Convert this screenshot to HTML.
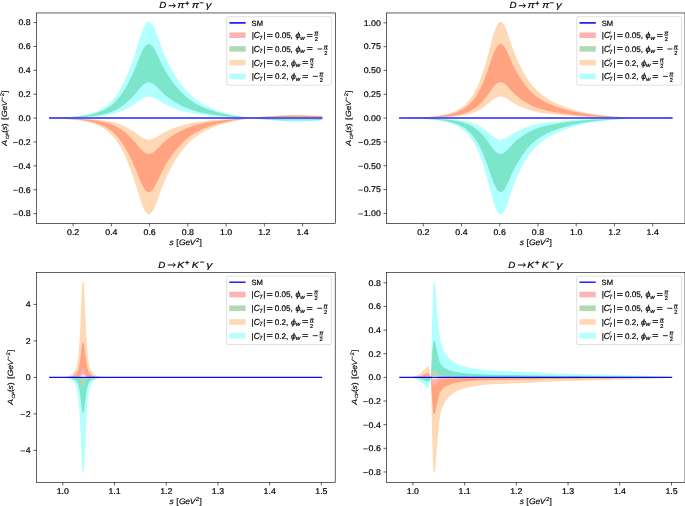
<!DOCTYPE html>
<html><head><meta charset="utf-8"><title>plot</title>
<style>html,body{margin:0;padding:0;background:#fff;} svg text{text-rendering:geometricPrecision} body{width:685px;height:506px;overflow:hidden;font-family:"Liberation Sans",sans-serif;} svg{display:block}</style>
</head><body>
<div style="will-change:transform;width:685px;height:506px">
<svg width="685" height="506" viewBox="0 0 685 506" font-family="Liberation Sans, sans-serif">
<clipPath id="c0"><rect x="36.5" y="12.97" width="298.8" height="210.38"/></clipPath><g clip-path="url(#c0)">
<path d="M49.8,118.1 L51.0,118.1 L52.1,118.1 L53.2,118.2 L54.4,118.2 L55.5,118.2 L56.6,118.2 L57.8,118.3 L58.9,118.3 L60.1,118.3 L61.2,118.4 L62.3,118.4 L63.5,118.4 L64.6,118.5 L65.7,118.5 L66.9,118.5 L68.0,118.6 L69.2,118.6 L70.3,118.6 L71.4,118.7 L72.6,118.7 L73.7,118.7 L74.8,118.8 L76.0,118.8 L77.1,118.9 L78.3,118.9 L79.4,119.0 L80.5,119.0 L81.7,119.1 L82.8,119.2 L83.9,119.3 L85.1,119.3 L86.2,119.4 L87.4,119.5 L88.5,119.6 L89.6,119.7 L90.8,119.9 L91.9,120.0 L93.0,120.1 L94.2,120.3 L95.3,120.4 L96.5,120.6 L97.6,120.8 L98.7,121.0 L99.9,121.2 L101.0,121.4 L102.1,121.6 L103.3,121.9 L104.4,122.2 L105.6,122.5 L106.7,122.8 L107.8,123.1 L109.0,123.5 L110.1,123.8 L111.2,124.3 L112.4,124.7 L113.5,125.2 L114.7,125.7 L115.8,126.3 L116.9,126.9 L118.1,127.5 L119.2,128.2 L120.3,128.9 L121.5,129.7 L122.6,130.5 L123.8,131.3 L124.9,132.2 L126.0,133.2 L127.2,134.2 L128.3,135.2 L129.4,136.3 L130.6,137.4 L131.7,138.5 L132.9,139.7 L134.0,141.0 L135.1,142.3 L136.3,143.6 L137.4,145.0 L138.5,146.4 L139.7,147.7 L140.8,149.0 L142.0,150.3 L143.1,151.3 L144.2,152.3 L145.4,153.0 L146.5,153.5 L147.6,153.8 L148.8,153.9 L149.9,153.8 L151.1,153.5 L152.2,153.0 L153.3,152.3 L154.5,151.5 L155.6,150.5 L156.7,149.4 L157.9,148.2 L159.0,147.0 L160.2,145.9 L161.3,144.7 L162.4,143.6 L163.6,142.5 L164.7,141.5 L165.8,140.5 L167.0,139.6 L168.1,138.7 L169.3,137.9 L170.4,137.1 L171.5,136.3 L172.7,135.6 L173.8,134.8 L174.9,134.1 L176.1,133.4 L177.2,132.8 L178.4,132.2 L179.5,131.5 L180.6,131.0 L181.8,130.4 L182.9,129.9 L184.1,129.3 L185.2,128.9 L186.3,128.4 L187.5,127.9 L188.6,127.5 L189.7,127.1 L190.9,126.7 L192.0,126.3 L193.2,125.9 L194.3,125.6 L195.4,125.2 L196.6,124.9 L197.7,124.6 L198.8,124.3 L200.0,124.0 L201.1,123.8 L202.3,123.5 L203.4,123.3 L204.5,123.1 L205.7,122.8 L206.8,122.6 L207.9,122.4 L209.1,122.2 L210.2,122.0 L211.4,121.8 L212.5,121.7 L213.6,121.5 L214.8,121.3 L215.9,121.2 L217.0,121.0 L218.2,120.9 L219.3,120.7 L220.5,120.6 L221.6,120.4 L222.7,120.3 L223.9,120.2 L225.0,120.1 L226.1,119.9 L227.3,119.8 L228.4,119.7 L229.6,119.6 L230.7,119.5 L231.8,119.4 L233.0,119.3 L234.1,119.2 L235.2,119.2 L236.4,119.1 L237.5,119.0 L238.7,118.9 L239.8,118.8 L240.9,118.8 L242.1,118.7 L243.2,118.6 L244.3,118.5 L245.5,118.5 L246.6,118.4 L247.8,118.3 L248.9,118.2 L250.0,118.2 L251.2,118.1 L252.3,118.0 L253.4,118.0 L254.6,117.9 L255.7,117.8 L256.9,117.8 L258.0,117.7 L259.1,117.7 L260.3,117.6 L261.4,117.6 L262.5,117.5 L263.7,117.5 L264.8,117.5 L266.0,117.4 L267.1,117.4 L268.2,117.4 L269.4,117.3 L270.5,117.3 L271.6,117.3 L272.8,117.2 L273.9,117.2 L275.1,117.2 L276.2,117.2 L277.3,117.1 L278.5,117.1 L279.6,117.1 L280.7,117.1 L281.9,117.0 L283.0,117.0 L284.2,117.0 L285.3,117.0 L286.4,117.0 L287.6,116.9 L288.7,116.9 L289.8,116.9 L291.0,116.9 L292.1,116.9 L293.3,116.9 L294.4,116.9 L295.5,116.9 L296.7,116.9 L297.8,116.9 L298.9,116.9 L300.1,116.9 L301.2,116.9 L302.4,116.9 L303.5,116.9 L304.6,117.0 L305.8,117.0 L306.9,117.0 L308.0,117.0 L309.2,117.0 L310.3,117.0 L311.5,117.0 L312.6,117.0 L313.7,117.1 L314.9,117.1 L316.0,117.1 L317.1,117.1 L318.3,117.1 L319.4,117.1 L320.6,117.2 L321.7,117.2 L321.7,116.2 L320.6,116.1 L319.4,116.1 L318.3,116.1 L317.1,116.0 L316.0,116.0 L314.9,116.0 L313.7,116.0 L312.6,115.9 L311.5,115.9 L310.3,115.9 L309.2,115.8 L308.0,115.8 L306.9,115.8 L305.8,115.8 L304.6,115.7 L303.5,115.7 L302.4,115.7 L301.2,115.7 L300.1,115.7 L298.9,115.6 L297.8,115.6 L296.7,115.6 L295.5,115.6 L294.4,115.6 L293.3,115.6 L292.1,115.6 L291.0,115.7 L289.8,115.7 L288.7,115.7 L287.6,115.7 L286.4,115.7 L285.3,115.8 L284.2,115.8 L283.0,115.8 L281.9,115.9 L280.7,115.9 L279.6,116.0 L278.5,116.0 L277.3,116.1 L276.2,116.1 L275.1,116.2 L273.9,116.3 L272.8,116.3 L271.6,116.4 L270.5,116.4 L269.4,116.5 L268.2,116.6 L267.1,116.6 L266.0,116.7 L264.8,116.8 L263.7,116.9 L262.5,116.9 L261.4,117.0 L260.3,117.1 L259.1,117.2 L258.0,117.3 L256.9,117.4 L255.7,117.6 L254.6,117.7 L253.4,117.8 L252.3,117.9 L251.2,118.1 L250.0,118.2 L248.9,118.4 L247.8,118.5 L246.6,118.7 L245.5,118.8 L244.3,119.0 L243.2,119.2 L242.1,119.3 L240.9,119.5 L239.8,119.6 L238.7,119.8 L237.5,119.9 L236.4,120.1 L235.2,120.3 L234.1,120.4 L233.0,120.6 L231.8,120.8 L230.7,121.0 L229.6,121.2 L228.4,121.4 L227.3,121.7 L226.1,121.9 L225.0,122.2 L223.9,122.4 L222.7,122.7 L221.6,122.9 L220.5,123.2 L219.3,123.5 L218.2,123.8 L217.0,124.1 L215.9,124.5 L214.8,124.8 L213.6,125.1 L212.5,125.5 L211.4,125.8 L210.2,126.2 L209.1,126.6 L207.9,127.0 L206.8,127.4 L205.7,127.9 L204.5,128.3 L203.4,128.8 L202.3,129.3 L201.1,129.8 L200.0,130.4 L198.8,130.9 L197.7,131.5 L196.6,132.2 L195.4,132.8 L194.3,133.5 L193.2,134.2 L192.0,135.0 L190.9,135.8 L189.7,136.6 L188.6,137.5 L187.5,138.4 L186.3,139.3 L185.2,140.3 L184.1,141.3 L182.9,142.4 L181.8,143.5 L180.6,144.7 L179.5,145.9 L178.4,147.2 L177.2,148.5 L176.1,149.8 L174.9,151.2 L173.8,152.7 L172.7,154.2 L171.5,155.7 L170.4,157.4 L169.3,159.0 L168.1,160.8 L167.0,162.6 L165.8,164.5 L164.7,166.4 L163.6,168.5 L162.4,170.7 L161.3,173.0 L160.2,175.5 L159.0,177.9 L157.9,180.4 L156.7,182.8 L155.6,185.1 L154.5,187.1 L153.3,188.9 L152.2,190.3 L151.1,191.3 L149.9,191.9 L148.8,192.1 L147.6,191.9 L146.5,191.3 L145.4,190.2 L144.2,188.7 L143.1,186.8 L142.0,184.6 L140.8,182.0 L139.7,179.3 L138.5,176.5 L137.4,173.7 L136.3,170.8 L135.1,168.1 L134.0,165.4 L132.9,162.8 L131.7,160.3 L130.6,157.9 L129.4,155.6 L128.3,153.4 L127.2,151.3 L126.0,149.3 L124.9,147.3 L123.8,145.4 L122.6,143.7 L121.5,142.0 L120.3,140.4 L119.2,138.9 L118.1,137.5 L116.9,136.2 L115.8,135.0 L114.7,133.8 L113.5,132.8 L112.4,131.8 L111.2,130.8 L110.1,130.0 L109.0,129.2 L107.8,128.4 L106.7,127.7 L105.6,127.1 L104.4,126.5 L103.3,125.9 L102.1,125.4 L101.0,124.9 L99.9,124.5 L98.7,124.1 L97.6,123.7 L96.5,123.3 L95.3,122.9 L94.2,122.6 L93.0,122.3 L91.9,122.0 L90.8,121.7 L89.6,121.5 L88.5,121.3 L87.4,121.0 L86.2,120.8 L85.1,120.7 L83.9,120.5 L82.8,120.3 L81.7,120.2 L80.5,120.0 L79.4,119.9 L78.3,119.8 L77.1,119.7 L76.0,119.6 L74.8,119.5 L73.7,119.4 L72.6,119.3 L71.4,119.3 L70.3,119.2 L69.2,119.1 L68.0,119.0 L66.9,119.0 L65.7,118.9 L64.6,118.8 L63.5,118.8 L62.3,118.7 L61.2,118.6 L60.1,118.6 L58.9,118.5 L57.8,118.5 L56.6,118.4 L55.5,118.4 L54.4,118.3 L53.2,118.2 L52.1,118.2 L51.0,118.1 L49.8,118.1 Z" fill="#ff0000" fill-opacity="0.3" stroke="none"/>
<path d="M49.8,118.1 L51.0,118.1 L52.1,118.0 L53.2,118.0 L54.4,117.9 L55.5,117.8 L56.6,117.8 L57.8,117.7 L58.9,117.7 L60.1,117.6 L61.2,117.6 L62.3,117.5 L63.5,117.4 L64.6,117.4 L65.7,117.3 L66.9,117.2 L68.0,117.2 L69.2,117.1 L70.3,117.0 L71.4,116.9 L72.6,116.9 L73.7,116.8 L74.8,116.7 L76.0,116.6 L77.1,116.5 L78.3,116.4 L79.4,116.3 L80.5,116.2 L81.7,116.0 L82.8,115.9 L83.9,115.7 L85.1,115.5 L86.2,115.4 L87.4,115.2 L88.5,114.9 L89.6,114.7 L90.8,114.5 L91.9,114.2 L93.0,113.9 L94.2,113.6 L95.3,113.3 L96.5,112.9 L97.6,112.5 L98.7,112.1 L99.9,111.7 L101.0,111.3 L102.1,110.8 L103.3,110.3 L104.4,109.7 L105.6,109.1 L106.7,108.5 L107.8,107.8 L109.0,107.0 L110.1,106.2 L111.2,105.4 L112.4,104.4 L113.5,103.4 L114.7,102.4 L115.8,101.2 L116.9,100.0 L118.1,98.7 L119.2,97.3 L120.3,95.8 L121.5,94.2 L122.6,92.5 L123.8,90.8 L124.9,88.9 L126.0,86.9 L127.2,84.9 L128.3,82.8 L129.4,80.6 L130.6,78.3 L131.7,75.9 L132.9,73.4 L134.0,70.8 L135.1,68.1 L136.3,65.4 L137.4,62.5 L138.5,59.7 L139.7,56.9 L140.8,54.2 L142.0,51.6 L143.1,49.4 L144.2,47.5 L145.4,46.0 L146.5,44.9 L147.6,44.3 L148.8,44.1 L149.9,44.3 L151.1,44.9 L152.2,45.9 L153.3,47.3 L154.5,49.1 L155.6,51.1 L156.7,53.4 L157.9,55.8 L159.0,58.3 L160.2,60.7 L161.3,63.2 L162.4,65.5 L163.6,67.7 L164.7,69.8 L165.8,71.7 L167.0,73.6 L168.1,75.4 L169.3,77.2 L170.4,78.8 L171.5,80.5 L172.7,82.0 L173.8,83.5 L174.9,85.0 L176.1,86.4 L177.2,87.7 L178.4,89.0 L179.5,90.3 L180.6,91.5 L181.8,92.7 L182.9,93.8 L184.1,94.9 L185.2,95.9 L186.3,96.9 L187.5,97.8 L188.6,98.7 L189.7,99.6 L190.9,100.4 L192.0,101.2 L193.2,102.0 L194.3,102.7 L195.4,103.4 L196.6,104.0 L197.7,104.7 L198.8,105.3 L200.0,105.8 L201.1,106.4 L202.3,106.9 L203.4,107.4 L204.5,107.9 L205.7,108.3 L206.8,108.8 L207.9,109.2 L209.1,109.6 L210.2,110.0 L211.4,110.4 L212.5,110.7 L213.6,111.1 L214.8,111.4 L215.9,111.7 L217.0,112.1 L218.2,112.4 L219.3,112.7 L220.5,113.0 L221.6,113.3 L222.7,113.5 L223.9,113.8 L225.0,114.0 L226.1,114.3 L227.3,114.5 L228.4,114.8 L229.6,115.0 L230.7,115.2 L231.8,115.4 L233.0,115.6 L234.1,115.8 L235.2,115.9 L236.4,116.1 L237.5,116.3 L238.7,116.4 L239.8,116.6 L240.9,116.7 L242.1,116.9 L243.2,117.0 L244.3,117.2 L245.5,117.4 L246.6,117.5 L247.8,117.7 L248.9,117.8 L250.0,118.0 L251.2,118.1 L252.3,118.3 L253.4,118.4 L254.6,118.5 L255.7,118.6 L256.9,118.8 L258.0,118.9 L259.1,119.0 L260.3,119.1 L261.4,119.2 L262.5,119.3 L263.7,119.3 L264.8,119.4 L266.0,119.5 L267.1,119.6 L268.2,119.6 L269.4,119.7 L270.5,119.8 L271.6,119.8 L272.8,119.9 L273.9,119.9 L275.1,120.0 L276.2,120.1 L277.3,120.1 L278.5,120.2 L279.6,120.2 L280.7,120.3 L281.9,120.3 L283.0,120.4 L284.2,120.4 L285.3,120.4 L286.4,120.5 L287.6,120.5 L288.7,120.5 L289.8,120.5 L291.0,120.5 L292.1,120.6 L293.3,120.6 L294.4,120.6 L295.5,120.6 L296.7,120.6 L297.8,120.6 L298.9,120.6 L300.1,120.5 L301.2,120.5 L302.4,120.5 L303.5,120.5 L304.6,120.5 L305.8,120.4 L306.9,120.4 L308.0,120.4 L309.2,120.4 L310.3,120.3 L311.5,120.3 L312.6,120.3 L313.7,120.2 L314.9,120.2 L316.0,120.2 L317.1,120.2 L318.3,120.1 L319.4,120.1 L320.6,120.1 L321.7,120.0 L321.7,119.0 L320.6,119.0 L319.4,119.1 L318.3,119.1 L317.1,119.1 L316.0,119.1 L314.9,119.1 L313.7,119.1 L312.6,119.2 L311.5,119.2 L310.3,119.2 L309.2,119.2 L308.0,119.2 L306.9,119.2 L305.8,119.2 L304.6,119.2 L303.5,119.3 L302.4,119.3 L301.2,119.3 L300.1,119.3 L298.9,119.3 L297.8,119.3 L296.7,119.3 L295.5,119.3 L294.4,119.3 L293.3,119.3 L292.1,119.3 L291.0,119.3 L289.8,119.3 L288.7,119.3 L287.6,119.3 L286.4,119.2 L285.3,119.2 L284.2,119.2 L283.0,119.2 L281.9,119.2 L280.7,119.1 L279.6,119.1 L278.5,119.1 L277.3,119.1 L276.2,119.0 L275.1,119.0 L273.9,119.0 L272.8,119.0 L271.6,118.9 L270.5,118.9 L269.4,118.9 L268.2,118.8 L267.1,118.8 L266.0,118.8 L264.8,118.7 L263.7,118.7 L262.5,118.7 L261.4,118.6 L260.3,118.6 L259.1,118.5 L258.0,118.5 L256.9,118.4 L255.7,118.4 L254.6,118.3 L253.4,118.2 L252.3,118.2 L251.2,118.1 L250.0,118.0 L248.9,118.0 L247.8,117.9 L246.6,117.8 L245.5,117.7 L244.3,117.7 L243.2,117.6 L242.1,117.5 L240.9,117.4 L239.8,117.4 L238.7,117.3 L237.5,117.2 L236.4,117.1 L235.2,117.0 L234.1,117.0 L233.0,116.9 L231.8,116.8 L230.7,116.7 L229.6,116.6 L228.4,116.5 L227.3,116.4 L226.1,116.3 L225.0,116.1 L223.9,116.0 L222.7,115.9 L221.6,115.8 L220.5,115.6 L219.3,115.5 L218.2,115.3 L217.0,115.2 L215.9,115.0 L214.8,114.9 L213.6,114.7 L212.5,114.5 L211.4,114.4 L210.2,114.2 L209.1,114.0 L207.9,113.8 L206.8,113.6 L205.7,113.4 L204.5,113.1 L203.4,112.9 L202.3,112.7 L201.1,112.4 L200.0,112.2 L198.8,111.9 L197.7,111.6 L196.6,111.3 L195.4,111.0 L194.3,110.6 L193.2,110.3 L192.0,109.9 L190.9,109.5 L189.7,109.1 L188.6,108.7 L187.5,108.3 L186.3,107.8 L185.2,107.3 L184.1,106.9 L182.9,106.3 L181.8,105.8 L180.6,105.2 L179.5,104.7 L178.4,104.0 L177.2,103.4 L176.1,102.8 L174.9,102.1 L173.8,101.4 L172.7,100.6 L171.5,99.9 L170.4,99.1 L169.3,98.3 L168.1,97.5 L167.0,96.6 L165.8,95.7 L164.7,94.7 L163.6,93.7 L162.4,92.6 L161.3,91.5 L160.2,90.3 L159.0,89.2 L157.9,88.0 L156.7,86.8 L155.6,85.7 L154.5,84.7 L153.3,83.9 L152.2,83.2 L151.1,82.7 L149.9,82.4 L148.8,82.3 L147.6,82.4 L146.5,82.7 L145.4,83.2 L144.2,83.9 L143.1,84.9 L142.0,85.9 L140.8,87.2 L139.7,88.5 L138.5,89.8 L137.4,91.2 L136.3,92.6 L135.1,93.9 L134.0,95.2 L132.9,96.5 L131.7,97.7 L130.6,98.8 L129.4,99.9 L128.3,101.0 L127.2,102.0 L126.0,103.0 L124.9,104.0 L123.8,104.9 L122.6,105.7 L121.5,106.5 L120.3,107.3 L119.2,108.0 L118.1,108.7 L116.9,109.3 L115.8,109.9 L114.7,110.5 L113.5,111.0 L112.4,111.5 L111.2,111.9 L110.1,112.4 L109.0,112.7 L107.8,113.1 L106.7,113.4 L105.6,113.7 L104.4,114.0 L103.3,114.3 L102.1,114.6 L101.0,114.8 L99.9,115.0 L98.7,115.2 L97.6,115.4 L96.5,115.6 L95.3,115.8 L94.2,115.9 L93.0,116.1 L91.9,116.2 L90.8,116.3 L89.6,116.5 L88.5,116.6 L87.4,116.7 L86.2,116.8 L85.1,116.9 L83.9,116.9 L82.8,117.0 L81.7,117.1 L80.5,117.2 L79.4,117.2 L78.3,117.3 L77.1,117.3 L76.0,117.4 L74.8,117.4 L73.7,117.5 L72.6,117.5 L71.4,117.5 L70.3,117.6 L69.2,117.6 L68.0,117.6 L66.9,117.7 L65.7,117.7 L64.6,117.7 L63.5,117.8 L62.3,117.8 L61.2,117.8 L60.1,117.9 L58.9,117.9 L57.8,117.9 L56.6,118.0 L55.5,118.0 L54.4,118.0 L53.2,118.0 L52.1,118.1 L51.0,118.1 L49.8,118.1 Z" fill="#008000" fill-opacity="0.3" stroke="none"/>
<path d="M49.8,118.1 L51.0,118.1 L52.1,118.1 L53.2,118.1 L54.4,118.2 L55.5,118.2 L56.6,118.2 L57.8,118.2 L58.9,118.2 L60.1,118.2 L61.2,118.3 L62.3,118.3 L63.5,118.3 L64.6,118.3 L65.7,118.3 L66.9,118.4 L68.0,118.4 L69.2,118.4 L70.3,118.4 L71.4,118.4 L72.6,118.5 L73.7,118.5 L74.8,118.5 L76.0,118.5 L77.1,118.6 L78.3,118.6 L79.4,118.6 L80.5,118.7 L81.7,118.7 L82.8,118.7 L83.9,118.8 L85.1,118.8 L86.2,118.9 L87.4,119.0 L88.5,119.0 L89.6,119.1 L90.8,119.2 L91.9,119.2 L93.0,119.3 L94.2,119.4 L95.3,119.5 L96.5,119.6 L97.6,119.7 L98.7,119.8 L99.9,120.0 L101.0,120.1 L102.1,120.2 L103.3,120.4 L104.4,120.5 L105.6,120.7 L106.7,120.9 L107.8,121.1 L109.0,121.3 L110.1,121.5 L111.2,121.8 L112.4,122.1 L113.5,122.4 L114.7,122.7 L115.8,123.0 L116.9,123.4 L118.1,123.7 L119.2,124.1 L120.3,124.6 L121.5,125.0 L122.6,125.5 L123.8,126.0 L124.9,126.6 L126.0,127.1 L127.2,127.7 L128.3,128.4 L129.4,129.0 L130.6,129.7 L131.7,130.4 L132.9,131.1 L134.0,131.8 L135.1,132.6 L136.3,133.4 L137.4,134.2 L138.5,135.1 L139.7,135.9 L140.8,136.7 L142.0,137.4 L143.1,138.0 L144.2,138.6 L145.4,139.0 L146.5,139.3 L147.6,139.5 L148.8,139.6 L149.9,139.5 L151.1,139.3 L152.2,139.0 L153.3,138.6 L154.5,138.1 L155.6,137.5 L156.7,136.9 L157.9,136.2 L159.0,135.5 L160.2,134.8 L161.3,134.1 L162.4,133.4 L163.6,132.7 L164.7,132.1 L165.8,131.6 L167.0,131.0 L168.1,130.5 L169.3,130.0 L170.4,129.5 L171.5,129.0 L172.7,128.6 L173.8,128.1 L174.9,127.7 L176.1,127.3 L177.2,126.9 L178.4,126.5 L179.5,126.2 L180.6,125.8 L181.8,125.5 L182.9,125.2 L184.1,124.8 L185.2,124.6 L186.3,124.3 L187.5,124.0 L188.6,123.7 L189.7,123.5 L190.9,123.2 L192.0,123.0 L193.2,122.8 L194.3,122.6 L195.4,122.4 L196.6,122.2 L197.7,122.0 L198.8,121.8 L200.0,121.7 L201.1,121.5 L202.3,121.4 L203.4,121.2 L204.5,121.1 L205.7,120.9 L206.8,120.8 L207.9,120.7 L209.1,120.6 L210.2,120.5 L211.4,120.3 L212.5,120.2 L213.6,120.1 L214.8,120.0 L215.9,119.9 L217.0,119.9 L218.2,119.8 L219.3,119.7 L220.5,119.6 L221.6,119.5 L222.7,119.4 L223.9,119.3 L225.0,119.3 L226.1,119.2 L227.3,119.1 L228.4,119.1 L229.6,119.0 L230.7,118.9 L231.8,118.9 L233.0,118.8 L234.1,118.8 L235.2,118.7 L236.4,118.7 L237.5,118.6 L238.7,118.6 L239.8,118.5 L240.9,118.5 L242.1,118.5 L243.2,118.4 L244.3,118.4 L245.5,118.3 L246.6,118.3 L247.8,118.2 L248.9,118.2 L250.0,118.1 L251.2,118.1 L252.3,118.1 L253.4,118.0 L254.6,118.0 L255.7,117.9 L256.9,117.9 L258.0,117.9 L259.1,117.8 L260.3,117.8 L261.4,117.8 L262.5,117.8 L263.7,117.7 L264.8,117.7 L266.0,117.7 L267.1,117.7 L268.2,117.7 L269.4,117.6 L270.5,117.6 L271.6,117.6 L272.8,117.6 L273.9,117.6 L275.1,117.5 L276.2,117.5 L277.3,117.5 L278.5,117.5 L279.6,117.5 L280.7,117.5 L281.9,117.5 L283.0,117.4 L284.2,117.4 L285.3,117.4 L286.4,117.4 L287.6,117.4 L288.7,117.4 L289.8,117.4 L291.0,117.4 L292.1,117.4 L293.3,117.4 L294.4,117.4 L295.5,117.4 L296.7,117.4 L297.8,117.4 L298.9,117.4 L300.1,117.4 L301.2,117.4 L302.4,117.4 L303.5,117.4 L304.6,117.4 L305.8,117.4 L306.9,117.4 L308.0,117.4 L309.2,117.4 L310.3,117.5 L311.5,117.5 L312.6,117.5 L313.7,117.5 L314.9,117.5 L316.0,117.5 L317.1,117.5 L318.3,117.5 L319.4,117.5 L320.6,117.5 L321.7,117.5 L321.7,115.6 L320.6,115.6 L319.4,115.5 L318.3,115.5 L317.1,115.4 L316.0,115.4 L314.9,115.4 L313.7,115.3 L312.6,115.3 L311.5,115.2 L310.3,115.2 L309.2,115.2 L308.0,115.1 L306.9,115.1 L305.8,115.1 L304.6,115.0 L303.5,115.0 L302.4,115.0 L301.2,115.0 L300.1,114.9 L298.9,114.9 L297.8,114.9 L296.7,114.9 L295.5,114.9 L294.4,114.9 L293.3,114.9 L292.1,114.9 L291.0,114.9 L289.8,114.9 L288.7,115.0 L287.6,115.0 L286.4,115.0 L285.3,115.1 L284.2,115.1 L283.0,115.2 L281.9,115.2 L280.7,115.3 L279.6,115.3 L278.5,115.4 L277.3,115.5 L276.2,115.6 L275.1,115.6 L273.9,115.7 L272.8,115.8 L271.6,115.9 L270.5,115.9 L269.4,116.0 L268.2,116.1 L267.1,116.2 L266.0,116.3 L264.8,116.4 L263.7,116.5 L262.5,116.6 L261.4,116.7 L260.3,116.8 L259.1,117.0 L258.0,117.1 L256.9,117.2 L255.7,117.4 L254.6,117.6 L253.4,117.7 L252.3,117.9 L251.2,118.1 L250.0,118.3 L248.9,118.5 L247.8,118.7 L246.6,118.9 L245.5,119.1 L244.3,119.3 L243.2,119.5 L242.1,119.7 L240.9,119.9 L239.8,120.1 L238.7,120.3 L237.5,120.5 L236.4,120.7 L235.2,120.9 L234.1,121.1 L233.0,121.4 L231.8,121.6 L230.7,121.9 L229.6,122.2 L228.4,122.4 L227.3,122.7 L226.1,123.0 L225.0,123.4 L223.9,123.7 L222.7,124.0 L221.6,124.4 L220.5,124.7 L219.3,125.1 L218.2,125.5 L217.0,125.9 L215.9,126.3 L214.8,126.8 L213.6,127.2 L212.5,127.7 L211.4,128.2 L210.2,128.6 L209.1,129.2 L207.9,129.7 L206.8,130.2 L205.7,130.8 L204.5,131.4 L203.4,132.0 L202.3,132.6 L201.1,133.3 L200.0,134.0 L198.8,134.8 L197.7,135.5 L196.6,136.4 L195.4,137.2 L194.3,138.1 L193.2,139.1 L192.0,140.1 L190.9,141.1 L189.7,142.2 L188.6,143.3 L187.5,144.5 L186.3,145.7 L185.2,147.0 L184.1,148.3 L182.9,149.7 L181.8,151.1 L180.6,152.6 L179.5,154.2 L178.4,155.8 L177.2,157.5 L176.1,159.3 L174.9,161.1 L173.8,163.0 L172.7,164.9 L171.5,167.0 L170.4,169.1 L169.3,171.2 L168.1,173.5 L167.0,175.8 L165.8,178.3 L164.7,180.9 L163.6,183.6 L162.4,186.4 L161.3,189.4 L160.2,192.6 L159.0,195.8 L157.9,199.0 L156.7,202.1 L155.6,205.0 L154.5,207.7 L153.3,210.0 L152.2,211.8 L151.1,213.1 L149.9,213.9 L148.8,214.2 L147.6,213.9 L146.5,213.1 L145.4,211.7 L144.2,209.7 L143.1,207.3 L142.0,204.4 L140.8,201.1 L139.7,197.6 L138.5,194.0 L137.4,190.3 L136.3,186.6 L135.1,183.0 L134.0,179.5 L132.9,176.1 L131.7,172.9 L130.6,169.8 L129.4,166.8 L128.3,164.0 L127.2,161.2 L126.0,158.6 L124.9,156.0 L123.8,153.6 L122.6,151.3 L121.5,149.1 L120.3,147.1 L119.2,145.1 L118.1,143.3 L116.9,141.6 L115.8,140.0 L114.7,138.5 L113.5,137.1 L112.4,135.8 L111.2,134.6 L110.1,133.5 L109.0,132.5 L107.8,131.5 L106.7,130.6 L105.6,129.8 L104.4,129.0 L103.3,128.3 L102.1,127.6 L101.0,127.0 L99.9,126.4 L98.7,125.8 L97.6,125.3 L96.5,124.8 L95.3,124.4 L94.2,124.0 L93.0,123.6 L91.9,123.2 L90.8,122.8 L89.6,122.5 L88.5,122.2 L87.4,121.9 L86.2,121.7 L85.1,121.4 L83.9,121.2 L82.8,121.0 L81.7,120.8 L80.5,120.6 L79.4,120.5 L78.3,120.3 L77.1,120.2 L76.0,120.0 L74.8,119.9 L73.7,119.8 L72.6,119.7 L71.4,119.6 L70.3,119.5 L69.2,119.4 L68.0,119.3 L66.9,119.2 L65.7,119.1 L64.6,119.1 L63.5,119.0 L62.3,118.9 L61.2,118.8 L60.1,118.7 L58.9,118.6 L57.8,118.6 L56.6,118.5 L55.5,118.4 L54.4,118.4 L53.2,118.3 L52.1,118.2 L51.0,118.2 L49.8,118.1 Z" fill="#ff7f0e" fill-opacity="0.3" stroke="none"/>
<path d="M49.8,118.1 L51.0,118.0 L52.1,118.0 L53.2,117.9 L54.4,117.8 L55.5,117.8 L56.6,117.7 L57.8,117.6 L58.9,117.6 L60.1,117.5 L61.2,117.4 L62.3,117.3 L63.5,117.2 L64.6,117.1 L65.7,117.1 L66.9,117.0 L68.0,116.9 L69.2,116.8 L70.3,116.7 L71.4,116.6 L72.6,116.5 L73.7,116.4 L74.8,116.3 L76.0,116.2 L77.1,116.0 L78.3,115.9 L79.4,115.7 L80.5,115.6 L81.7,115.4 L82.8,115.2 L83.9,115.0 L85.1,114.8 L86.2,114.5 L87.4,114.3 L88.5,114.0 L89.6,113.7 L90.8,113.4 L91.9,113.0 L93.0,112.6 L94.2,112.2 L95.3,111.8 L96.5,111.4 L97.6,110.9 L98.7,110.4 L99.9,109.8 L101.0,109.2 L102.1,108.6 L103.3,107.9 L104.4,107.2 L105.6,106.4 L106.7,105.6 L107.8,104.7 L109.0,103.7 L110.1,102.7 L111.2,101.6 L112.4,100.4 L113.5,99.1 L114.7,97.7 L115.8,96.2 L116.9,94.6 L118.1,92.9 L119.2,91.1 L120.3,89.1 L121.5,87.1 L122.6,84.9 L123.8,82.6 L124.9,80.2 L126.0,77.6 L127.2,75.0 L128.3,72.2 L129.4,69.4 L130.6,66.4 L131.7,63.3 L132.9,60.1 L134.0,56.7 L135.1,53.2 L136.3,49.6 L137.4,45.9 L138.5,42.2 L139.7,38.6 L140.8,35.1 L142.0,31.8 L143.1,28.9 L144.2,26.5 L145.4,24.5 L146.5,23.1 L147.6,22.3 L148.8,22.0 L149.9,22.3 L151.1,23.1 L152.2,24.4 L153.3,26.2 L154.5,28.5 L155.6,31.2 L156.7,34.1 L157.9,37.2 L159.0,40.4 L160.2,43.6 L161.3,46.8 L162.4,49.8 L163.6,52.6 L164.7,55.3 L165.8,57.9 L167.0,60.4 L168.1,62.7 L169.3,65.0 L170.4,67.1 L171.5,69.2 L172.7,71.3 L173.8,73.2 L174.9,75.1 L176.1,76.9 L177.2,78.7 L178.4,80.4 L179.5,82.0 L180.6,83.6 L181.8,85.1 L182.9,86.5 L184.1,87.9 L185.2,89.2 L186.3,90.5 L187.5,91.7 L188.6,92.9 L189.7,94.0 L190.9,95.1 L192.0,96.1 L193.2,97.1 L194.3,98.1 L195.4,99.0 L196.6,99.8 L197.7,100.7 L198.8,101.4 L200.0,102.2 L201.1,102.9 L202.3,103.6 L203.4,104.2 L204.5,104.8 L205.7,105.4 L206.8,106.0 L207.9,106.5 L209.1,107.0 L210.2,107.6 L211.4,108.0 L212.5,108.5 L213.6,109.0 L214.8,109.4 L215.9,109.9 L217.0,110.3 L218.2,110.7 L219.3,111.1 L220.5,111.5 L221.6,111.8 L222.7,112.2 L223.9,112.5 L225.0,112.8 L226.1,113.2 L227.3,113.5 L228.4,113.8 L229.6,114.0 L230.7,114.3 L231.8,114.6 L233.0,114.8 L234.1,115.1 L235.2,115.3 L236.4,115.5 L237.5,115.7 L238.7,115.9 L239.8,116.1 L240.9,116.3 L242.1,116.5 L243.2,116.7 L244.3,116.9 L245.5,117.1 L246.6,117.3 L247.8,117.5 L248.9,117.7 L250.0,117.9 L251.2,118.1 L252.3,118.3 L253.4,118.5 L254.6,118.6 L255.7,118.8 L256.9,119.0 L258.0,119.1 L259.1,119.2 L260.3,119.4 L261.4,119.5 L262.5,119.6 L263.7,119.7 L264.8,119.8 L266.0,119.9 L267.1,120.0 L268.2,120.1 L269.4,120.2 L270.5,120.3 L271.6,120.3 L272.8,120.4 L273.9,120.5 L275.1,120.6 L276.2,120.6 L277.3,120.7 L278.5,120.8 L279.6,120.9 L280.7,120.9 L281.9,121.0 L283.0,121.0 L284.2,121.1 L285.3,121.1 L286.4,121.2 L287.6,121.2 L288.7,121.2 L289.8,121.3 L291.0,121.3 L292.1,121.3 L293.3,121.3 L294.4,121.3 L295.5,121.3 L296.7,121.3 L297.8,121.3 L298.9,121.3 L300.1,121.3 L301.2,121.2 L302.4,121.2 L303.5,121.2 L304.6,121.2 L305.8,121.1 L306.9,121.1 L308.0,121.1 L309.2,121.0 L310.3,121.0 L311.5,121.0 L312.6,120.9 L313.7,120.9 L314.9,120.8 L316.0,120.8 L317.1,120.8 L318.3,120.7 L319.4,120.7 L320.6,120.6 L321.7,120.6 L321.7,118.7 L320.6,118.7 L319.4,118.7 L318.3,118.7 L317.1,118.7 L316.0,118.7 L314.9,118.7 L313.7,118.7 L312.6,118.7 L311.5,118.7 L310.3,118.7 L309.2,118.8 L308.0,118.8 L306.9,118.8 L305.8,118.8 L304.6,118.8 L303.5,118.8 L302.4,118.8 L301.2,118.8 L300.1,118.8 L298.9,118.8 L297.8,118.8 L296.7,118.8 L295.5,118.8 L294.4,118.8 L293.3,118.8 L292.1,118.8 L291.0,118.8 L289.8,118.8 L288.7,118.8 L287.6,118.8 L286.4,118.8 L285.3,118.8 L284.2,118.8 L283.0,118.8 L281.9,118.7 L280.7,118.7 L279.6,118.7 L278.5,118.7 L277.3,118.7 L276.2,118.7 L275.1,118.7 L273.9,118.6 L272.8,118.6 L271.6,118.6 L270.5,118.6 L269.4,118.6 L268.2,118.5 L267.1,118.5 L266.0,118.5 L264.8,118.5 L263.7,118.5 L262.5,118.4 L261.4,118.4 L260.3,118.4 L259.1,118.4 L258.0,118.3 L256.9,118.3 L255.7,118.3 L254.6,118.2 L253.4,118.2 L252.3,118.1 L251.2,118.1 L250.0,118.1 L248.9,118.0 L247.8,118.0 L246.6,117.9 L245.5,117.9 L244.3,117.8 L243.2,117.8 L242.1,117.7 L240.9,117.7 L239.8,117.7 L238.7,117.6 L237.5,117.6 L236.4,117.5 L235.2,117.5 L234.1,117.4 L233.0,117.4 L231.8,117.3 L230.7,117.3 L229.6,117.2 L228.4,117.1 L227.3,117.1 L226.1,117.0 L225.0,116.9 L223.9,116.9 L222.7,116.8 L221.6,116.7 L220.5,116.6 L219.3,116.5 L218.2,116.4 L217.0,116.3 L215.9,116.3 L214.8,116.2 L213.6,116.1 L212.5,116.0 L211.4,115.9 L210.2,115.7 L209.1,115.6 L207.9,115.5 L206.8,115.4 L205.7,115.3 L204.5,115.1 L203.4,115.0 L202.3,114.8 L201.1,114.7 L200.0,114.5 L198.8,114.4 L197.7,114.2 L196.6,114.0 L195.4,113.8 L194.3,113.6 L193.2,113.4 L192.0,113.2 L190.9,113.0 L189.7,112.7 L188.6,112.5 L187.5,112.2 L186.3,111.9 L185.2,111.6 L184.1,111.4 L182.9,111.0 L181.8,110.7 L180.6,110.4 L179.5,110.0 L178.4,109.7 L177.2,109.3 L176.1,108.9 L174.9,108.5 L173.8,108.1 L172.7,107.6 L171.5,107.2 L170.4,106.7 L169.3,106.2 L168.1,105.7 L167.0,105.2 L165.8,104.6 L164.7,104.1 L163.6,103.5 L162.4,102.8 L161.3,102.1 L160.2,101.4 L159.0,100.7 L157.9,100.0 L156.7,99.3 L155.6,98.7 L154.5,98.1 L153.3,97.6 L152.2,97.2 L151.1,96.9 L149.9,96.7 L148.8,96.6 L147.6,96.7 L146.5,96.9 L145.4,97.2 L144.2,97.6 L143.1,98.2 L142.0,98.8 L140.8,99.5 L139.7,100.3 L138.5,101.1 L137.4,102.0 L136.3,102.8 L135.1,103.6 L134.0,104.4 L132.9,105.1 L131.7,105.8 L130.6,106.5 L129.4,107.2 L128.3,107.8 L127.2,108.5 L126.0,109.1 L124.9,109.6 L123.8,110.2 L122.6,110.7 L121.5,111.2 L120.3,111.6 L119.2,112.1 L118.1,112.5 L116.9,112.8 L115.8,113.2 L114.7,113.5 L113.5,113.8 L112.4,114.1 L111.2,114.4 L110.1,114.7 L109.0,114.9 L107.8,115.1 L106.7,115.3 L105.6,115.5 L104.4,115.7 L103.3,115.8 L102.1,116.0 L101.0,116.1 L99.9,116.2 L98.7,116.4 L97.6,116.5 L96.5,116.6 L95.3,116.7 L94.2,116.8 L93.0,116.9 L91.9,117.0 L90.8,117.0 L89.6,117.1 L88.5,117.2 L87.4,117.2 L86.2,117.3 L85.1,117.4 L83.9,117.4 L82.8,117.5 L81.7,117.5 L80.5,117.5 L79.4,117.6 L78.3,117.6 L77.1,117.6 L76.0,117.7 L74.8,117.7 L73.7,117.7 L72.6,117.7 L71.4,117.8 L70.3,117.8 L69.2,117.8 L68.0,117.8 L66.9,117.8 L65.7,117.9 L64.6,117.9 L63.5,117.9 L62.3,117.9 L61.2,117.9 L60.1,118.0 L58.9,118.0 L57.8,118.0 L56.6,118.0 L55.5,118.0 L54.4,118.0 L53.2,118.1 L52.1,118.1 L51.0,118.1 L49.8,118.1 Z" fill="#00ffff" fill-opacity="0.3" stroke="none"/>
<line x1="49.81" y1="118.00" x2="321.70" y2="118.00" stroke="#2424f4" stroke-width="1.7" stroke-linecap="square"/>
</g>
<rect x="36.50" y="12.97" width="298.80" height="210.38" fill="none" stroke="#000" stroke-width="0.62"/>
<line x1="73.14" y1="223.35" x2="73.14" y2="226.45" stroke="#000" stroke-width="0.62"/>
<line x1="111.38" y1="223.35" x2="111.38" y2="226.45" stroke="#000" stroke-width="0.62"/>
<line x1="149.62" y1="223.35" x2="149.62" y2="226.45" stroke="#000" stroke-width="0.62"/>
<line x1="187.86" y1="223.35" x2="187.86" y2="226.45" stroke="#000" stroke-width="0.62"/>
<line x1="226.10" y1="223.35" x2="226.10" y2="226.45" stroke="#000" stroke-width="0.62"/>
<line x1="264.34" y1="223.35" x2="264.34" y2="226.45" stroke="#000" stroke-width="0.62"/>
<line x1="302.58" y1="223.35" x2="302.58" y2="226.45" stroke="#000" stroke-width="0.62"/>
<line x1="36.50" y1="213.62" x2="33.40" y2="213.62" stroke="#000" stroke-width="0.62"/>
<line x1="36.50" y1="189.74" x2="33.40" y2="189.74" stroke="#000" stroke-width="0.62"/>
<line x1="36.50" y1="165.86" x2="33.40" y2="165.86" stroke="#000" stroke-width="0.62"/>
<line x1="36.50" y1="141.98" x2="33.40" y2="141.98" stroke="#000" stroke-width="0.62"/>
<line x1="36.50" y1="118.10" x2="33.40" y2="118.10" stroke="#000" stroke-width="0.62"/>
<line x1="36.50" y1="94.22" x2="33.40" y2="94.22" stroke="#000" stroke-width="0.62"/>
<line x1="36.50" y1="70.34" x2="33.40" y2="70.34" stroke="#000" stroke-width="0.62"/>
<line x1="36.50" y1="46.46" x2="33.40" y2="46.46" stroke="#000" stroke-width="0.62"/>
<line x1="36.50" y1="22.58" x2="33.40" y2="22.58" stroke="#000" stroke-width="0.62"/>
<rect x="226.70" y="16.67" width="104.80" height="68.50" rx="1.4" fill="#fff" fill-opacity="0.8" stroke="#ccc" stroke-width="0.62"/>
<line x1="229.40" y1="22.87" x2="245.70" y2="22.87" stroke="#2222ff" stroke-width="1.8"/>
<rect x="229.40" y="32.42" width="16.30" height="5.6" fill="#ff0000" fill-opacity="0.3"/>
<rect x="229.40" y="46.12" width="16.30" height="5.6" fill="#008000" fill-opacity="0.3"/>
<rect x="229.40" y="59.82" width="16.30" height="5.6" fill="#ff7f0e" fill-opacity="0.3"/>
<rect x="229.40" y="73.52" width="16.30" height="5.6" fill="#00ffff" fill-opacity="0.3"/>
<clipPath id="c1"><rect x="386.6" y="12.97" width="298.80000000000007" height="210.38"/></clipPath><g clip-path="url(#c1)">
<path d="M399.9,118.1 L401.1,118.1 L402.2,118.0 L403.3,118.0 L404.5,118.0 L405.6,118.0 L406.7,117.9 L407.9,117.9 L409.0,117.9 L410.2,117.8 L411.3,117.8 L412.4,117.8 L413.6,117.7 L414.7,117.7 L415.8,117.7 L417.0,117.6 L418.1,117.6 L419.3,117.5 L420.4,117.5 L421.5,117.4 L422.7,117.4 L423.8,117.3 L424.9,117.3 L426.1,117.2 L427.2,117.2 L428.4,117.1 L429.5,117.0 L430.6,117.0 L431.8,116.9 L432.9,116.8 L434.0,116.7 L435.2,116.6 L436.3,116.5 L437.5,116.3 L438.6,116.2 L439.7,116.1 L440.9,115.9 L442.0,115.8 L443.1,115.6 L444.3,115.4 L445.4,115.2 L446.6,115.0 L447.7,114.7 L448.8,114.5 L450.0,114.2 L451.1,113.9 L452.2,113.6 L453.4,113.2 L454.5,112.9 L455.7,112.5 L456.8,112.0 L457.9,111.6 L459.1,111.1 L460.2,110.5 L461.3,110.0 L462.5,109.3 L463.6,108.7 L464.8,107.9 L465.9,107.1 L467.0,106.2 L468.2,105.3 L469.3,104.2 L470.4,103.1 L471.6,101.9 L472.7,100.5 L473.9,99.1 L475.0,97.6 L476.1,95.9 L477.3,94.1 L478.4,92.1 L479.5,90.0 L480.7,87.7 L481.8,85.3 L483.0,82.7 L484.1,79.9 L485.2,76.9 L486.4,73.9 L487.5,70.7 L488.6,67.5 L489.8,64.1 L490.9,60.8 L492.1,57.6 L493.2,54.5 L494.3,51.6 L495.5,49.2 L496.6,47.2 L497.7,45.7 L498.9,44.6 L500.0,44.1 L501.2,44.1 L502.3,44.6 L503.4,45.6 L504.6,47.0 L505.7,48.8 L506.8,51.0 L508.0,53.5 L509.1,56.1 L510.3,58.8 L511.4,61.4 L512.5,63.9 L513.7,66.3 L514.8,68.6 L515.9,70.7 L517.1,72.7 L518.2,74.6 L519.4,76.5 L520.5,78.3 L521.6,80.0 L522.8,81.7 L523.9,83.3 L525.0,84.8 L526.2,86.3 L527.3,87.7 L528.5,89.0 L529.6,90.2 L530.7,91.4 L531.9,92.5 L533.0,93.6 L534.2,94.5 L535.3,95.5 L536.4,96.4 L537.6,97.2 L538.7,98.0 L539.8,98.8 L541.0,99.5 L542.1,100.2 L543.3,100.8 L544.4,101.5 L545.5,102.0 L546.7,102.6 L547.8,103.2 L548.9,103.7 L550.1,104.2 L551.2,104.6 L552.4,105.1 L553.5,105.6 L554.6,106.0 L555.8,106.4 L556.9,106.8 L558.0,107.2 L559.2,107.6 L560.3,107.9 L561.5,108.3 L562.6,108.6 L563.7,109.0 L564.9,109.3 L566.0,109.6 L567.1,109.9 L568.3,110.2 L569.4,110.5 L570.6,110.8 L571.7,111.1 L572.8,111.4 L574.0,111.6 L575.1,111.9 L576.2,112.1 L577.4,112.3 L578.5,112.6 L579.7,112.8 L580.8,113.0 L581.9,113.2 L583.1,113.4 L584.2,113.6 L585.3,113.8 L586.5,113.9 L587.6,114.1 L588.8,114.3 L589.9,114.4 L591.0,114.6 L592.2,114.7 L593.3,114.8 L594.4,115.0 L595.6,115.1 L596.7,115.2 L597.9,115.4 L599.0,115.5 L600.1,115.6 L601.3,115.7 L602.4,115.8 L603.5,115.9 L604.7,116.0 L605.8,116.1 L607.0,116.2 L608.1,116.3 L609.2,116.4 L610.4,116.4 L611.5,116.5 L612.6,116.6 L613.8,116.7 L614.9,116.8 L616.1,116.8 L617.2,116.9 L618.3,117.0 L619.5,117.1 L620.6,117.2 L621.7,117.3 L622.9,117.3 L624.0,117.4 L625.2,117.5 L626.3,117.6 L627.4,117.7 L628.6,117.8 L629.7,117.8 L630.8,117.9 L632.0,118.0 L633.1,118.0 L634.3,118.1 L635.4,118.1 L636.5,118.2 L637.7,118.2 L638.8,118.2 L639.9,118.3 L641.1,118.3 L642.2,118.3 L643.4,118.3 L644.5,118.3 L645.6,118.3 L646.8,118.3 L647.9,118.3 L649.0,118.3 L650.2,118.3 L651.3,118.3 L652.5,118.3 L653.6,118.3 L654.7,118.3 L655.9,118.3 L657.0,118.3 L658.1,118.3 L659.3,118.3 L660.4,118.3 L661.6,118.4 L662.7,118.4 L663.8,118.4 L665.0,118.4 L666.1,118.4 L667.2,118.4 L668.4,118.4 L669.5,118.4 L670.7,118.4 L671.8,118.4 L671.8,118.2 L670.7,118.2 L669.5,118.2 L668.4,118.2 L667.2,118.2 L666.1,118.2 L665.0,118.2 L663.8,118.2 L662.7,118.2 L661.6,118.2 L660.4,118.2 L659.3,118.2 L658.1,118.2 L657.0,118.2 L655.9,118.2 L654.7,118.2 L653.6,118.2 L652.5,118.2 L651.3,118.2 L650.2,118.2 L649.0,118.2 L647.9,118.2 L646.8,118.2 L645.6,118.2 L644.5,118.2 L643.4,118.2 L642.2,118.2 L641.1,118.2 L639.9,118.2 L638.8,118.2 L637.7,118.2 L636.5,118.1 L635.4,118.1 L634.3,118.1 L633.1,118.1 L632.0,118.0 L630.8,118.0 L629.7,118.0 L628.6,117.9 L627.4,117.9 L626.3,117.9 L625.2,117.8 L624.0,117.8 L622.9,117.7 L621.7,117.7 L620.6,117.7 L619.5,117.6 L618.3,117.6 L617.2,117.5 L616.1,117.5 L614.9,117.5 L613.8,117.4 L612.6,117.4 L611.5,117.3 L610.4,117.3 L609.2,117.3 L608.1,117.2 L607.0,117.2 L605.8,117.1 L604.7,117.1 L603.5,117.0 L602.4,117.0 L601.3,116.9 L600.1,116.9 L599.0,116.8 L597.9,116.8 L596.7,116.7 L595.6,116.7 L594.4,116.6 L593.3,116.5 L592.2,116.5 L591.0,116.4 L589.9,116.3 L588.8,116.2 L587.6,116.2 L586.5,116.1 L585.3,116.0 L584.2,115.9 L583.1,115.8 L581.9,115.7 L580.8,115.6 L579.7,115.5 L578.5,115.4 L577.4,115.3 L576.2,115.2 L575.1,115.1 L574.0,115.0 L572.8,114.8 L571.7,114.7 L570.6,114.6 L569.4,114.4 L568.3,114.3 L567.1,114.2 L566.0,114.0 L564.9,113.8 L563.7,113.7 L562.6,113.5 L561.5,113.4 L560.3,113.2 L559.2,113.0 L558.0,112.8 L556.9,112.6 L555.8,112.4 L554.6,112.2 L553.5,112.0 L552.4,111.8 L551.2,111.6 L550.1,111.4 L548.9,111.1 L547.8,110.9 L546.7,110.6 L545.5,110.3 L544.4,110.0 L543.3,109.7 L542.1,109.4 L541.0,109.1 L539.8,108.8 L538.7,108.4 L537.6,108.0 L536.4,107.6 L535.3,107.2 L534.2,106.7 L533.0,106.2 L531.9,105.7 L530.7,105.2 L529.6,104.6 L528.5,104.0 L527.3,103.4 L526.2,102.7 L525.0,102.0 L523.9,101.3 L522.8,100.5 L521.6,99.7 L520.5,98.8 L519.4,98.0 L518.2,97.1 L517.1,96.1 L515.9,95.2 L514.8,94.1 L513.7,93.0 L512.5,91.9 L511.4,90.7 L510.3,89.4 L509.1,88.1 L508.0,86.8 L506.8,85.6 L505.7,84.6 L504.6,83.7 L503.4,83.0 L502.3,82.5 L501.2,82.3 L500.0,82.3 L498.9,82.6 L497.7,83.0 L496.6,83.8 L495.5,84.7 L494.3,85.9 L493.2,87.3 L492.1,88.8 L490.9,90.4 L489.8,92.0 L488.6,93.6 L487.5,95.2 L486.4,96.7 L485.2,98.2 L484.1,99.6 L483.0,100.9 L481.8,102.2 L480.7,103.4 L479.5,104.5 L478.4,105.5 L477.3,106.5 L476.1,107.3 L475.0,108.2 L473.9,108.9 L472.7,109.6 L471.6,110.2 L470.4,110.8 L469.3,111.4 L468.2,111.9 L467.0,112.4 L465.9,112.8 L464.8,113.2 L463.6,113.5 L462.5,113.9 L461.3,114.2 L460.2,114.4 L459.1,114.7 L457.9,114.9 L456.8,115.2 L455.7,115.4 L454.5,115.6 L453.4,115.7 L452.2,115.9 L451.1,116.1 L450.0,116.2 L448.8,116.3 L447.7,116.5 L446.6,116.6 L445.4,116.7 L444.3,116.8 L443.1,116.9 L442.0,117.0 L440.9,117.0 L439.7,117.1 L438.6,117.2 L437.5,117.2 L436.3,117.3 L435.2,117.4 L434.0,117.4 L432.9,117.5 L431.8,117.5 L430.6,117.5 L429.5,117.6 L428.4,117.6 L427.2,117.7 L426.1,117.7 L424.9,117.7 L423.8,117.7 L422.7,117.8 L421.5,117.8 L420.4,117.8 L419.3,117.8 L418.1,117.8 L417.0,117.9 L415.8,117.9 L414.7,117.9 L413.6,117.9 L412.4,117.9 L411.3,118.0 L410.2,118.0 L409.0,118.0 L407.9,118.0 L406.7,118.0 L405.6,118.0 L404.5,118.0 L403.3,118.1 L402.2,118.1 L401.1,118.1 L399.9,118.1 Z" fill="#ff0000" fill-opacity="0.3" stroke="none"/>
<path d="M399.9,118.1 L401.1,118.1 L402.2,118.1 L403.3,118.1 L404.5,118.2 L405.6,118.2 L406.7,118.2 L407.9,118.2 L409.0,118.2 L410.2,118.2 L411.3,118.2 L412.4,118.3 L413.6,118.3 L414.7,118.3 L415.8,118.3 L417.0,118.3 L418.1,118.4 L419.3,118.4 L420.4,118.4 L421.5,118.4 L422.7,118.4 L423.8,118.5 L424.9,118.5 L426.1,118.5 L427.2,118.5 L428.4,118.6 L429.5,118.6 L430.6,118.7 L431.8,118.7 L432.9,118.7 L434.0,118.8 L435.2,118.8 L436.3,118.9 L437.5,119.0 L438.6,119.0 L439.7,119.1 L440.9,119.2 L442.0,119.2 L443.1,119.3 L444.3,119.4 L445.4,119.5 L446.6,119.6 L447.7,119.7 L448.8,119.9 L450.0,120.0 L451.1,120.1 L452.2,120.3 L453.4,120.5 L454.5,120.6 L455.7,120.8 L456.8,121.0 L457.9,121.3 L459.1,121.5 L460.2,121.8 L461.3,122.0 L462.5,122.3 L463.6,122.7 L464.8,123.0 L465.9,123.4 L467.0,123.8 L468.2,124.3 L469.3,124.8 L470.4,125.4 L471.6,126.0 L472.7,126.6 L473.9,127.3 L475.0,128.0 L476.1,128.9 L477.3,129.7 L478.4,130.7 L479.5,131.7 L480.7,132.8 L481.8,134.0 L483.0,135.3 L484.1,136.6 L485.2,138.0 L486.4,139.5 L487.5,141.0 L488.6,142.6 L489.8,144.2 L490.9,145.8 L492.1,147.4 L493.2,148.9 L494.3,150.3 L495.5,151.5 L496.6,152.4 L497.7,153.2 L498.9,153.6 L500.0,153.9 L501.2,153.9 L502.3,153.7 L503.4,153.2 L504.6,152.5 L505.7,151.6 L506.8,150.6 L508.0,149.4 L509.1,148.1 L510.3,146.8 L511.4,145.5 L512.5,144.3 L513.7,143.2 L514.8,142.1 L515.9,141.0 L517.1,140.1 L518.2,139.1 L519.4,138.2 L520.5,137.4 L521.6,136.5 L522.8,135.7 L523.9,134.9 L525.0,134.2 L526.2,133.5 L527.3,132.8 L528.5,132.2 L529.6,131.6 L530.7,131.0 L531.9,130.5 L533.0,130.0 L534.2,129.5 L535.3,129.0 L536.4,128.6 L537.6,128.2 L538.7,127.8 L539.8,127.4 L541.0,127.1 L542.1,126.8 L543.3,126.5 L544.4,126.2 L545.5,125.9 L546.7,125.6 L547.8,125.3 L548.9,125.1 L550.1,124.8 L551.2,124.6 L552.4,124.4 L553.5,124.2 L554.6,124.0 L555.8,123.8 L556.9,123.6 L558.0,123.4 L559.2,123.2 L560.3,123.0 L561.5,122.8 L562.6,122.7 L563.7,122.5 L564.9,122.4 L566.0,122.2 L567.1,122.0 L568.3,121.9 L569.4,121.8 L570.6,121.6 L571.7,121.5 L572.8,121.4 L574.0,121.2 L575.1,121.1 L576.2,121.0 L577.4,120.9 L578.5,120.8 L579.7,120.7 L580.8,120.6 L581.9,120.5 L583.1,120.4 L584.2,120.3 L585.3,120.2 L586.5,120.1 L587.6,120.0 L588.8,120.0 L589.9,119.9 L591.0,119.8 L592.2,119.7 L593.3,119.7 L594.4,119.6 L595.6,119.5 L596.7,119.5 L597.9,119.4 L599.0,119.4 L600.1,119.3 L601.3,119.3 L602.4,119.2 L603.5,119.2 L604.7,119.1 L605.8,119.1 L607.0,119.0 L608.1,119.0 L609.2,118.9 L610.4,118.9 L611.5,118.9 L612.6,118.8 L613.8,118.8 L614.9,118.7 L616.1,118.7 L617.2,118.7 L618.3,118.6 L619.5,118.6 L620.6,118.5 L621.7,118.5 L622.9,118.5 L624.0,118.4 L625.2,118.4 L626.3,118.3 L627.4,118.3 L628.6,118.3 L629.7,118.2 L630.8,118.2 L632.0,118.2 L633.1,118.1 L634.3,118.1 L635.4,118.1 L636.5,118.1 L637.7,118.0 L638.8,118.0 L639.9,118.0 L641.1,118.0 L642.2,118.0 L643.4,118.0 L644.5,118.0 L645.6,118.0 L646.8,118.0 L647.9,118.0 L649.0,118.0 L650.2,118.0 L651.3,118.0 L652.5,118.0 L653.6,118.0 L654.7,118.0 L655.9,118.0 L657.0,118.0 L658.1,118.0 L659.3,118.0 L660.4,118.0 L661.6,118.0 L662.7,118.0 L663.8,118.0 L665.0,118.0 L666.1,118.0 L667.2,118.0 L668.4,118.0 L669.5,118.0 L670.7,118.0 L671.8,118.0 L671.8,117.8 L670.7,117.8 L669.5,117.8 L668.4,117.8 L667.2,117.8 L666.1,117.8 L665.0,117.8 L663.8,117.8 L662.7,117.8 L661.6,117.8 L660.4,117.9 L659.3,117.9 L658.1,117.9 L657.0,117.9 L655.9,117.9 L654.7,117.9 L653.6,117.9 L652.5,117.9 L651.3,117.9 L650.2,117.9 L649.0,117.9 L647.9,117.9 L646.8,117.9 L645.6,117.9 L644.5,117.9 L643.4,117.9 L642.2,117.9 L641.1,117.9 L639.9,117.9 L638.8,118.0 L637.7,118.0 L636.5,118.0 L635.4,118.1 L634.3,118.1 L633.1,118.2 L632.0,118.2 L630.8,118.3 L629.7,118.4 L628.6,118.4 L627.4,118.5 L626.3,118.6 L625.2,118.7 L624.0,118.8 L622.9,118.9 L621.7,118.9 L620.6,119.0 L619.5,119.1 L618.3,119.2 L617.2,119.3 L616.1,119.4 L614.9,119.4 L613.8,119.5 L612.6,119.6 L611.5,119.7 L610.4,119.8 L609.2,119.8 L608.1,119.9 L607.0,120.0 L605.8,120.1 L604.7,120.2 L603.5,120.3 L602.4,120.4 L601.3,120.5 L600.1,120.6 L599.0,120.7 L597.9,120.8 L596.7,121.0 L595.6,121.1 L594.4,121.2 L593.3,121.4 L592.2,121.5 L591.0,121.6 L589.9,121.8 L588.8,121.9 L587.6,122.1 L586.5,122.3 L585.3,122.4 L584.2,122.6 L583.1,122.8 L581.9,123.0 L580.8,123.2 L579.7,123.4 L578.5,123.6 L577.4,123.9 L576.2,124.1 L575.1,124.3 L574.0,124.6 L572.8,124.8 L571.7,125.1 L570.6,125.4 L569.4,125.7 L568.3,126.0 L567.1,126.3 L566.0,126.6 L564.9,126.9 L563.7,127.2 L562.6,127.6 L561.5,127.9 L560.3,128.3 L559.2,128.6 L558.0,129.0 L556.9,129.4 L555.8,129.8 L554.6,130.2 L553.5,130.6 L552.4,131.1 L551.2,131.6 L550.1,132.0 L548.9,132.5 L547.8,133.0 L546.7,133.6 L545.5,134.2 L544.4,134.7 L543.3,135.4 L542.1,136.0 L541.0,136.7 L539.8,137.4 L538.7,138.2 L537.6,139.0 L536.4,139.8 L535.3,140.7 L534.2,141.7 L533.0,142.6 L531.9,143.7 L530.7,144.8 L529.6,146.0 L528.5,147.2 L527.3,148.5 L526.2,149.9 L525.0,151.4 L523.9,152.9 L522.8,154.5 L521.6,156.2 L520.5,157.9 L519.4,159.7 L518.2,161.6 L517.1,163.5 L515.9,165.5 L514.8,167.6 L513.7,169.9 L512.5,172.3 L511.4,174.8 L510.3,177.4 L509.1,180.1 L508.0,182.7 L506.8,185.2 L505.7,187.4 L504.6,189.2 L503.4,190.6 L502.3,191.6 L501.2,192.1 L500.0,192.1 L498.9,191.6 L497.7,190.5 L496.6,189.0 L495.5,187.0 L494.3,184.6 L493.2,181.7 L492.1,178.6 L490.9,175.4 L489.8,172.1 L488.6,168.7 L487.5,165.5 L486.4,162.3 L485.2,159.3 L484.1,156.3 L483.0,153.5 L481.8,150.9 L480.7,148.5 L479.5,146.2 L478.4,144.1 L477.3,142.1 L476.1,140.3 L475.0,138.6 L473.9,137.1 L472.7,135.7 L471.6,134.3 L470.4,133.1 L469.3,132.0 L468.2,130.9 L467.0,130.0 L465.9,129.1 L464.8,128.3 L463.6,127.5 L462.5,126.9 L461.3,126.2 L460.2,125.7 L459.1,125.1 L457.9,124.6 L456.8,124.2 L455.7,123.7 L454.5,123.3 L453.4,123.0 L452.2,122.6 L451.1,122.3 L450.0,122.0 L448.8,121.7 L447.7,121.5 L446.6,121.2 L445.4,121.0 L444.3,120.8 L443.1,120.6 L442.0,120.4 L440.9,120.3 L439.7,120.1 L438.6,120.0 L437.5,119.9 L436.3,119.7 L435.2,119.6 L434.0,119.5 L432.9,119.4 L431.8,119.3 L430.6,119.2 L429.5,119.2 L428.4,119.1 L427.2,119.0 L426.1,119.0 L424.9,118.9 L423.8,118.9 L422.7,118.8 L421.5,118.8 L420.4,118.7 L419.3,118.7 L418.1,118.6 L417.0,118.6 L415.8,118.5 L414.7,118.5 L413.6,118.5 L412.4,118.4 L411.3,118.4 L410.2,118.4 L409.0,118.3 L407.9,118.3 L406.7,118.3 L405.6,118.2 L404.5,118.2 L403.3,118.2 L402.2,118.2 L401.1,118.1 L399.9,118.1 Z" fill="#008000" fill-opacity="0.3" stroke="none"/>
<path d="M399.9,118.1 L401.1,118.1 L402.2,118.0 L403.3,118.0 L404.5,118.0 L405.6,117.9 L406.7,117.9 L407.9,117.8 L409.0,117.8 L410.2,117.8 L411.3,117.7 L412.4,117.7 L413.6,117.6 L414.7,117.6 L415.8,117.5 L417.0,117.5 L418.1,117.4 L419.3,117.4 L420.4,117.3 L421.5,117.2 L422.7,117.2 L423.8,117.1 L424.9,117.1 L426.1,117.0 L427.2,116.9 L428.4,116.8 L429.5,116.7 L430.6,116.6 L431.8,116.5 L432.9,116.4 L434.0,116.3 L435.2,116.1 L436.3,116.0 L437.5,115.8 L438.6,115.7 L439.7,115.5 L440.9,115.3 L442.0,115.1 L443.1,114.8 L444.3,114.6 L445.4,114.3 L446.6,114.0 L447.7,113.7 L448.8,113.4 L450.0,113.0 L451.1,112.6 L452.2,112.2 L453.4,111.8 L454.5,111.3 L455.7,110.8 L456.8,110.2 L457.9,109.6 L459.1,109.0 L460.2,108.3 L461.3,107.5 L462.5,106.7 L463.6,105.8 L464.8,104.9 L465.9,103.8 L467.0,102.7 L468.2,101.5 L469.3,100.1 L470.4,98.6 L471.6,97.0 L472.7,95.3 L473.9,93.4 L475.0,91.4 L476.1,89.3 L477.3,86.9 L478.4,84.4 L479.5,81.6 L480.7,78.7 L481.8,75.5 L483.0,72.1 L484.1,68.5 L485.2,64.7 L486.4,60.7 L487.5,56.6 L488.6,52.4 L489.8,48.0 L490.9,43.7 L492.1,39.5 L493.2,35.5 L494.3,31.8 L495.5,28.6 L496.6,26.0 L497.7,24.1 L498.9,22.7 L500.0,22.1 L501.2,22.0 L502.3,22.7 L503.4,24.0 L504.6,25.8 L505.7,28.2 L506.8,31.0 L508.0,34.2 L509.1,37.6 L510.3,41.1 L511.4,44.5 L512.5,47.7 L513.7,50.9 L514.8,53.8 L515.9,56.6 L517.1,59.2 L518.2,61.7 L519.4,64.1 L520.5,66.4 L521.6,68.7 L522.8,70.8 L523.9,72.9 L525.0,74.9 L526.2,76.8 L527.3,78.6 L528.5,80.3 L529.6,81.9 L530.7,83.4 L531.9,84.9 L533.0,86.2 L534.2,87.5 L535.3,88.7 L536.4,89.9 L537.6,91.0 L538.7,92.0 L539.8,93.0 L541.0,94.0 L542.1,94.8 L543.3,95.7 L544.4,96.5 L545.5,97.3 L546.7,98.0 L547.8,98.7 L548.9,99.4 L550.1,100.0 L551.2,100.6 L552.4,101.2 L553.5,101.8 L554.6,102.4 L555.8,102.9 L556.9,103.4 L558.0,103.9 L559.2,104.4 L560.3,104.9 L561.5,105.4 L562.6,105.8 L563.7,106.3 L564.9,106.7 L566.0,107.1 L567.1,107.5 L568.3,107.9 L569.4,108.3 L570.6,108.7 L571.7,109.0 L572.8,109.4 L574.0,109.7 L575.1,110.0 L576.2,110.3 L577.4,110.6 L578.5,110.9 L579.7,111.2 L580.8,111.5 L581.9,111.7 L583.1,112.0 L584.2,112.2 L585.3,112.5 L586.5,112.7 L587.6,112.9 L588.8,113.1 L589.9,113.3 L591.0,113.5 L592.2,113.7 L593.3,113.9 L594.4,114.1 L595.6,114.2 L596.7,114.4 L597.9,114.5 L599.0,114.7 L600.1,114.8 L601.3,115.0 L602.4,115.1 L603.5,115.2 L604.7,115.4 L605.8,115.5 L607.0,115.6 L608.1,115.7 L609.2,115.8 L610.4,115.9 L611.5,116.0 L612.6,116.2 L613.8,116.3 L614.9,116.4 L616.1,116.5 L617.2,116.6 L618.3,116.7 L619.5,116.8 L620.6,116.9 L621.7,117.0 L622.9,117.1 L624.0,117.2 L625.2,117.3 L626.3,117.4 L627.4,117.6 L628.6,117.7 L629.7,117.8 L630.8,117.9 L632.0,117.9 L633.1,118.0 L634.3,118.1 L635.4,118.2 L636.5,118.2 L637.7,118.2 L638.8,118.3 L639.9,118.3 L641.1,118.3 L642.2,118.4 L643.4,118.4 L644.5,118.4 L645.6,118.4 L646.8,118.4 L647.9,118.4 L649.0,118.4 L650.2,118.4 L651.3,118.4 L652.5,118.4 L653.6,118.4 L654.7,118.4 L655.9,118.4 L657.0,118.4 L658.1,118.4 L659.3,118.4 L660.4,118.4 L661.6,118.4 L662.7,118.4 L663.8,118.4 L665.0,118.4 L666.1,118.5 L667.2,118.5 L668.4,118.5 L669.5,118.5 L670.7,118.5 L671.8,118.5 L671.8,118.2 L670.7,118.2 L669.5,118.2 L668.4,118.2 L667.2,118.2 L666.1,118.2 L665.0,118.2 L663.8,118.2 L662.7,118.2 L661.6,118.2 L660.4,118.2 L659.3,118.2 L658.1,118.2 L657.0,118.2 L655.9,118.2 L654.7,118.2 L653.6,118.2 L652.5,118.2 L651.3,118.2 L650.2,118.2 L649.0,118.2 L647.9,118.2 L646.8,118.2 L645.6,118.2 L644.5,118.2 L643.4,118.2 L642.2,118.2 L641.1,118.2 L639.9,118.1 L638.8,118.1 L637.7,118.1 L636.5,118.1 L635.4,118.1 L634.3,118.1 L633.1,118.1 L632.0,118.1 L630.8,118.0 L629.7,118.0 L628.6,118.0 L627.4,118.0 L626.3,118.0 L625.2,117.9 L624.0,117.9 L622.9,117.9 L621.7,117.9 L620.6,117.8 L619.5,117.8 L618.3,117.8 L617.2,117.8 L616.1,117.7 L614.9,117.7 L613.8,117.7 L612.6,117.7 L611.5,117.6 L610.4,117.6 L609.2,117.6 L608.1,117.6 L607.0,117.5 L605.8,117.5 L604.7,117.5 L603.5,117.5 L602.4,117.4 L601.3,117.4 L600.1,117.4 L599.0,117.3 L597.9,117.3 L596.7,117.3 L595.6,117.2 L594.4,117.2 L593.3,117.2 L592.2,117.1 L591.0,117.1 L589.9,117.0 L588.8,117.0 L587.6,116.9 L586.5,116.9 L585.3,116.8 L584.2,116.8 L583.1,116.7 L581.9,116.7 L580.8,116.6 L579.7,116.6 L578.5,116.5 L577.4,116.4 L576.2,116.4 L575.1,116.3 L574.0,116.2 L572.8,116.1 L571.7,116.1 L570.6,116.0 L569.4,115.9 L568.3,115.8 L567.1,115.7 L566.0,115.6 L564.9,115.6 L563.7,115.5 L562.6,115.4 L561.5,115.3 L560.3,115.2 L559.2,115.0 L558.0,114.9 L556.9,114.8 L555.8,114.7 L554.6,114.6 L553.5,114.5 L552.4,114.3 L551.2,114.2 L550.1,114.1 L548.9,113.9 L547.8,113.8 L546.7,113.6 L545.5,113.4 L544.4,113.3 L543.3,113.1 L542.1,112.9 L541.0,112.7 L539.8,112.5 L538.7,112.3 L537.6,112.0 L536.4,111.8 L535.3,111.5 L534.2,111.3 L533.0,111.0 L531.9,110.7 L530.7,110.3 L529.6,110.0 L528.5,109.6 L527.3,109.3 L526.2,108.9 L525.0,108.4 L523.9,108.0 L522.8,107.5 L521.6,107.0 L520.5,106.5 L519.4,106.0 L518.2,105.5 L517.1,104.9 L515.9,104.3 L514.8,103.7 L513.7,103.1 L512.5,102.4 L511.4,101.6 L510.3,100.9 L509.1,100.1 L508.0,99.4 L506.8,98.6 L505.7,98.0 L504.6,97.5 L503.4,97.1 L502.3,96.8 L501.2,96.6 L500.0,96.6 L498.9,96.8 L497.7,97.1 L496.6,97.5 L495.5,98.1 L494.3,98.8 L493.2,99.6 L492.1,100.5 L490.9,101.5 L489.8,102.4 L488.6,103.4 L487.5,104.3 L486.4,105.3 L485.2,106.2 L484.1,107.0 L483.0,107.8 L481.8,108.6 L480.7,109.3 L479.5,109.9 L478.4,110.6 L477.3,111.1 L476.1,111.7 L475.0,112.1 L473.9,112.6 L472.7,113.0 L471.6,113.4 L470.4,113.7 L469.3,114.1 L468.2,114.4 L467.0,114.7 L465.9,114.9 L464.8,115.1 L463.6,115.4 L462.5,115.6 L461.3,115.7 L460.2,115.9 L459.1,116.1 L457.9,116.2 L456.8,116.3 L455.7,116.5 L454.5,116.6 L453.4,116.7 L452.2,116.8 L451.1,116.9 L450.0,117.0 L448.8,117.0 L447.7,117.1 L446.6,117.2 L445.4,117.3 L444.3,117.3 L443.1,117.4 L442.0,117.4 L440.9,117.5 L439.7,117.5 L438.6,117.6 L437.5,117.6 L436.3,117.6 L435.2,117.7 L434.0,117.7 L432.9,117.7 L431.8,117.7 L430.6,117.8 L429.5,117.8 L428.4,117.8 L427.2,117.8 L426.1,117.8 L424.9,117.9 L423.8,117.9 L422.7,117.9 L421.5,117.9 L420.4,117.9 L419.3,117.9 L418.1,117.9 L417.0,118.0 L415.8,118.0 L414.7,118.0 L413.6,118.0 L412.4,118.0 L411.3,118.0 L410.2,118.0 L409.0,118.0 L407.9,118.0 L406.7,118.1 L405.6,118.1 L404.5,118.1 L403.3,118.1 L402.2,118.1 L401.1,118.1 L399.9,118.1 Z" fill="#ff7f0e" fill-opacity="0.3" stroke="none"/>
<path d="M399.9,118.1 L401.1,118.1 L402.2,118.1 L403.3,118.1 L404.5,118.1 L405.6,118.1 L406.7,118.1 L407.9,118.2 L409.0,118.2 L410.2,118.2 L411.3,118.2 L412.4,118.2 L413.6,118.2 L414.7,118.2 L415.8,118.2 L417.0,118.2 L418.1,118.3 L419.3,118.3 L420.4,118.3 L421.5,118.3 L422.7,118.3 L423.8,118.3 L424.9,118.3 L426.1,118.4 L427.2,118.4 L428.4,118.4 L429.5,118.4 L430.6,118.4 L431.8,118.5 L432.9,118.5 L434.0,118.5 L435.2,118.5 L436.3,118.6 L437.5,118.6 L438.6,118.6 L439.7,118.7 L440.9,118.7 L442.0,118.8 L443.1,118.8 L444.3,118.9 L445.4,118.9 L446.6,119.0 L447.7,119.1 L448.8,119.2 L450.0,119.2 L451.1,119.3 L452.2,119.4 L453.4,119.5 L454.5,119.6 L455.7,119.7 L456.8,119.9 L457.9,120.0 L459.1,120.1 L460.2,120.3 L461.3,120.5 L462.5,120.6 L463.6,120.8 L464.8,121.1 L465.9,121.3 L467.0,121.5 L468.2,121.8 L469.3,122.1 L470.4,122.5 L471.6,122.8 L472.7,123.2 L473.9,123.6 L475.0,124.1 L476.1,124.5 L477.3,125.1 L478.4,125.6 L479.5,126.3 L480.7,126.9 L481.8,127.6 L483.0,128.4 L484.1,129.2 L485.2,130.0 L486.4,130.9 L487.5,131.9 L488.6,132.8 L489.8,133.8 L490.9,134.7 L492.1,135.7 L493.2,136.6 L494.3,137.4 L495.5,138.1 L496.6,138.7 L497.7,139.1 L498.9,139.4 L500.0,139.6 L501.2,139.6 L502.3,139.4 L503.4,139.1 L504.6,138.7 L505.7,138.2 L506.8,137.6 L508.0,136.8 L509.1,136.1 L510.3,135.3 L511.4,134.6 L512.5,133.8 L513.7,133.1 L514.8,132.5 L515.9,131.9 L517.1,131.3 L518.2,130.7 L519.4,130.2 L520.5,129.7 L521.6,129.2 L522.8,128.7 L523.9,128.2 L525.0,127.8 L526.2,127.3 L527.3,126.9 L528.5,126.6 L529.6,126.2 L530.7,125.9 L531.9,125.5 L533.0,125.2 L534.2,124.9 L535.3,124.7 L536.4,124.4 L537.6,124.2 L538.7,123.9 L539.8,123.7 L541.0,123.5 L542.1,123.3 L543.3,123.1 L544.4,122.9 L545.5,122.8 L546.7,122.6 L547.8,122.4 L548.9,122.3 L550.1,122.1 L551.2,122.0 L552.4,121.9 L553.5,121.7 L554.6,121.6 L555.8,121.5 L556.9,121.4 L558.0,121.3 L559.2,121.2 L560.3,121.0 L561.5,120.9 L562.6,120.8 L563.7,120.7 L564.9,120.6 L566.0,120.6 L567.1,120.5 L568.3,120.4 L569.4,120.3 L570.6,120.2 L571.7,120.1 L572.8,120.1 L574.0,120.0 L575.1,119.9 L576.2,119.8 L577.4,119.8 L578.5,119.7 L579.7,119.6 L580.8,119.6 L581.9,119.5 L583.1,119.5 L584.2,119.4 L585.3,119.4 L586.5,119.3 L587.6,119.3 L588.8,119.2 L589.9,119.2 L591.0,119.1 L592.2,119.1 L593.3,119.0 L594.4,119.0 L595.6,119.0 L596.7,118.9 L597.9,118.9 L599.0,118.9 L600.1,118.8 L601.3,118.8 L602.4,118.8 L603.5,118.7 L604.7,118.7 L605.8,118.7 L607.0,118.7 L608.1,118.6 L609.2,118.6 L610.4,118.6 L611.5,118.6 L612.6,118.5 L613.8,118.5 L614.9,118.5 L616.1,118.5 L617.2,118.4 L618.3,118.4 L619.5,118.4 L620.6,118.4 L621.7,118.3 L622.9,118.3 L624.0,118.3 L625.2,118.3 L626.3,118.2 L627.4,118.2 L628.6,118.2 L629.7,118.2 L630.8,118.2 L632.0,118.1 L633.1,118.1 L634.3,118.1 L635.4,118.1 L636.5,118.1 L637.7,118.1 L638.8,118.1 L639.9,118.1 L641.1,118.0 L642.2,118.0 L643.4,118.0 L644.5,118.0 L645.6,118.0 L646.8,118.0 L647.9,118.0 L649.0,118.0 L650.2,118.0 L651.3,118.0 L652.5,118.0 L653.6,118.0 L654.7,118.0 L655.9,118.0 L657.0,118.0 L658.1,118.0 L659.3,118.0 L660.4,118.0 L661.6,118.0 L662.7,118.0 L663.8,118.0 L665.0,118.0 L666.1,118.0 L667.2,118.0 L668.4,118.0 L669.5,118.0 L670.7,118.0 L671.8,118.0 L671.8,117.7 L670.7,117.7 L669.5,117.7 L668.4,117.7 L667.2,117.7 L666.1,117.7 L665.0,117.8 L663.8,117.8 L662.7,117.8 L661.6,117.8 L660.4,117.8 L659.3,117.8 L658.1,117.8 L657.0,117.8 L655.9,117.8 L654.7,117.8 L653.6,117.8 L652.5,117.8 L651.3,117.8 L650.2,117.8 L649.0,117.8 L647.9,117.8 L646.8,117.8 L645.6,117.8 L644.5,117.8 L643.4,117.8 L642.2,117.8 L641.1,117.9 L639.9,117.9 L638.8,117.9 L637.7,118.0 L636.5,118.0 L635.4,118.0 L634.3,118.1 L633.1,118.2 L632.0,118.3 L630.8,118.3 L629.7,118.4 L628.6,118.5 L627.4,118.6 L626.3,118.8 L625.2,118.9 L624.0,119.0 L622.9,119.1 L621.7,119.2 L620.6,119.3 L619.5,119.4 L618.3,119.5 L617.2,119.6 L616.1,119.7 L614.9,119.8 L613.8,119.9 L612.6,120.0 L611.5,120.2 L610.4,120.3 L609.2,120.4 L608.1,120.5 L607.0,120.6 L605.8,120.7 L604.7,120.8 L603.5,121.0 L602.4,121.1 L601.3,121.2 L600.1,121.4 L599.0,121.5 L597.9,121.7 L596.7,121.8 L595.6,122.0 L594.4,122.1 L593.3,122.3 L592.2,122.5 L591.0,122.7 L589.9,122.9 L588.8,123.1 L587.6,123.3 L586.5,123.5 L585.3,123.7 L584.2,124.0 L583.1,124.2 L581.9,124.5 L580.8,124.7 L579.7,125.0 L578.5,125.3 L577.4,125.6 L576.2,125.9 L575.1,126.2 L574.0,126.5 L572.8,126.8 L571.7,127.2 L570.6,127.5 L569.4,127.9 L568.3,128.3 L567.1,128.7 L566.0,129.1 L564.9,129.5 L563.7,129.9 L562.6,130.4 L561.5,130.8 L560.3,131.3 L559.2,131.8 L558.0,132.3 L556.9,132.8 L555.8,133.3 L554.6,133.8 L553.5,134.4 L552.4,135.0 L551.2,135.6 L550.1,136.2 L548.9,136.8 L547.8,137.5 L546.7,138.2 L545.5,138.9 L544.4,139.7 L543.3,140.5 L542.1,141.4 L541.0,142.2 L539.8,143.2 L538.7,144.2 L537.6,145.2 L536.4,146.3 L535.3,147.5 L534.2,148.7 L533.0,150.0 L531.9,151.3 L530.7,152.8 L529.6,154.3 L528.5,155.9 L527.3,157.6 L526.2,159.4 L525.0,161.3 L523.9,163.3 L522.8,165.4 L521.6,167.5 L520.5,169.8 L519.4,172.1 L518.2,174.5 L517.1,177.0 L515.9,179.6 L514.8,182.4 L513.7,185.3 L512.5,188.5 L511.4,191.7 L510.3,195.1 L509.1,198.6 L508.0,202.0 L506.8,205.2 L505.7,208.0 L504.6,210.4 L503.4,212.2 L502.3,213.5 L501.2,214.2 L500.0,214.1 L498.9,213.5 L497.7,212.1 L496.6,210.2 L495.5,207.6 L494.3,204.4 L493.2,200.7 L492.1,196.7 L490.9,192.5 L489.8,188.2 L488.6,183.8 L487.5,179.6 L486.4,175.5 L485.2,171.5 L484.1,167.7 L483.0,164.1 L481.8,160.7 L480.7,157.5 L479.5,154.6 L478.4,151.8 L477.3,149.3 L476.1,146.9 L475.0,144.8 L473.9,142.8 L472.7,140.9 L471.6,139.2 L470.4,137.6 L469.3,136.1 L468.2,134.7 L467.0,133.5 L465.9,132.4 L464.8,131.3 L463.6,130.4 L462.5,129.5 L461.3,128.7 L460.2,127.9 L459.1,127.2 L457.9,126.6 L456.8,126.0 L455.7,125.4 L454.5,124.9 L453.4,124.4 L452.2,124.0 L451.1,123.6 L450.0,123.2 L448.8,122.8 L447.7,122.5 L446.6,122.2 L445.4,121.9 L444.3,121.6 L443.1,121.4 L442.0,121.1 L440.9,120.9 L439.7,120.7 L438.6,120.5 L437.5,120.4 L436.3,120.2 L435.2,120.1 L434.0,119.9 L432.9,119.8 L431.8,119.7 L430.6,119.6 L429.5,119.5 L428.4,119.4 L427.2,119.3 L426.1,119.2 L424.9,119.1 L423.8,119.1 L422.7,119.0 L421.5,119.0 L420.4,118.9 L419.3,118.8 L418.1,118.8 L417.0,118.7 L415.8,118.7 L414.7,118.6 L413.6,118.6 L412.4,118.5 L411.3,118.5 L410.2,118.4 L409.0,118.4 L407.9,118.4 L406.7,118.3 L405.6,118.3 L404.5,118.2 L403.3,118.2 L402.2,118.2 L401.1,118.1 L399.9,118.1 Z" fill="#00ffff" fill-opacity="0.3" stroke="none"/>
<line x1="399.91" y1="118.00" x2="671.80" y2="118.00" stroke="#2424f4" stroke-width="1.7" stroke-linecap="square"/>
</g>
<rect x="386.60" y="12.97" width="298.40" height="210.38" fill="none" stroke="#000" stroke-width="0.62"/>
<line x1="423.24" y1="223.35" x2="423.24" y2="226.45" stroke="#000" stroke-width="0.62"/>
<line x1="461.48" y1="223.35" x2="461.48" y2="226.45" stroke="#000" stroke-width="0.62"/>
<line x1="499.72" y1="223.35" x2="499.72" y2="226.45" stroke="#000" stroke-width="0.62"/>
<line x1="537.96" y1="223.35" x2="537.96" y2="226.45" stroke="#000" stroke-width="0.62"/>
<line x1="576.20" y1="223.35" x2="576.20" y2="226.45" stroke="#000" stroke-width="0.62"/>
<line x1="614.44" y1="223.35" x2="614.44" y2="226.45" stroke="#000" stroke-width="0.62"/>
<line x1="652.68" y1="223.35" x2="652.68" y2="226.45" stroke="#000" stroke-width="0.62"/>
<line x1="386.60" y1="213.40" x2="383.50" y2="213.40" stroke="#000" stroke-width="0.62"/>
<line x1="386.60" y1="189.57" x2="383.50" y2="189.57" stroke="#000" stroke-width="0.62"/>
<line x1="386.60" y1="165.75" x2="383.50" y2="165.75" stroke="#000" stroke-width="0.62"/>
<line x1="386.60" y1="141.92" x2="383.50" y2="141.92" stroke="#000" stroke-width="0.62"/>
<line x1="386.60" y1="118.10" x2="383.50" y2="118.10" stroke="#000" stroke-width="0.62"/>
<line x1="386.60" y1="94.27" x2="383.50" y2="94.27" stroke="#000" stroke-width="0.62"/>
<line x1="386.60" y1="70.45" x2="383.50" y2="70.45" stroke="#000" stroke-width="0.62"/>
<line x1="386.60" y1="46.62" x2="383.50" y2="46.62" stroke="#000" stroke-width="0.62"/>
<line x1="386.60" y1="22.80" x2="383.50" y2="22.80" stroke="#000" stroke-width="0.62"/>
<rect x="576.80" y="16.67" width="104.80" height="68.50" rx="1.4" fill="#fff" fill-opacity="0.8" stroke="#ccc" stroke-width="0.62"/>
<line x1="579.50" y1="22.87" x2="595.80" y2="22.87" stroke="#2222ff" stroke-width="1.8"/>
<rect x="579.50" y="32.42" width="16.30" height="5.6" fill="#ff0000" fill-opacity="0.3"/>
<rect x="579.50" y="46.12" width="16.30" height="5.6" fill="#008000" fill-opacity="0.3"/>
<rect x="579.50" y="59.82" width="16.30" height="5.6" fill="#ff7f0e" fill-opacity="0.3"/>
<rect x="579.50" y="73.52" width="16.30" height="5.6" fill="#00ffff" fill-opacity="0.3"/>
<clipPath id="d0"><rect x="36.5" y="272.3" width="298.7" height="210.09999999999997"/></clipPath><g clip-path="url(#d0)">
<path d="M49.9,377.4 L52.8,377.4 L55.6,377.3 L58.5,377.3 L61.4,377.3 L64.3,377.2 L67.1,377.1 L70.0,376.7 L70.2,376.7 L70.4,376.6 L70.6,376.6 L70.8,376.6 L71.0,376.5 L71.2,376.5 L71.4,376.4 L71.6,376.4 L71.8,376.3 L72.0,376.3 L72.2,376.2 L72.4,376.1 L72.6,376.1 L72.8,376.0 L73.0,375.9 L73.2,375.9 L73.4,375.8 L73.6,375.7 L73.8,375.6 L74.0,375.5 L74.2,375.4 L74.4,375.3 L74.6,375.2 L74.8,375.1 L75.0,374.9 L75.2,374.8 L75.4,374.6 L75.6,374.5 L75.8,374.3 L76.0,374.1 L76.2,373.9 L76.4,373.7 L76.6,373.4 L76.8,373.1 L77.0,372.8 L77.2,372.4 L77.4,372.0 L77.6,371.6 L77.8,371.1 L78.0,370.7 L78.2,370.1 L78.4,369.5 L78.6,368.7 L78.8,367.9 L79.0,366.9 L79.2,365.9 L79.4,364.9 L79.6,363.7 L79.8,362.5 L80.0,361.3 L80.2,359.9 L80.4,358.3 L80.6,356.5 L80.8,354.7 L81.0,353.0 L81.2,351.4 L81.4,349.8 L81.6,348.3 L81.8,346.6 L82.0,344.7 L82.2,343.7 L82.4,342.9 L82.6,342.5 L82.8,342.4 L83.0,342.4 L83.2,342.4 L83.4,342.4 L83.6,342.5 L83.8,342.9 L84.0,343.7 L84.2,344.7 L84.4,346.6 L84.6,348.3 L84.8,349.8 L85.0,351.4 L85.2,353.0 L85.4,354.7 L85.6,356.5 L85.8,358.3 L86.0,359.9 L86.2,361.3 L86.4,362.5 L86.6,363.7 L86.8,364.9 L87.0,365.9 L87.2,366.9 L87.4,367.9 L87.6,368.7 L87.8,369.5 L88.0,370.1 L88.2,370.7 L88.4,371.1 L88.6,371.6 L88.8,372.0 L89.0,372.4 L89.2,372.8 L89.4,373.1 L89.6,373.4 L89.8,373.7 L90.0,373.9 L90.2,374.1 L90.4,374.3 L90.6,374.5 L90.8,374.6 L91.0,374.8 L91.2,374.9 L91.4,375.1 L91.6,375.2 L91.8,375.3 L92.0,375.4 L92.2,375.5 L92.4,375.6 L92.6,375.7 L92.8,375.8 L93.0,375.9 L93.2,375.9 L93.4,376.0 L93.6,376.1 L93.8,376.1 L94.0,376.2 L94.2,376.3 L94.4,376.3 L94.6,376.4 L94.8,376.4 L95.0,376.5 L95.2,376.5 L95.4,376.6 L95.6,376.6 L95.8,376.6 L96.0,376.7 L99.2,377.1 L102.4,377.2 L105.7,377.3 L108.9,377.3 L112.1,377.4 L115.3,377.4 L118.6,377.4 L121.8,377.4 L125.0,377.4 L125.0,377.4 L121.8,377.4 L118.6,377.4 L115.3,377.4 L112.1,377.4 L108.9,377.4 L105.7,377.4 L102.4,377.4 L99.2,377.4 L96.0,377.4 L95.8,377.4 L95.6,377.4 L95.4,377.4 L95.2,377.4 L95.0,377.4 L94.8,377.4 L94.6,377.4 L94.4,377.4 L94.2,377.4 L94.0,377.4 L93.8,377.4 L93.6,377.4 L93.4,377.4 L93.2,377.4 L93.0,377.4 L92.8,377.4 L92.6,377.4 L92.4,377.4 L92.2,377.3 L92.0,377.3 L91.8,377.3 L91.6,377.3 L91.4,377.3 L91.2,377.3 L91.0,377.3 L90.8,377.3 L90.6,377.3 L90.4,377.3 L90.2,377.3 L90.0,377.3 L89.8,377.3 L89.6,377.3 L89.4,377.3 L89.2,377.3 L89.0,377.2 L88.8,377.2 L88.6,377.2 L88.4,377.2 L88.2,377.2 L88.0,377.2 L87.8,377.1 L87.6,377.1 L87.4,377.1 L87.2,377.0 L87.0,377.0 L86.8,377.0 L86.6,376.9 L86.4,376.8 L86.2,376.8 L86.0,376.7 L85.8,376.6 L85.6,376.5 L85.4,376.4 L85.2,376.3 L85.0,376.1 L84.8,376.0 L84.6,375.8 L84.4,375.7 L84.2,375.6 L84.0,375.4 L83.8,375.3 L83.6,375.2 L83.4,375.2 L83.2,375.2 L83.0,375.2 L82.8,375.2 L82.6,375.2 L82.4,375.3 L82.2,375.4 L82.0,375.6 L81.8,375.7 L81.6,375.8 L81.4,376.0 L81.2,376.1 L81.0,376.3 L80.8,376.4 L80.6,376.5 L80.4,376.6 L80.2,376.7 L80.0,376.8 L79.8,376.8 L79.6,376.9 L79.4,377.0 L79.2,377.0 L79.0,377.0 L78.8,377.1 L78.6,377.1 L78.4,377.1 L78.2,377.2 L78.0,377.2 L77.8,377.2 L77.6,377.2 L77.4,377.2 L77.2,377.2 L77.0,377.3 L76.8,377.3 L76.6,377.3 L76.4,377.3 L76.2,377.3 L76.0,377.3 L75.8,377.3 L75.6,377.3 L75.4,377.3 L75.2,377.3 L75.0,377.3 L74.8,377.3 L74.6,377.3 L74.4,377.3 L74.2,377.3 L74.0,377.3 L73.8,377.4 L73.6,377.4 L73.4,377.4 L73.2,377.4 L73.0,377.4 L72.8,377.4 L72.6,377.4 L72.4,377.4 L72.2,377.4 L72.0,377.4 L71.8,377.4 L71.6,377.4 L71.4,377.4 L71.2,377.4 L71.0,377.4 L70.8,377.4 L70.6,377.4 L70.4,377.4 L70.2,377.4 L70.0,377.4 L67.1,377.4 L64.3,377.4 L61.4,377.4 L58.5,377.4 L55.6,377.4 L52.8,377.4 L49.9,377.4 Z" fill="#ff0000" fill-opacity="0.3" stroke="none"/>
<path d="M49.9,377.4 L52.8,377.4 L55.6,377.4 L58.5,377.4 L61.4,377.4 L64.3,377.4 L67.1,377.4 L70.0,377.4 L70.2,377.4 L70.4,377.4 L70.6,377.4 L70.8,377.4 L71.0,377.4 L71.2,377.4 L71.4,377.4 L71.6,377.4 L71.8,377.4 L72.0,377.4 L72.2,377.4 L72.4,377.4 L72.6,377.4 L72.8,377.4 L73.0,377.4 L73.2,377.4 L73.4,377.4 L73.6,377.4 L73.8,377.4 L74.0,377.4 L74.2,377.4 L74.4,377.4 L74.6,377.4 L74.8,377.4 L75.0,377.4 L75.2,377.4 L75.4,377.4 L75.6,377.4 L75.8,377.4 L76.0,377.4 L76.2,377.4 L76.4,377.4 L76.6,377.4 L76.8,377.4 L77.0,377.4 L77.2,377.4 L77.4,377.4 L77.6,377.4 L77.8,377.4 L78.0,377.4 L78.2,377.4 L78.4,377.4 L78.6,377.4 L78.8,377.5 L79.0,377.5 L79.2,377.5 L79.4,377.5 L79.6,377.5 L79.8,377.5 L80.0,377.5 L80.2,377.5 L80.4,377.5 L80.6,377.6 L80.8,377.6 L81.0,377.6 L81.2,377.6 L81.4,377.6 L81.6,377.7 L81.8,377.7 L82.0,377.7 L82.2,377.7 L82.4,377.7 L82.6,377.8 L82.8,377.8 L83.0,377.8 L83.2,377.8 L83.4,377.8 L83.6,377.8 L83.8,377.7 L84.0,377.7 L84.2,377.7 L84.4,377.7 L84.6,377.7 L84.8,377.6 L85.0,377.6 L85.2,377.6 L85.4,377.6 L85.6,377.6 L85.8,377.5 L86.0,377.5 L86.2,377.5 L86.4,377.5 L86.6,377.5 L86.8,377.5 L87.0,377.5 L87.2,377.5 L87.4,377.5 L87.6,377.4 L87.8,377.4 L88.0,377.4 L88.2,377.4 L88.4,377.4 L88.6,377.4 L88.8,377.4 L89.0,377.4 L89.2,377.4 L89.4,377.4 L89.6,377.4 L89.8,377.4 L90.0,377.4 L90.2,377.4 L90.4,377.4 L90.6,377.4 L90.8,377.4 L91.0,377.4 L91.2,377.4 L91.4,377.4 L91.6,377.4 L91.8,377.4 L92.0,377.4 L92.2,377.4 L92.4,377.4 L92.6,377.4 L92.8,377.4 L93.0,377.4 L93.2,377.4 L93.4,377.4 L93.6,377.4 L93.8,377.4 L94.0,377.4 L94.2,377.4 L94.4,377.4 L94.6,377.4 L94.8,377.4 L95.0,377.4 L95.2,377.4 L95.4,377.4 L95.6,377.4 L95.8,377.4 L96.0,377.4 L99.2,377.4 L102.4,377.4 L105.7,377.4 L108.9,377.4 L112.1,377.4 L115.3,377.4 L118.6,377.4 L121.8,377.4 L125.0,377.4 L125.0,377.4 L121.8,377.4 L118.6,377.4 L115.3,377.4 L112.1,377.4 L108.9,377.5 L105.7,377.5 L102.4,377.6 L99.2,377.7 L96.0,378.1 L95.8,378.2 L95.6,378.2 L95.4,378.2 L95.2,378.3 L95.0,378.3 L94.8,378.4 L94.6,378.4 L94.4,378.5 L94.2,378.5 L94.0,378.6 L93.8,378.7 L93.6,378.7 L93.4,378.8 L93.2,378.9 L93.0,378.9 L92.8,379.0 L92.6,379.1 L92.4,379.2 L92.2,379.3 L92.0,379.4 L91.8,379.5 L91.6,379.6 L91.4,379.7 L91.2,379.9 L91.0,380.0 L90.8,380.2 L90.6,380.3 L90.4,380.5 L90.2,380.7 L90.0,380.9 L89.8,381.1 L89.6,381.4 L89.4,381.7 L89.2,382.0 L89.0,382.4 L88.8,382.8 L88.6,383.2 L88.4,383.7 L88.2,384.1 L88.0,384.7 L87.8,385.3 L87.6,386.1 L87.4,386.9 L87.2,387.9 L87.0,388.9 L86.8,389.9 L86.6,391.1 L86.4,392.3 L86.2,393.5 L86.0,394.9 L85.8,396.5 L85.6,398.3 L85.4,400.1 L85.2,401.8 L85.0,403.4 L84.8,405.0 L84.6,406.5 L84.4,408.2 L84.2,410.1 L84.0,411.1 L83.8,411.9 L83.6,412.3 L83.4,412.4 L83.2,412.4 L83.0,412.4 L82.8,412.4 L82.6,412.3 L82.4,411.9 L82.2,411.1 L82.0,410.1 L81.8,408.2 L81.6,406.5 L81.4,405.0 L81.2,403.4 L81.0,401.8 L80.8,400.1 L80.6,398.3 L80.4,396.5 L80.2,394.9 L80.0,393.5 L79.8,392.3 L79.6,391.1 L79.4,389.9 L79.2,388.9 L79.0,387.9 L78.8,386.9 L78.6,386.1 L78.4,385.3 L78.2,384.7 L78.0,384.1 L77.8,383.7 L77.6,383.2 L77.4,382.8 L77.2,382.4 L77.0,382.0 L76.8,381.7 L76.6,381.4 L76.4,381.1 L76.2,380.9 L76.0,380.7 L75.8,380.5 L75.6,380.3 L75.4,380.2 L75.2,380.0 L75.0,379.9 L74.8,379.7 L74.6,379.6 L74.4,379.5 L74.2,379.4 L74.0,379.3 L73.8,379.2 L73.6,379.1 L73.4,379.0 L73.2,378.9 L73.0,378.9 L72.8,378.8 L72.6,378.7 L72.4,378.7 L72.2,378.6 L72.0,378.5 L71.8,378.5 L71.6,378.4 L71.4,378.4 L71.2,378.3 L71.0,378.3 L70.8,378.2 L70.6,378.2 L70.4,378.2 L70.2,378.1 L70.0,378.1 L67.1,377.7 L64.3,377.6 L61.4,377.5 L58.5,377.5 L55.6,377.5 L52.8,377.4 L49.9,377.4 Z" fill="#008000" fill-opacity="0.3" stroke="none"/>
<path d="M49.9,377.4 L52.8,377.3 L55.6,377.3 L58.5,377.2 L61.4,377.1 L64.3,376.9 L67.1,376.5 L70.0,375.5 L70.2,375.4 L70.4,375.3 L70.6,375.2 L70.8,375.1 L71.0,375.0 L71.2,374.9 L71.4,374.7 L71.6,374.6 L71.8,374.5 L72.0,374.3 L72.2,374.1 L72.4,374.0 L72.6,373.8 L72.8,373.6 L73.0,373.4 L73.2,373.2 L73.4,373.0 L73.6,372.7 L73.8,372.5 L74.0,372.2 L74.2,371.9 L74.4,371.6 L74.6,371.3 L74.8,371.0 L75.0,370.6 L75.2,370.2 L75.4,369.8 L75.6,369.3 L75.8,368.8 L76.0,368.3 L76.2,367.8 L76.4,367.2 L76.6,366.4 L76.8,365.6 L77.0,364.7 L77.2,363.7 L77.4,362.7 L77.6,361.5 L77.8,360.2 L78.0,358.9 L78.2,357.4 L78.4,355.6 L78.6,353.6 L78.8,351.3 L79.0,348.7 L79.2,345.9 L79.4,343.0 L79.6,339.9 L79.8,336.6 L80.0,333.3 L80.2,329.3 L80.4,324.8 L80.6,320.0 L80.8,315.2 L81.0,310.4 L81.2,306.0 L81.4,301.7 L81.6,297.5 L81.8,292.8 L82.0,287.8 L82.2,284.8 L82.4,282.7 L82.6,281.7 L82.8,281.4 L83.0,281.2 L83.2,281.2 L83.4,281.4 L83.6,281.7 L83.8,282.7 L84.0,284.8 L84.2,287.8 L84.4,292.8 L84.6,297.5 L84.8,301.7 L85.0,306.0 L85.2,310.4 L85.4,315.2 L85.6,320.0 L85.8,324.8 L86.0,329.3 L86.2,333.3 L86.4,336.6 L86.6,339.9 L86.8,343.0 L87.0,345.9 L87.2,348.7 L87.4,351.3 L87.6,353.6 L87.8,355.6 L88.0,357.4 L88.2,358.9 L88.4,360.2 L88.6,361.5 L88.8,362.7 L89.0,363.7 L89.2,364.7 L89.4,365.6 L89.6,366.4 L89.8,367.2 L90.0,367.8 L90.2,368.3 L90.4,368.8 L90.6,369.3 L90.8,369.8 L91.0,370.2 L91.2,370.6 L91.4,371.0 L91.6,371.3 L91.8,371.6 L92.0,371.9 L92.2,372.2 L92.4,372.5 L92.6,372.7 L92.8,373.0 L93.0,373.2 L93.2,373.4 L93.4,373.6 L93.6,373.8 L93.8,374.0 L94.0,374.1 L94.2,374.3 L94.4,374.5 L94.6,374.6 L94.8,374.7 L95.0,374.9 L95.2,375.0 L95.4,375.1 L95.6,375.2 L95.8,375.3 L96.0,375.4 L99.2,376.5 L102.4,376.9 L105.7,377.1 L108.9,377.2 L112.1,377.3 L115.3,377.3 L118.6,377.4 L121.8,377.4 L125.0,377.4 L125.0,377.4 L121.8,377.4 L118.6,377.4 L115.3,377.4 L112.1,377.4 L108.9,377.4 L105.7,377.4 L102.4,377.4 L99.2,377.4 L96.0,377.3 L95.8,377.3 L95.6,377.3 L95.4,377.3 L95.2,377.3 L95.0,377.3 L94.8,377.3 L94.6,377.3 L94.4,377.3 L94.2,377.3 L94.0,377.3 L93.8,377.3 L93.6,377.3 L93.4,377.2 L93.2,377.2 L93.0,377.2 L92.8,377.2 L92.6,377.2 L92.4,377.2 L92.2,377.2 L92.0,377.2 L91.8,377.1 L91.6,377.1 L91.4,377.1 L91.2,377.1 L91.0,377.1 L90.8,377.0 L90.6,377.0 L90.4,377.0 L90.2,376.9 L90.0,376.9 L89.8,376.9 L89.6,376.8 L89.4,376.8 L89.2,376.8 L89.0,376.7 L88.8,376.6 L88.6,376.6 L88.4,376.5 L88.2,376.4 L88.0,376.4 L87.8,376.3 L87.6,376.1 L87.4,376.0 L87.2,375.9 L87.0,375.7 L86.8,375.5 L86.6,375.3 L86.4,375.0 L86.2,374.7 L86.0,374.3 L85.8,373.9 L85.6,373.5 L85.4,373.1 L85.2,372.5 L85.0,371.9 L84.8,371.2 L84.6,370.6 L84.4,370.0 L84.2,369.5 L84.0,368.8 L83.8,368.3 L83.6,368.0 L83.4,367.9 L83.2,367.9 L83.0,367.9 L82.8,367.9 L82.6,368.0 L82.4,368.3 L82.2,368.8 L82.0,369.5 L81.8,370.0 L81.6,370.6 L81.4,371.2 L81.2,371.9 L81.0,372.5 L80.8,373.1 L80.6,373.5 L80.4,373.9 L80.2,374.3 L80.0,374.7 L79.8,375.0 L79.6,375.3 L79.4,375.5 L79.2,375.7 L79.0,375.9 L78.8,376.0 L78.6,376.1 L78.4,376.3 L78.2,376.4 L78.0,376.4 L77.8,376.5 L77.6,376.6 L77.4,376.6 L77.2,376.7 L77.0,376.8 L76.8,376.8 L76.6,376.8 L76.4,376.9 L76.2,376.9 L76.0,376.9 L75.8,377.0 L75.6,377.0 L75.4,377.0 L75.2,377.1 L75.0,377.1 L74.8,377.1 L74.6,377.1 L74.4,377.1 L74.2,377.2 L74.0,377.2 L73.8,377.2 L73.6,377.2 L73.4,377.2 L73.2,377.2 L73.0,377.2 L72.8,377.2 L72.6,377.3 L72.4,377.3 L72.2,377.3 L72.0,377.3 L71.8,377.3 L71.6,377.3 L71.4,377.3 L71.2,377.3 L71.0,377.3 L70.8,377.3 L70.6,377.3 L70.4,377.3 L70.2,377.3 L70.0,377.3 L67.1,377.4 L64.3,377.4 L61.4,377.4 L58.5,377.4 L55.6,377.4 L52.8,377.4 L49.9,377.4 Z" fill="#ff7f0e" fill-opacity="0.3" stroke="none"/>
<path d="M49.9,377.4 L52.8,377.4 L55.6,377.4 L58.5,377.4 L61.4,377.4 L64.3,377.4 L67.1,377.4 L70.0,377.5 L70.2,377.5 L70.4,377.5 L70.6,377.5 L70.8,377.5 L71.0,377.5 L71.2,377.5 L71.4,377.5 L71.6,377.5 L71.8,377.5 L72.0,377.5 L72.2,377.5 L72.4,377.5 L72.6,377.5 L72.8,377.5 L73.0,377.6 L73.2,377.6 L73.4,377.6 L73.6,377.6 L73.8,377.6 L74.0,377.6 L74.2,377.6 L74.4,377.6 L74.6,377.7 L74.8,377.7 L75.0,377.7 L75.2,377.7 L75.4,377.7 L75.6,377.8 L75.8,377.8 L76.0,377.8 L76.2,377.8 L76.4,377.9 L76.6,377.9 L76.8,378.0 L77.0,378.0 L77.2,378.0 L77.4,378.1 L77.6,378.2 L77.8,378.2 L78.0,378.3 L78.2,378.4 L78.4,378.5 L78.6,378.6 L78.8,378.7 L79.0,378.8 L79.2,379.0 L79.4,379.2 L79.6,379.4 L79.8,379.6 L80.0,379.9 L80.2,380.2 L80.4,380.6 L80.6,381.0 L80.8,381.4 L81.0,381.9 L81.2,382.5 L81.4,383.1 L81.6,383.7 L81.8,384.2 L82.0,384.7 L82.2,385.3 L82.4,385.8 L82.6,386.0 L82.8,386.1 L83.0,386.2 L83.2,386.2 L83.4,386.1 L83.6,386.0 L83.8,385.8 L84.0,385.3 L84.2,384.7 L84.4,384.2 L84.6,383.7 L84.8,383.1 L85.0,382.5 L85.2,381.9 L85.4,381.4 L85.6,381.0 L85.8,380.6 L86.0,380.2 L86.2,379.9 L86.4,379.6 L86.6,379.4 L86.8,379.2 L87.0,379.0 L87.2,378.8 L87.4,378.7 L87.6,378.6 L87.8,378.5 L88.0,378.4 L88.2,378.3 L88.4,378.2 L88.6,378.2 L88.8,378.1 L89.0,378.0 L89.2,378.0 L89.4,378.0 L89.6,377.9 L89.8,377.9 L90.0,377.8 L90.2,377.8 L90.4,377.8 L90.6,377.8 L90.8,377.7 L91.0,377.7 L91.2,377.7 L91.4,377.7 L91.6,377.7 L91.8,377.6 L92.0,377.6 L92.2,377.6 L92.4,377.6 L92.6,377.6 L92.8,377.6 L93.0,377.6 L93.2,377.6 L93.4,377.5 L93.6,377.5 L93.8,377.5 L94.0,377.5 L94.2,377.5 L94.4,377.5 L94.6,377.5 L94.8,377.5 L95.0,377.5 L95.2,377.5 L95.4,377.5 L95.6,377.5 L95.8,377.5 L96.0,377.5 L99.2,377.4 L102.4,377.4 L105.7,377.4 L108.9,377.4 L112.1,377.4 L115.3,377.4 L118.6,377.4 L121.8,377.4 L125.0,377.4 L125.0,377.4 L121.8,377.4 L118.6,377.4 L115.3,377.5 L112.1,377.5 L108.9,377.6 L105.7,377.7 L102.4,377.9 L99.2,378.3 L96.0,379.4 L95.8,379.4 L95.6,379.5 L95.4,379.7 L95.2,379.8 L95.0,379.9 L94.8,380.0 L94.6,380.2 L94.4,380.3 L94.2,380.5 L94.0,380.6 L93.8,380.8 L93.6,381.0 L93.4,381.2 L93.2,381.4 L93.0,381.6 L92.8,381.8 L92.6,382.0 L92.4,382.3 L92.2,382.5 L92.0,382.8 L91.8,383.1 L91.6,383.4 L91.4,383.8 L91.2,384.2 L91.0,384.5 L90.8,385.0 L90.6,385.4 L90.4,385.9 L90.2,386.4 L90.0,386.9 L89.8,387.6 L89.6,388.3 L89.4,389.1 L89.2,390.0 L89.0,391.0 L88.8,392.0 L88.6,393.2 L88.4,394.4 L88.2,395.8 L88.0,397.2 L87.8,399.0 L87.6,401.0 L87.4,403.3 L87.2,405.9 L87.0,408.6 L86.8,411.6 L86.6,414.6 L86.4,417.9 L86.2,421.2 L86.0,425.1 L85.8,429.6 L85.6,434.3 L85.4,439.2 L85.2,443.9 L85.0,448.3 L84.8,452.5 L84.6,456.7 L84.4,461.4 L84.2,466.3 L84.0,469.3 L83.8,471.3 L83.6,472.4 L83.4,472.7 L83.2,472.8 L83.0,472.8 L82.8,472.7 L82.6,472.4 L82.4,471.3 L82.2,469.3 L82.0,466.3 L81.8,461.4 L81.6,456.7 L81.4,452.5 L81.2,448.3 L81.0,443.9 L80.8,439.2 L80.6,434.3 L80.4,429.6 L80.2,425.1 L80.0,421.2 L79.8,417.9 L79.6,414.6 L79.4,411.6 L79.2,408.6 L79.0,405.9 L78.8,403.3 L78.6,401.0 L78.4,399.0 L78.2,397.2 L78.0,395.8 L77.8,394.4 L77.6,393.2 L77.4,392.0 L77.2,391.0 L77.0,390.0 L76.8,389.1 L76.6,388.3 L76.4,387.6 L76.2,386.9 L76.0,386.4 L75.8,385.9 L75.6,385.4 L75.4,385.0 L75.2,384.5 L75.0,384.2 L74.8,383.8 L74.6,383.4 L74.4,383.1 L74.2,382.8 L74.0,382.5 L73.8,382.3 L73.6,382.0 L73.4,381.8 L73.2,381.6 L73.0,381.4 L72.8,381.2 L72.6,381.0 L72.4,380.8 L72.2,380.6 L72.0,380.5 L71.8,380.3 L71.6,380.2 L71.4,380.0 L71.2,379.9 L71.0,379.8 L70.8,379.7 L70.6,379.5 L70.4,379.4 L70.2,379.4 L70.0,379.3 L67.1,378.3 L64.3,377.9 L61.4,377.7 L58.5,377.6 L55.6,377.5 L52.8,377.5 L49.9,377.4 Z" fill="#00ffff" fill-opacity="0.3" stroke="none"/>
<line x1="49.87" y1="377.40" x2="321.40" y2="377.40" stroke="#0808ff" stroke-width="1.4" stroke-linecap="square"/>
</g>
<rect x="36.50" y="272.30" width="298.70" height="210.10" fill="none" stroke="#000" stroke-width="0.62"/>
<line x1="62.80" y1="482.40" x2="62.80" y2="485.50" stroke="#000" stroke-width="0.62"/>
<line x1="114.52" y1="482.40" x2="114.52" y2="485.50" stroke="#000" stroke-width="0.62"/>
<line x1="166.24" y1="482.40" x2="166.24" y2="485.50" stroke="#000" stroke-width="0.62"/>
<line x1="217.96" y1="482.40" x2="217.96" y2="485.50" stroke="#000" stroke-width="0.62"/>
<line x1="269.68" y1="482.40" x2="269.68" y2="485.50" stroke="#000" stroke-width="0.62"/>
<line x1="321.40" y1="482.40" x2="321.40" y2="485.50" stroke="#000" stroke-width="0.62"/>
<line x1="36.50" y1="450.40" x2="33.40" y2="450.40" stroke="#000" stroke-width="0.62"/>
<line x1="36.50" y1="413.90" x2="33.40" y2="413.90" stroke="#000" stroke-width="0.62"/>
<line x1="36.50" y1="377.40" x2="33.40" y2="377.40" stroke="#000" stroke-width="0.62"/>
<line x1="36.50" y1="340.90" x2="33.40" y2="340.90" stroke="#000" stroke-width="0.62"/>
<line x1="36.50" y1="304.40" x2="33.40" y2="304.40" stroke="#000" stroke-width="0.62"/>
<rect x="226.60" y="276.00" width="104.80" height="68.50" rx="1.4" fill="#fff" fill-opacity="0.8" stroke="#ccc" stroke-width="0.62"/>
<line x1="229.30" y1="282.20" x2="245.60" y2="282.20" stroke="#0808ff" stroke-width="1.35"/>
<rect x="229.30" y="291.75" width="16.30" height="5.6" fill="#ff0000" fill-opacity="0.3"/>
<rect x="229.30" y="305.45" width="16.30" height="5.6" fill="#008000" fill-opacity="0.3"/>
<rect x="229.30" y="319.15" width="16.30" height="5.6" fill="#ff7f0e" fill-opacity="0.3"/>
<rect x="229.30" y="332.85" width="16.30" height="5.6" fill="#00ffff" fill-opacity="0.3"/>
<clipPath id="d1"><rect x="386.6" y="272.3" width="298.69999999999993" height="210.09999999999997"/></clipPath><g clip-path="url(#d1)">
<path d="M398.9,377.4 L400.9,377.4 L402.9,377.4 L404.9,377.4 L406.9,377.4 L408.9,377.4 L410.9,377.4 L412.9,377.4 L414.9,377.4 L417.0,377.4 L419.0,377.3 L421.0,377.3 L423.0,377.3 L425.0,377.3 L425.2,377.3 L425.4,377.3 L425.6,377.3 L425.8,377.3 L426.0,377.2 L426.2,377.2 L426.4,377.2 L426.6,377.2 L426.8,377.2 L427.0,377.2 L427.2,377.2 L427.4,377.2 L427.6,377.2 L427.8,377.2 L428.0,377.2 L428.2,377.2 L428.4,377.2 L428.6,377.2 L428.8,377.2 L429.0,377.2 L429.2,377.3 L429.4,377.3 L429.6,377.3 L429.8,377.3 L430.0,377.3 L430.2,377.3 L430.4,377.3 L430.6,377.4 L430.8,377.4 L431.0,377.5 L431.2,377.6 L431.4,377.8 L431.6,378.0 L431.8,378.1 L432.0,378.3 L432.2,378.4 L432.4,378.5 L432.6,378.6 L432.8,378.7 L433.0,378.8 L433.2,378.9 L433.4,378.9 L433.6,378.9 L433.8,378.9 L434.0,378.9 L434.2,378.9 L434.4,378.9 L434.6,378.9 L434.8,378.9 L435.0,378.9 L435.2,378.9 L435.4,378.8 L435.6,378.8 L435.8,378.7 L436.0,378.7 L436.2,378.7 L436.4,378.6 L436.6,378.6 L436.8,378.5 L437.0,378.5 L437.2,378.5 L437.4,378.4 L437.6,378.4 L437.8,378.4 L438.0,378.3 L438.2,378.3 L438.4,378.3 L438.6,378.2 L438.8,378.2 L439.0,378.2 L439.2,378.1 L439.4,378.1 L439.6,378.1 L439.8,378.0 L440.0,378.0 L440.2,378.0 L440.4,378.0 L440.6,378.0 L440.8,378.0 L441.0,378.0 L441.2,377.9 L441.4,377.9 L441.6,377.9 L441.8,377.9 L442.0,377.9 L442.2,377.9 L442.4,377.9 L442.6,377.9 L442.8,377.9 L443.0,377.9 L443.2,377.9 L443.4,377.8 L443.6,377.8 L443.8,377.8 L444.0,377.8 L444.2,377.8 L444.4,377.8 L444.6,377.8 L444.8,377.8 L445.0,377.8 L448.8,377.7 L452.7,377.7 L456.5,377.6 L460.4,377.6 L464.2,377.6 L468.0,377.6 L471.9,377.5 L475.7,377.5 L479.6,377.5 L483.4,377.5 L487.2,377.5 L491.1,377.5 L494.9,377.5 L498.7,377.5 L502.6,377.5 L506.4,377.5 L510.3,377.5 L514.1,377.5 L517.9,377.5 L521.8,377.5 L525.6,377.5 L529.5,377.5 L533.3,377.5 L537.1,377.5 L541.0,377.5 L544.8,377.5 L548.7,377.5 L552.5,377.5 L556.3,377.5 L560.2,377.5 L564.0,377.5 L567.8,377.5 L571.7,377.5 L575.5,377.5 L579.4,377.5 L583.2,377.5 L587.0,377.4 L590.9,377.4 L594.7,377.4 L598.6,377.4 L602.4,377.4 L606.2,377.4 L610.1,377.4 L613.9,377.4 L617.8,377.4 L621.6,377.4 L625.4,377.4 L629.3,377.4 L633.1,377.4 L636.9,377.4 L640.8,377.4 L644.6,377.4 L648.5,377.4 L652.3,377.4 L656.1,377.4 L660.0,377.4 L663.8,377.4 L667.7,377.4 L671.5,377.4 L671.5,377.5 L667.7,377.6 L663.8,377.7 L660.0,377.8 L656.1,377.8 L652.3,377.9 L648.5,378.0 L644.6,378.0 L640.8,378.1 L636.9,378.1 L633.1,378.1 L629.3,378.2 L625.4,378.2 L621.6,378.3 L617.8,378.3 L613.9,378.3 L610.1,378.4 L606.2,378.4 L602.4,378.4 L598.6,378.5 L594.7,378.5 L590.9,378.6 L587.0,378.6 L583.2,378.6 L579.4,378.7 L575.5,378.7 L571.7,378.8 L567.8,378.8 L564.0,378.8 L560.2,378.9 L556.3,378.9 L552.5,379.0 L548.7,379.1 L544.8,379.1 L541.0,379.2 L537.1,379.3 L533.3,379.4 L529.5,379.4 L525.6,379.5 L521.8,379.6 L517.9,379.7 L514.1,379.7 L510.3,379.8 L506.4,379.8 L502.6,379.9 L498.7,379.9 L494.9,380.0 L491.1,380.1 L487.2,380.2 L483.4,380.3 L479.6,380.5 L475.7,380.7 L471.9,380.9 L468.0,381.2 L464.2,381.6 L460.4,382.1 L456.5,382.7 L452.7,383.6 L448.8,384.9 L445.0,386.8 L444.8,386.9 L444.6,387.1 L444.4,387.2 L444.2,387.4 L444.0,387.5 L443.8,387.7 L443.6,387.9 L443.4,388.1 L443.2,388.2 L443.0,388.4 L442.8,388.6 L442.6,388.8 L442.4,389.1 L442.2,389.3 L442.0,389.5 L441.8,389.7 L441.6,390.0 L441.4,390.2 L441.2,390.4 L441.0,390.7 L440.8,391.0 L440.6,391.3 L440.4,391.6 L440.2,391.9 L440.0,392.3 L439.8,392.8 L439.6,393.4 L439.4,394.1 L439.2,394.8 L439.0,395.6 L438.8,396.3 L438.6,397.1 L438.4,397.9 L438.2,398.7 L438.0,399.6 L437.8,400.4 L437.6,401.3 L437.4,402.1 L437.2,403.0 L437.0,403.9 L436.8,404.8 L436.6,405.7 L436.4,406.6 L436.2,407.5 L436.0,408.5 L435.8,409.5 L435.6,410.6 L435.4,411.6 L435.2,412.5 L435.0,413.1 L434.8,413.5 L434.6,413.9 L434.4,414.1 L434.2,414.2 L434.0,414.1 L433.8,413.9 L433.6,413.5 L433.4,413.0 L433.2,412.3 L433.0,410.6 L432.8,408.3 L432.6,405.8 L432.4,403.3 L432.2,400.7 L432.0,397.9 L431.8,394.8 L431.6,391.7 L431.4,387.8 L431.2,383.4 L431.0,379.5 L430.8,377.4 L430.6,376.7 L430.4,376.2 L430.2,375.8 L430.0,375.5 L429.8,375.1 L429.6,374.7 L429.4,374.3 L429.2,374.0 L429.0,373.8 L428.8,373.6 L428.6,373.5 L428.4,373.3 L428.2,373.2 L428.0,373.2 L427.8,373.1 L427.6,373.2 L427.4,373.2 L427.2,373.2 L427.0,373.3 L426.8,373.4 L426.6,373.5 L426.4,373.6 L426.2,373.7 L426.0,373.8 L425.8,373.9 L425.6,374.0 L425.4,374.0 L425.2,374.1 L425.0,374.2 L423.0,375.0 L421.0,375.7 L419.0,376.2 L417.0,376.6 L414.9,376.9 L412.9,377.1 L410.9,377.2 L408.9,377.3 L406.9,377.3 L404.9,377.4 L402.9,377.4 L400.9,377.4 L398.9,377.4 Z" fill="#ff0000" fill-opacity="0.3" stroke="none"/>
<path d="M398.9,377.4 L400.9,377.4 L402.9,377.4 L404.9,377.4 L406.9,377.5 L408.9,377.5 L410.9,377.6 L412.9,377.7 L414.9,377.9 L417.0,378.2 L419.0,378.6 L421.0,379.1 L423.0,379.8 L425.0,380.6 L425.2,380.7 L425.4,380.8 L425.6,380.8 L425.8,380.9 L426.0,381.0 L426.2,381.1 L426.4,381.2 L426.6,381.3 L426.8,381.4 L427.0,381.5 L427.2,381.6 L427.4,381.6 L427.6,381.6 L427.8,381.7 L428.0,381.6 L428.2,381.6 L428.4,381.5 L428.6,381.3 L428.8,381.2 L429.0,381.0 L429.2,380.8 L429.4,380.5 L429.6,380.1 L429.8,379.7 L430.0,379.3 L430.2,379.0 L430.4,378.6 L430.6,378.1 L430.8,377.4 L431.0,375.3 L431.2,371.4 L431.4,367.0 L431.6,363.1 L431.8,360.0 L432.0,356.9 L432.2,354.1 L432.4,351.5 L432.6,349.0 L432.8,346.5 L433.0,344.2 L433.2,342.5 L433.4,341.8 L433.6,341.3 L433.8,340.9 L434.0,340.7 L434.2,340.6 L434.4,340.7 L434.6,340.9 L434.8,341.3 L435.0,341.7 L435.2,342.3 L435.4,343.2 L435.6,344.2 L435.8,345.3 L436.0,346.3 L436.2,347.3 L436.4,348.2 L436.6,349.1 L436.8,350.0 L437.0,350.9 L437.2,351.8 L437.4,352.7 L437.6,353.5 L437.8,354.4 L438.0,355.2 L438.2,356.1 L438.4,356.9 L438.6,357.7 L438.8,358.5 L439.0,359.2 L439.2,360.0 L439.4,360.7 L439.6,361.4 L439.8,362.0 L440.0,362.5 L440.2,362.9 L440.4,363.2 L440.6,363.5 L440.8,363.8 L441.0,364.1 L441.2,364.4 L441.4,364.6 L441.6,364.8 L441.8,365.1 L442.0,365.3 L442.2,365.5 L442.4,365.7 L442.6,366.0 L442.8,366.2 L443.0,366.4 L443.2,366.6 L443.4,366.7 L443.6,366.9 L443.8,367.1 L444.0,367.3 L444.2,367.4 L444.4,367.6 L444.6,367.7 L444.8,367.9 L445.0,368.0 L448.8,369.9 L452.7,371.2 L456.5,372.1 L460.4,372.7 L464.2,373.2 L468.0,373.6 L471.9,373.9 L475.7,374.1 L479.6,374.3 L483.4,374.5 L487.2,374.6 L491.1,374.7 L494.9,374.8 L498.7,374.9 L502.6,374.9 L506.4,375.0 L510.3,375.0 L514.1,375.1 L517.9,375.1 L521.8,375.2 L525.6,375.3 L529.5,375.4 L533.3,375.4 L537.1,375.5 L541.0,375.6 L544.8,375.7 L548.7,375.7 L552.5,375.8 L556.3,375.9 L560.2,375.9 L564.0,376.0 L567.8,376.0 L571.7,376.0 L575.5,376.1 L579.4,376.1 L583.2,376.2 L587.0,376.2 L590.9,376.2 L594.7,376.3 L598.6,376.3 L602.4,376.4 L606.2,376.4 L610.1,376.4 L613.9,376.5 L617.8,376.5 L621.6,376.5 L625.4,376.6 L629.3,376.6 L633.1,376.7 L636.9,376.7 L640.8,376.7 L644.6,376.8 L648.5,376.8 L652.3,376.9 L656.1,377.0 L660.0,377.0 L663.8,377.1 L667.7,377.2 L671.5,377.3 L671.5,377.4 L667.7,377.4 L663.8,377.4 L660.0,377.4 L656.1,377.4 L652.3,377.4 L648.5,377.4 L644.6,377.4 L640.8,377.4 L636.9,377.4 L633.1,377.4 L629.3,377.4 L625.4,377.4 L621.6,377.4 L617.8,377.4 L613.9,377.4 L610.1,377.4 L606.2,377.4 L602.4,377.4 L598.6,377.4 L594.7,377.4 L590.9,377.4 L587.0,377.4 L583.2,377.3 L579.4,377.3 L575.5,377.3 L571.7,377.3 L567.8,377.3 L564.0,377.3 L560.2,377.3 L556.3,377.3 L552.5,377.3 L548.7,377.3 L544.8,377.3 L541.0,377.3 L537.1,377.3 L533.3,377.3 L529.5,377.3 L525.6,377.3 L521.8,377.3 L517.9,377.3 L514.1,377.3 L510.3,377.3 L506.4,377.3 L502.6,377.3 L498.7,377.3 L494.9,377.3 L491.1,377.3 L487.2,377.3 L483.4,377.3 L479.6,377.3 L475.7,377.3 L471.9,377.3 L468.0,377.2 L464.2,377.2 L460.4,377.2 L456.5,377.2 L452.7,377.1 L448.8,377.1 L445.0,377.0 L444.8,377.0 L444.6,377.0 L444.4,377.0 L444.2,377.0 L444.0,377.0 L443.8,377.0 L443.6,377.0 L443.4,377.0 L443.2,376.9 L443.0,376.9 L442.8,376.9 L442.6,376.9 L442.4,376.9 L442.2,376.9 L442.0,376.9 L441.8,376.9 L441.6,376.9 L441.4,376.9 L441.2,376.9 L441.0,376.8 L440.8,376.8 L440.6,376.8 L440.4,376.8 L440.2,376.8 L440.0,376.8 L439.8,376.8 L439.6,376.7 L439.4,376.7 L439.2,376.7 L439.0,376.6 L438.8,376.6 L438.6,376.6 L438.4,376.5 L438.2,376.5 L438.0,376.5 L437.8,376.4 L437.6,376.4 L437.4,376.4 L437.2,376.3 L437.0,376.3 L436.8,376.3 L436.6,376.2 L436.4,376.2 L436.2,376.1 L436.0,376.1 L435.8,376.1 L435.6,376.0 L435.4,376.0 L435.2,375.9 L435.0,375.9 L434.8,375.9 L434.6,375.9 L434.4,375.9 L434.2,375.9 L434.0,375.9 L433.8,375.9 L433.6,375.9 L433.4,375.9 L433.2,375.9 L433.0,376.0 L432.8,376.1 L432.6,376.2 L432.4,376.3 L432.2,376.4 L432.0,376.5 L431.8,376.7 L431.6,376.8 L431.4,377.0 L431.2,377.2 L431.0,377.3 L430.8,377.4 L430.6,377.4 L430.4,377.5 L430.2,377.5 L430.0,377.5 L429.8,377.5 L429.6,377.5 L429.4,377.5 L429.2,377.5 L429.0,377.6 L428.8,377.6 L428.6,377.6 L428.4,377.6 L428.2,377.6 L428.0,377.6 L427.8,377.6 L427.6,377.6 L427.4,377.6 L427.2,377.6 L427.0,377.6 L426.8,377.6 L426.6,377.6 L426.4,377.6 L426.2,377.6 L426.0,377.6 L425.8,377.5 L425.6,377.5 L425.4,377.5 L425.2,377.5 L425.0,377.5 L423.0,377.5 L421.0,377.5 L419.0,377.5 L417.0,377.4 L414.9,377.4 L412.9,377.4 L410.9,377.4 L408.9,377.4 L406.9,377.4 L404.9,377.4 L402.9,377.4 L400.9,377.4 L398.9,377.4 Z" fill="#008000" fill-opacity="0.3" stroke="none"/>
<path d="M398.9,377.4 L400.9,377.4 L402.9,377.4 L404.9,377.4 L406.9,377.4 L408.9,377.4 L410.9,377.4 L412.9,377.3 L414.9,377.3 L417.0,377.2 L419.0,377.1 L421.0,377.0 L423.0,376.9 L425.0,376.7 L425.2,376.7 L425.4,376.7 L425.6,376.7 L425.8,376.6 L426.0,376.6 L426.2,376.6 L426.4,376.6 L426.6,376.6 L426.8,376.5 L427.0,376.5 L427.2,376.5 L427.4,376.5 L427.6,376.5 L427.8,376.5 L428.0,376.5 L428.2,376.5 L428.4,376.5 L428.6,376.5 L428.8,376.6 L429.0,376.6 L429.2,376.7 L429.4,376.7 L429.6,376.8 L429.8,376.9 L430.0,377.0 L430.2,377.1 L430.4,377.1 L430.6,377.2 L430.8,377.4 L431.0,377.9 L431.2,378.7 L431.4,379.7 L431.6,380.5 L431.8,381.2 L432.0,381.8 L432.2,382.5 L432.4,383.0 L432.6,383.6 L432.8,384.1 L433.0,384.6 L433.2,385.0 L433.4,385.1 L433.6,385.2 L433.8,385.3 L434.0,385.4 L434.2,385.4 L434.4,385.4 L434.6,385.3 L434.8,385.2 L435.0,385.1 L435.2,385.0 L435.4,384.8 L435.6,384.6 L435.8,384.4 L436.0,384.1 L436.2,383.9 L436.4,383.7 L436.6,383.5 L436.8,383.3 L437.0,383.1 L437.2,383.0 L437.4,382.8 L437.6,382.6 L437.8,382.4 L438.0,382.2 L438.2,382.0 L438.4,381.8 L438.6,381.7 L438.8,381.5 L439.0,381.3 L439.2,381.2 L439.4,381.0 L439.6,380.9 L439.8,380.7 L440.0,380.6 L440.2,380.6 L440.4,380.5 L440.6,380.4 L440.8,380.3 L441.0,380.3 L441.2,380.2 L441.4,380.2 L441.6,380.1 L441.8,380.1 L442.0,380.0 L442.2,380.0 L442.4,379.9 L442.6,379.9 L442.8,379.8 L443.0,379.8 L443.2,379.8 L443.4,379.7 L443.6,379.7 L443.8,379.6 L444.0,379.6 L444.2,379.6 L444.4,379.5 L444.6,379.5 L444.8,379.5 L445.0,379.4 L448.8,379.0 L452.7,378.7 L456.5,378.6 L460.4,378.4 L464.2,378.3 L468.0,378.2 L471.9,378.2 L475.7,378.1 L479.6,378.1 L483.4,378.0 L487.2,378.0 L491.1,378.0 L494.9,378.0 L498.7,377.9 L502.6,377.9 L506.4,377.9 L510.3,377.9 L514.1,377.9 L517.9,377.9 L521.8,377.9 L525.6,377.9 L529.5,377.8 L533.3,377.8 L537.1,377.8 L541.0,377.8 L544.8,377.8 L548.7,377.8 L552.5,377.7 L556.3,377.7 L560.2,377.7 L564.0,377.7 L567.8,377.7 L571.7,377.7 L575.5,377.7 L579.4,377.7 L583.2,377.7 L587.0,377.7 L590.9,377.7 L594.7,377.6 L598.6,377.6 L602.4,377.6 L606.2,377.6 L610.1,377.6 L613.9,377.6 L617.8,377.6 L621.6,377.6 L625.4,377.6 L629.3,377.6 L633.1,377.6 L636.9,377.6 L640.8,377.5 L644.6,377.5 L648.5,377.5 L652.3,377.5 L656.1,377.5 L660.0,377.5 L663.8,377.5 L667.7,377.4 L671.5,377.4 L671.5,377.8 L667.7,378.0 L663.8,378.2 L660.0,378.4 L656.1,378.5 L652.3,378.7 L648.5,378.9 L644.6,379.0 L640.8,379.1 L636.9,379.2 L633.1,379.3 L629.3,379.4 L625.4,379.5 L621.6,379.6 L617.8,379.7 L613.9,379.8 L610.1,379.9 L606.2,380.0 L602.4,380.1 L598.6,380.2 L594.7,380.3 L590.9,380.4 L587.0,380.5 L583.2,380.6 L579.4,380.7 L575.5,380.8 L571.7,380.9 L567.8,381.1 L564.0,381.2 L560.2,381.3 L556.3,381.4 L552.5,381.6 L548.7,381.7 L544.8,381.9 L541.0,382.1 L537.1,382.3 L533.3,382.5 L529.5,382.7 L525.6,382.9 L521.8,383.1 L517.9,383.3 L514.1,383.5 L510.3,383.6 L506.4,383.8 L502.6,383.9 L498.7,384.0 L494.9,384.1 L491.1,384.3 L487.2,384.6 L483.4,384.9 L479.6,385.4 L475.7,385.9 L471.9,386.6 L468.0,387.4 L464.2,388.4 L460.4,389.7 L456.5,391.3 L452.7,393.6 L448.8,396.9 L445.0,401.9 L444.8,402.2 L444.6,402.6 L444.4,403.0 L444.2,403.4 L444.0,403.8 L443.8,404.3 L443.6,404.7 L443.4,405.2 L443.2,405.7 L443.0,406.2 L442.8,406.7 L442.6,407.3 L442.4,407.8 L442.2,408.4 L442.0,409.0 L441.8,409.6 L441.6,410.2 L441.4,410.8 L441.2,411.4 L441.0,412.1 L440.8,412.8 L440.6,413.6 L440.4,414.4 L440.2,415.4 L440.0,416.4 L439.8,417.7 L439.6,419.3 L439.4,421.0 L439.2,422.9 L439.0,424.8 L438.8,426.7 L438.6,428.8 L438.4,430.9 L438.2,433.0 L438.0,435.3 L437.8,437.5 L437.6,439.8 L437.4,442.0 L437.2,444.3 L437.0,446.6 L436.8,448.9 L436.6,451.3 L436.4,453.7 L436.2,456.0 L436.0,458.5 L435.8,461.3 L435.6,464.1 L435.4,466.7 L435.2,469.0 L435.0,470.7 L434.8,471.7 L434.6,472.6 L434.4,473.2 L434.2,473.5 L434.0,473.3 L433.8,472.6 L433.6,471.6 L433.4,470.3 L433.2,468.4 L433.0,464.2 L432.8,458.1 L432.6,451.5 L432.4,445.1 L432.2,438.3 L432.0,430.8 L431.8,422.9 L431.6,414.8 L431.4,404.6 L431.2,393.0 L431.0,382.9 L430.8,377.4 L430.6,375.6 L430.4,374.2 L430.2,373.3 L430.0,372.4 L429.8,371.5 L429.6,370.5 L429.4,369.4 L429.2,368.6 L429.0,367.9 L428.8,367.5 L428.6,367.1 L428.4,366.8 L428.2,366.5 L428.0,366.4 L427.8,366.3 L427.6,366.3 L427.4,366.4 L427.2,366.5 L427.0,366.7 L426.8,366.9 L426.6,367.2 L426.4,367.4 L426.2,367.7 L426.0,367.9 L425.8,368.2 L425.6,368.4 L425.4,368.7 L425.2,368.9 L425.0,369.1 L423.0,371.2 L421.0,372.9 L419.0,374.2 L417.0,375.2 L414.9,376.0 L412.9,376.5 L410.9,377.0 L408.9,377.2 L406.9,377.2 L404.9,377.3 L402.9,377.4 L400.9,377.4 L398.9,377.4 Z" fill="#ff7f0e" fill-opacity="0.3" stroke="none"/>
<path d="M398.9,377.4 L400.9,377.4 L402.9,377.4 L404.9,377.5 L406.9,377.6 L408.9,377.6 L410.9,377.8 L412.9,378.3 L414.9,378.8 L417.0,379.6 L419.0,380.6 L421.0,381.9 L423.0,383.6 L425.0,385.7 L425.2,385.9 L425.4,386.1 L425.6,386.4 L425.8,386.6 L426.0,386.9 L426.2,387.1 L426.4,387.4 L426.6,387.6 L426.8,387.9 L427.0,388.1 L427.2,388.3 L427.4,388.4 L427.6,388.5 L427.8,388.5 L428.0,388.4 L428.2,388.3 L428.4,388.0 L428.6,387.7 L428.8,387.3 L429.0,386.9 L429.2,386.2 L429.4,385.4 L429.6,384.3 L429.8,383.3 L430.0,382.4 L430.2,381.5 L430.4,380.6 L430.6,379.2 L430.8,377.4 L431.0,371.9 L431.2,361.8 L431.4,350.2 L431.6,340.0 L431.8,331.9 L432.0,324.0 L432.2,316.5 L432.4,309.7 L432.6,303.3 L432.8,296.7 L433.0,290.6 L433.2,286.4 L433.4,284.5 L433.6,283.2 L433.8,282.2 L434.0,281.5 L434.2,281.3 L434.4,281.6 L434.6,282.2 L434.8,283.1 L435.0,284.1 L435.2,285.8 L435.4,288.1 L435.6,290.7 L435.8,293.5 L436.0,296.3 L436.2,298.8 L436.4,301.1 L436.6,303.5 L436.8,305.9 L437.0,308.2 L437.2,310.5 L437.4,312.8 L437.6,315.0 L437.8,317.3 L438.0,319.5 L438.2,321.8 L438.4,323.9 L438.6,326.0 L438.8,328.1 L439.0,330.0 L439.2,331.9 L439.4,333.8 L439.6,335.5 L439.8,337.1 L440.0,338.4 L440.2,339.4 L440.4,340.4 L440.6,341.2 L440.8,342.0 L441.0,342.7 L441.2,343.4 L441.4,344.0 L441.6,344.6 L441.8,345.2 L442.0,345.8 L442.2,346.4 L442.4,347.0 L442.6,347.5 L442.8,348.1 L443.0,348.6 L443.2,349.1 L443.4,349.6 L443.6,350.1 L443.8,350.5 L444.0,351.0 L444.2,351.4 L444.4,351.8 L444.6,352.2 L444.8,352.6 L445.0,352.9 L448.8,357.9 L452.7,361.2 L456.5,363.5 L460.4,365.1 L464.2,366.4 L468.0,367.4 L471.9,368.2 L475.7,368.9 L479.6,369.4 L483.4,369.9 L487.2,370.2 L491.1,370.5 L494.9,370.7 L498.7,370.8 L502.6,370.9 L506.4,371.0 L510.3,371.2 L514.1,371.3 L517.9,371.5 L521.8,371.7 L525.6,371.9 L529.5,372.1 L533.3,372.3 L537.1,372.5 L541.0,372.7 L544.8,372.9 L548.7,373.1 L552.5,373.2 L556.3,373.4 L560.2,373.5 L564.0,373.6 L567.8,373.7 L571.7,373.9 L575.5,374.0 L579.4,374.1 L583.2,374.2 L587.0,374.3 L590.9,374.4 L594.7,374.5 L598.6,374.6 L602.4,374.7 L606.2,374.8 L610.1,374.9 L613.9,375.0 L617.8,375.1 L621.6,375.2 L625.4,375.3 L629.3,375.4 L633.1,375.5 L636.9,375.6 L640.8,375.7 L644.6,375.8 L648.5,375.9 L652.3,376.1 L656.1,376.3 L660.0,376.4 L663.8,376.6 L667.7,376.8 L671.5,377.0 L671.5,377.4 L667.7,377.4 L663.8,377.3 L660.0,377.3 L656.1,377.3 L652.3,377.3 L648.5,377.3 L644.6,377.3 L640.8,377.3 L636.9,377.2 L633.1,377.2 L629.3,377.2 L625.4,377.2 L621.6,377.2 L617.8,377.2 L613.9,377.2 L610.1,377.2 L606.2,377.2 L602.4,377.2 L598.6,377.2 L594.7,377.2 L590.9,377.1 L587.0,377.1 L583.2,377.1 L579.4,377.1 L575.5,377.1 L571.7,377.1 L567.8,377.1 L564.0,377.1 L560.2,377.1 L556.3,377.1 L552.5,377.1 L548.7,377.0 L544.8,377.0 L541.0,377.0 L537.1,377.0 L533.3,377.0 L529.5,377.0 L525.6,376.9 L521.8,376.9 L517.9,376.9 L514.1,376.9 L510.3,376.9 L506.4,376.9 L502.6,376.9 L498.7,376.9 L494.9,376.8 L491.1,376.8 L487.2,376.8 L483.4,376.8 L479.6,376.7 L475.7,376.7 L471.9,376.6 L468.0,376.6 L464.2,376.5 L460.4,376.4 L456.5,376.2 L452.7,376.1 L448.8,375.8 L445.0,375.4 L444.8,375.3 L444.6,375.3 L444.4,375.3 L444.2,375.2 L444.0,375.2 L443.8,375.2 L443.6,375.1 L443.4,375.1 L443.2,375.0 L443.0,375.0 L442.8,375.0 L442.6,374.9 L442.4,374.9 L442.2,374.8 L442.0,374.8 L441.8,374.7 L441.6,374.7 L441.4,374.6 L441.2,374.6 L441.0,374.5 L440.8,374.5 L440.6,374.4 L440.4,374.3 L440.2,374.2 L440.0,374.2 L439.8,374.1 L439.6,373.9 L439.4,373.8 L439.2,373.6 L439.0,373.5 L438.8,373.3 L438.6,373.1 L438.4,373.0 L438.2,372.8 L438.0,372.6 L437.8,372.4 L437.6,372.2 L437.4,372.0 L437.2,371.8 L437.0,371.7 L436.8,371.5 L436.6,371.3 L436.4,371.1 L436.2,370.9 L436.0,370.7 L435.8,370.4 L435.6,370.2 L435.4,370.0 L435.2,369.8 L435.0,369.7 L434.8,369.6 L434.6,369.5 L434.4,369.4 L434.2,369.4 L434.0,369.4 L433.8,369.5 L433.6,369.6 L433.4,369.7 L433.2,369.8 L433.0,370.2 L432.8,370.7 L432.6,371.2 L432.4,371.8 L432.2,372.3 L432.0,373.0 L431.8,373.6 L431.6,374.3 L431.4,375.1 L431.2,376.1 L431.0,376.9 L430.8,377.4 L430.6,377.6 L430.4,377.7 L430.2,377.7 L430.0,377.8 L429.8,377.9 L429.6,378.0 L429.4,378.1 L429.2,378.1 L429.0,378.2 L428.8,378.2 L428.6,378.3 L428.4,378.3 L428.2,378.3 L428.0,378.3 L427.8,378.3 L427.6,378.3 L427.4,378.3 L427.2,378.3 L427.0,378.3 L426.8,378.3 L426.6,378.2 L426.4,378.2 L426.2,378.2 L426.0,378.2 L425.8,378.2 L425.6,378.1 L425.4,378.1 L425.2,378.1 L425.0,378.1 L423.0,377.9 L421.0,377.8 L419.0,377.7 L417.0,377.6 L414.9,377.5 L412.9,377.5 L410.9,377.4 L408.9,377.4 L406.9,377.4 L404.9,377.4 L402.9,377.4 L400.9,377.4 L398.9,377.4 Z" fill="#00ffff" fill-opacity="0.3" stroke="none"/>
<line x1="399.97" y1="377.40" x2="671.50" y2="377.40" stroke="#0808ff" stroke-width="1.4" stroke-linecap="square"/>
</g>
<rect x="386.60" y="272.30" width="298.40" height="210.10" fill="none" stroke="#000" stroke-width="0.62"/>
<line x1="412.90" y1="482.40" x2="412.90" y2="485.50" stroke="#000" stroke-width="0.62"/>
<line x1="464.62" y1="482.40" x2="464.62" y2="485.50" stroke="#000" stroke-width="0.62"/>
<line x1="516.34" y1="482.40" x2="516.34" y2="485.50" stroke="#000" stroke-width="0.62"/>
<line x1="568.06" y1="482.40" x2="568.06" y2="485.50" stroke="#000" stroke-width="0.62"/>
<line x1="619.78" y1="482.40" x2="619.78" y2="485.50" stroke="#000" stroke-width="0.62"/>
<line x1="671.50" y1="482.40" x2="671.50" y2="485.50" stroke="#000" stroke-width="0.62"/>
<line x1="386.60" y1="471.96" x2="383.50" y2="471.96" stroke="#000" stroke-width="0.62"/>
<line x1="386.60" y1="448.32" x2="383.50" y2="448.32" stroke="#000" stroke-width="0.62"/>
<line x1="386.60" y1="424.68" x2="383.50" y2="424.68" stroke="#000" stroke-width="0.62"/>
<line x1="386.60" y1="401.04" x2="383.50" y2="401.04" stroke="#000" stroke-width="0.62"/>
<line x1="386.60" y1="377.40" x2="383.50" y2="377.40" stroke="#000" stroke-width="0.62"/>
<line x1="386.60" y1="353.76" x2="383.50" y2="353.76" stroke="#000" stroke-width="0.62"/>
<line x1="386.60" y1="330.12" x2="383.50" y2="330.12" stroke="#000" stroke-width="0.62"/>
<line x1="386.60" y1="306.48" x2="383.50" y2="306.48" stroke="#000" stroke-width="0.62"/>
<line x1="386.60" y1="282.84" x2="383.50" y2="282.84" stroke="#000" stroke-width="0.62"/>
<rect x="576.70" y="276.00" width="104.80" height="68.50" rx="1.4" fill="#fff" fill-opacity="0.8" stroke="#ccc" stroke-width="0.62"/>
<line x1="579.40" y1="282.20" x2="595.70" y2="282.20" stroke="#0808ff" stroke-width="1.35"/>
<rect x="579.40" y="291.75" width="16.30" height="5.6" fill="#ff0000" fill-opacity="0.3"/>
<rect x="579.40" y="305.45" width="16.30" height="5.6" fill="#008000" fill-opacity="0.3"/>
<rect x="579.40" y="319.15" width="16.30" height="5.6" fill="#ff7f0e" fill-opacity="0.3"/>
<rect x="579.40" y="332.85" width="16.30" height="5.6" fill="#00ffff" fill-opacity="0.3"/>
<g style="filter:grayscale(1)">
<text transform="translate(73.14,234.65) scale(1.06,1.0)" font-size="8.3" text-anchor="middle" fill="#000" stroke="#000" stroke-width="0.2">0.2</text>
<text transform="translate(111.38,234.65) scale(1.06,1.0)" font-size="8.3" text-anchor="middle" fill="#000" stroke="#000" stroke-width="0.2">0.4</text>
<text transform="translate(149.62,234.65) scale(1.06,1.0)" font-size="8.3" text-anchor="middle" fill="#000" stroke="#000" stroke-width="0.2">0.6</text>
<text transform="translate(187.86,234.65) scale(1.06,1.0)" font-size="8.3" text-anchor="middle" fill="#000" stroke="#000" stroke-width="0.2">0.8</text>
<text transform="translate(226.10,234.65) scale(1.06,1.0)" font-size="8.3" text-anchor="middle" fill="#000" stroke="#000" stroke-width="0.2">1.0</text>
<text transform="translate(264.34,234.65) scale(1.06,1.0)" font-size="8.3" text-anchor="middle" fill="#000" stroke="#000" stroke-width="0.2">1.2</text>
<text transform="translate(302.58,234.65) scale(1.06,1.0)" font-size="8.3" text-anchor="middle" fill="#000" stroke="#000" stroke-width="0.2">1.4</text>
<line x1="13.17" y1="214.17" x2="17.67" y2="214.17" stroke="#000" stroke-width="0.7"/>
<text transform="translate(30.70,216.47) scale(1.06,1.0)" font-size="8.3" text-anchor="end" fill="#000" stroke="#000" stroke-width="0.2">0.8</text>
<line x1="13.17" y1="190.29" x2="17.67" y2="190.29" stroke="#000" stroke-width="0.7"/>
<text transform="translate(30.70,192.59) scale(1.06,1.0)" font-size="8.3" text-anchor="end" fill="#000" stroke="#000" stroke-width="0.2">0.6</text>
<line x1="13.17" y1="166.41" x2="17.67" y2="166.41" stroke="#000" stroke-width="0.7"/>
<text transform="translate(30.70,168.71) scale(1.06,1.0)" font-size="8.3" text-anchor="end" fill="#000" stroke="#000" stroke-width="0.2">0.4</text>
<line x1="13.17" y1="142.53" x2="17.67" y2="142.53" stroke="#000" stroke-width="0.7"/>
<text transform="translate(30.70,144.83) scale(1.06,1.0)" font-size="8.3" text-anchor="end" fill="#000" stroke="#000" stroke-width="0.2">0.2</text>
<text transform="translate(30.70,120.95) scale(1.06,1.0)" font-size="8.3" text-anchor="end" fill="#000" stroke="#000" stroke-width="0.2">0.0</text>
<text transform="translate(30.70,97.07) scale(1.06,1.0)" font-size="8.3" text-anchor="end" fill="#000" stroke="#000" stroke-width="0.2">0.2</text>
<text transform="translate(30.70,73.19) scale(1.06,1.0)" font-size="8.3" text-anchor="end" fill="#000" stroke="#000" stroke-width="0.2">0.4</text>
<text transform="translate(30.70,49.31) scale(1.06,1.0)" font-size="8.3" text-anchor="end" fill="#000" stroke="#000" stroke-width="0.2">0.6</text>
<text transform="translate(30.70,25.43) scale(1.06,1.0)" font-size="8.3" text-anchor="end" fill="#000" stroke="#000" stroke-width="0.2">0.8</text>
<g transform="translate(7.30,118.16) rotate(-90)" stroke="#000" stroke-width="0.15">
<text transform="translate(-27.50,0.00) scale(1,0.9)" font-size="8.5" font-style="italic">A</text>
<text transform="translate(-21.20,1.40) scale(1,0.9)" font-size="5.0" font-style="italic">CP</text>
<text transform="translate(-14.60,0.00) scale(1,0.9)" font-size="8.5">(</text>
<text transform="translate(-12.20,0.00) scale(1,0.9)" font-size="8.5" font-style="italic">s</text>
<text transform="translate(-8.00,0.00) scale(1,0.9)" font-size="8.5">)</text>
<text transform="translate(-1.50,0.00) scale(1,0.9)" font-size="8.5">[</text>
<text transform="translate(1.20,0.00) scale(1,0.9)" font-size="8.5" font-style="italic">G</text>
<text transform="translate(7.60,0.00) scale(1,0.9)" font-size="8.5" font-style="italic">e</text>
<text transform="translate(11.90,0.00) scale(1,0.9)" font-size="8.5" font-style="italic">V</text>
<text transform="translate(17.80,-3.20) scale(1,0.9)" font-size="6.2">−</text>
<text transform="translate(21.80,-3.20) scale(1,0.9)" font-size="5.9">2</text>
<text transform="translate(25.30,0.00) scale(1,0.9)" font-size="8.5">]</text>
</g>
<g transform="translate(185.90,245.20)" stroke="#000" stroke-width="0.15">
<text transform="translate(-16.30,0.00) scale(1,0.95)" font-size="8.5" font-style="italic">s</text>
<text transform="translate(-9.60,0.00) scale(1,0.95)" font-size="8.5">[</text>
<text transform="translate(-6.90,0.00) scale(1,0.95)" font-size="8.5" font-style="italic">G</text>
<text transform="translate(-0.50,0.00) scale(1,0.95)" font-size="8.5" font-style="italic">e</text>
<text transform="translate(3.80,0.00) scale(1,0.95)" font-size="8.5" font-style="italic">V</text>
<text transform="translate(10.00,-3.30) scale(1,0.95)" font-size="6.0">2</text>
<text transform="translate(13.60,0.00) scale(1,0.95)" font-size="8.5">]</text>
</g>
<g transform="translate(185.90,8.20)" stroke="#000" stroke-width="0.15">
<text transform="translate(-26.60,0.00) scale(1.0,0.9)" font-size="9.8" font-style="italic">D</text>
<text transform="translate(-8.60,0.00) scale(1.1,0.9)" font-size="9.8" font-style="italic">π</text>
<text transform="translate(5.90,0.00) scale(1.1,0.9)" font-size="9.8" font-style="italic">π</text>
<text transform="translate(19.90,0.00) scale(1.15,0.9)" font-size="9.8" font-style="italic">γ</text>
<path d="M-17.3,-2.5 H-10.7 M-12.7,-4.5 L-10.5,-2.5 L-12.7,-0.5" fill="none" stroke="#000" stroke-width="0.95"/>
<path d="M-0.7,-4.9 H3.3 M1.3,-6.9 V-2.9" fill="none" stroke="#000" stroke-width="0.9"/>
<path d="M13.8,-5.4 H17.8" fill="none" stroke="#000" stroke-width="0.9"/>
</g>
<text transform="translate(251.60,25.67) scale(1.0,1.0)" font-size="7.6" text-anchor="start" fill="#000" stroke="#000" stroke-width="0.2">SM</text>
<text transform="translate(251.70,38.12) scale(1.0,1.0)" font-size="8.3" text-anchor="start" fill="#000" stroke="#000" stroke-width="0.2">|</text>
<text transform="translate(253.80,38.12) scale(0.95,1.0)" font-size="8.8" text-anchor="start" font-style="italic" fill="#000" stroke="#000" stroke-width="0.2">C</text>
<text transform="translate(259.30,39.62) scale(1.0,1.0)" font-size="6.2" text-anchor="start" fill="#000" stroke="#000" stroke-width="0.2">7</text>
<text transform="translate(263.40,38.12) scale(1.0,1.0)" font-size="8.3" text-anchor="start" fill="#000" stroke="#000" stroke-width="0.2">|</text>
<path d="M267.00,34.50 h5.6 M267.00,36.50 h5.6" stroke="#000" stroke-width="0.8" fill="none"/>
<text transform="translate(274.90,38.12) scale(1.0,1.0)" font-size="8.1" text-anchor="start" fill="#000" stroke="#000" stroke-width="0.2">0.05</text>
<text transform="translate(290.60,38.12) scale(1.0,1.0)" font-size="8.1" text-anchor="start" fill="#000" stroke="#000" stroke-width="0.2">,</text>
<text transform="translate(295.50,38.12) scale(1.05,1.0)" font-size="8.4" text-anchor="start" font-style="italic" fill="#000" stroke="#000" stroke-width="0.2">ϕ</text>
<text transform="translate(300.30,39.62) scale(1.05,1.0)" font-size="5.9" text-anchor="start" font-style="italic" fill="#000" stroke="#000" stroke-width="0.2">w</text>
<path d="M306.90,34.50 h5.6 M306.90,36.50 h5.6" stroke="#000" stroke-width="0.8" fill="none"/>
<text transform="translate(316.20,34.82) scale(1.0,1.0)" font-size="6.0" text-anchor="middle" font-style="italic" fill="#000" stroke="#000" stroke-width="0.2">π</text>
<line x1="314.20" y1="35.67" x2="318.20" y2="35.67" stroke="#000" stroke-width="0.55"/>
<text transform="translate(316.20,40.92) scale(1.0,1.0)" font-size="5.6" text-anchor="middle" fill="#000" stroke="#000" stroke-width="0.2">2</text>
<text transform="translate(251.70,51.82) scale(1.0,1.0)" font-size="8.3" text-anchor="start" fill="#000" stroke="#000" stroke-width="0.2">|</text>
<text transform="translate(253.80,51.82) scale(0.95,1.0)" font-size="8.8" text-anchor="start" font-style="italic" fill="#000" stroke="#000" stroke-width="0.2">C</text>
<text transform="translate(259.30,53.32) scale(1.0,1.0)" font-size="6.2" text-anchor="start" fill="#000" stroke="#000" stroke-width="0.2">7</text>
<text transform="translate(263.40,51.82) scale(1.0,1.0)" font-size="8.3" text-anchor="start" fill="#000" stroke="#000" stroke-width="0.2">|</text>
<path d="M267.00,47.50 h5.6 M267.00,49.50 h5.6" stroke="#000" stroke-width="0.8" fill="none"/>
<text transform="translate(274.90,51.82) scale(1.0,1.0)" font-size="8.1" text-anchor="start" fill="#000" stroke="#000" stroke-width="0.2">0.05</text>
<text transform="translate(290.60,51.82) scale(1.0,1.0)" font-size="8.1" text-anchor="start" fill="#000" stroke="#000" stroke-width="0.2">,</text>
<text transform="translate(295.50,51.82) scale(1.05,1.0)" font-size="8.4" text-anchor="start" font-style="italic" fill="#000" stroke="#000" stroke-width="0.2">ϕ</text>
<text transform="translate(300.30,53.32) scale(1.05,1.0)" font-size="5.9" text-anchor="start" font-style="italic" fill="#000" stroke="#000" stroke-width="0.2">w</text>
<path d="M306.90,47.50 h5.6 M306.90,49.50 h5.6" stroke="#000" stroke-width="0.8" fill="none"/>
<path d="M317.30,48.97 h5.0" stroke="#000" stroke-width="0.85" fill="none"/>
<text transform="translate(325.70,48.52) scale(1.0,1.0)" font-size="6.0" text-anchor="middle" font-style="italic" fill="#000" stroke="#000" stroke-width="0.2">π</text>
<line x1="323.70" y1="49.37" x2="327.70" y2="49.37" stroke="#000" stroke-width="0.55"/>
<text transform="translate(325.70,54.62) scale(1.0,1.0)" font-size="5.6" text-anchor="middle" fill="#000" stroke="#000" stroke-width="0.2">2</text>
<text transform="translate(251.70,65.52) scale(1.0,1.0)" font-size="8.3" text-anchor="start" fill="#000" stroke="#000" stroke-width="0.2">|</text>
<text transform="translate(253.80,65.52) scale(0.95,1.0)" font-size="8.8" text-anchor="start" font-style="italic" fill="#000" stroke="#000" stroke-width="0.2">C</text>
<text transform="translate(259.30,67.02) scale(1.0,1.0)" font-size="6.2" text-anchor="start" fill="#000" stroke="#000" stroke-width="0.2">7</text>
<text transform="translate(263.40,65.52) scale(1.0,1.0)" font-size="8.3" text-anchor="start" fill="#000" stroke="#000" stroke-width="0.2">|</text>
<path d="M267.00,61.50 h5.6 M267.00,63.50 h5.6" stroke="#000" stroke-width="0.8" fill="none"/>
<text transform="translate(274.90,65.52) scale(1.0,1.0)" font-size="8.1" text-anchor="start" fill="#000" stroke="#000" stroke-width="0.2">0.2</text>
<text transform="translate(286.15,65.52) scale(1.0,1.0)" font-size="8.1" text-anchor="start" fill="#000" stroke="#000" stroke-width="0.2">,</text>
<text transform="translate(291.05,65.52) scale(1.05,1.0)" font-size="8.4" text-anchor="start" font-style="italic" fill="#000" stroke="#000" stroke-width="0.2">ϕ</text>
<text transform="translate(295.85,67.02) scale(1.05,1.0)" font-size="5.9" text-anchor="start" font-style="italic" fill="#000" stroke="#000" stroke-width="0.2">w</text>
<path d="M302.45,61.50 h5.6 M302.45,63.50 h5.6" stroke="#000" stroke-width="0.8" fill="none"/>
<text transform="translate(311.75,62.22) scale(1.0,1.0)" font-size="6.0" text-anchor="middle" font-style="italic" fill="#000" stroke="#000" stroke-width="0.2">π</text>
<line x1="309.75" y1="63.07" x2="313.75" y2="63.07" stroke="#000" stroke-width="0.55"/>
<text transform="translate(311.75,68.32) scale(1.0,1.0)" font-size="5.6" text-anchor="middle" fill="#000" stroke="#000" stroke-width="0.2">2</text>
<text transform="translate(251.70,79.22) scale(1.0,1.0)" font-size="8.3" text-anchor="start" fill="#000" stroke="#000" stroke-width="0.2">|</text>
<text transform="translate(253.80,79.22) scale(0.95,1.0)" font-size="8.8" text-anchor="start" font-style="italic" fill="#000" stroke="#000" stroke-width="0.2">C</text>
<text transform="translate(259.30,80.72) scale(1.0,1.0)" font-size="6.2" text-anchor="start" fill="#000" stroke="#000" stroke-width="0.2">7</text>
<text transform="translate(263.40,79.22) scale(1.0,1.0)" font-size="8.3" text-anchor="start" fill="#000" stroke="#000" stroke-width="0.2">|</text>
<path d="M267.00,75.50 h5.6 M267.00,77.50 h5.6" stroke="#000" stroke-width="0.8" fill="none"/>
<text transform="translate(274.90,79.22) scale(1.0,1.0)" font-size="8.1" text-anchor="start" fill="#000" stroke="#000" stroke-width="0.2">0.2</text>
<text transform="translate(286.15,79.22) scale(1.0,1.0)" font-size="8.1" text-anchor="start" fill="#000" stroke="#000" stroke-width="0.2">,</text>
<text transform="translate(291.05,79.22) scale(1.05,1.0)" font-size="8.4" text-anchor="start" font-style="italic" fill="#000" stroke="#000" stroke-width="0.2">ϕ</text>
<text transform="translate(295.85,80.72) scale(1.05,1.0)" font-size="5.9" text-anchor="start" font-style="italic" fill="#000" stroke="#000" stroke-width="0.2">w</text>
<path d="M302.45,75.50 h5.6 M302.45,77.50 h5.6" stroke="#000" stroke-width="0.8" fill="none"/>
<path d="M312.85,76.37 h5.0" stroke="#000" stroke-width="0.85" fill="none"/>
<text transform="translate(321.25,75.92) scale(1.0,1.0)" font-size="6.0" text-anchor="middle" font-style="italic" fill="#000" stroke="#000" stroke-width="0.2">π</text>
<line x1="319.25" y1="76.77" x2="323.25" y2="76.77" stroke="#000" stroke-width="0.55"/>
<text transform="translate(321.25,82.02) scale(1.0,1.0)" font-size="5.6" text-anchor="middle" fill="#000" stroke="#000" stroke-width="0.2">2</text>
<text transform="translate(423.24,234.65) scale(1.06,1.0)" font-size="8.3" text-anchor="middle" fill="#000" stroke="#000" stroke-width="0.2">0.2</text>
<text transform="translate(461.48,234.65) scale(1.06,1.0)" font-size="8.3" text-anchor="middle" fill="#000" stroke="#000" stroke-width="0.2">0.4</text>
<text transform="translate(499.72,234.65) scale(1.06,1.0)" font-size="8.3" text-anchor="middle" fill="#000" stroke="#000" stroke-width="0.2">0.6</text>
<text transform="translate(537.96,234.65) scale(1.06,1.0)" font-size="8.3" text-anchor="middle" fill="#000" stroke="#000" stroke-width="0.2">0.8</text>
<text transform="translate(576.20,234.65) scale(1.06,1.0)" font-size="8.3" text-anchor="middle" fill="#000" stroke="#000" stroke-width="0.2">1.0</text>
<text transform="translate(614.44,234.65) scale(1.06,1.0)" font-size="8.3" text-anchor="middle" fill="#000" stroke="#000" stroke-width="0.2">1.2</text>
<text transform="translate(652.68,234.65) scale(1.06,1.0)" font-size="8.3" text-anchor="middle" fill="#000" stroke="#000" stroke-width="0.2">1.4</text>
<line x1="358.38" y1="213.95" x2="362.88" y2="213.95" stroke="#000" stroke-width="0.7"/>
<text transform="translate(380.80,216.25) scale(1.06,1.0)" font-size="8.3" text-anchor="end" fill="#000" stroke="#000" stroke-width="0.2">1.00</text>
<line x1="358.38" y1="190.12" x2="362.88" y2="190.12" stroke="#000" stroke-width="0.7"/>
<text transform="translate(380.80,192.42) scale(1.06,1.0)" font-size="8.3" text-anchor="end" fill="#000" stroke="#000" stroke-width="0.2">0.75</text>
<line x1="358.38" y1="166.30" x2="362.88" y2="166.30" stroke="#000" stroke-width="0.7"/>
<text transform="translate(380.80,168.60) scale(1.06,1.0)" font-size="8.3" text-anchor="end" fill="#000" stroke="#000" stroke-width="0.2">0.50</text>
<line x1="358.38" y1="142.47" x2="362.88" y2="142.47" stroke="#000" stroke-width="0.7"/>
<text transform="translate(380.80,144.77) scale(1.06,1.0)" font-size="8.3" text-anchor="end" fill="#000" stroke="#000" stroke-width="0.2">0.25</text>
<text transform="translate(380.80,120.95) scale(1.06,1.0)" font-size="8.3" text-anchor="end" fill="#000" stroke="#000" stroke-width="0.2">0.00</text>
<text transform="translate(380.80,97.12) scale(1.06,1.0)" font-size="8.3" text-anchor="end" fill="#000" stroke="#000" stroke-width="0.2">0.25</text>
<text transform="translate(380.80,73.30) scale(1.06,1.0)" font-size="8.3" text-anchor="end" fill="#000" stroke="#000" stroke-width="0.2">0.50</text>
<text transform="translate(380.80,49.48) scale(1.06,1.0)" font-size="8.3" text-anchor="end" fill="#000" stroke="#000" stroke-width="0.2">0.75</text>
<text transform="translate(380.80,25.65) scale(1.06,1.0)" font-size="8.3" text-anchor="end" fill="#000" stroke="#000" stroke-width="0.2">1.00</text>
<g transform="translate(351.20,118.16) rotate(-90)" stroke="#000" stroke-width="0.15">
<text transform="translate(-27.50,0.00) scale(1,0.9)" font-size="8.5" font-style="italic">A</text>
<text transform="translate(-21.20,1.40) scale(1,0.9)" font-size="5.0" font-style="italic">CP</text>
<text transform="translate(-14.60,0.00) scale(1,0.9)" font-size="8.5">(</text>
<text transform="translate(-12.20,0.00) scale(1,0.9)" font-size="8.5" font-style="italic">s</text>
<text transform="translate(-8.00,0.00) scale(1,0.9)" font-size="8.5">)</text>
<text transform="translate(-1.50,0.00) scale(1,0.9)" font-size="8.5">[</text>
<text transform="translate(1.20,0.00) scale(1,0.9)" font-size="8.5" font-style="italic">G</text>
<text transform="translate(7.60,0.00) scale(1,0.9)" font-size="8.5" font-style="italic">e</text>
<text transform="translate(11.90,0.00) scale(1,0.9)" font-size="8.5" font-style="italic">V</text>
<text transform="translate(17.80,-3.20) scale(1,0.9)" font-size="6.2">−</text>
<text transform="translate(21.80,-3.20) scale(1,0.9)" font-size="5.9">2</text>
<text transform="translate(25.30,0.00) scale(1,0.9)" font-size="8.5">]</text>
</g>
<g transform="translate(536.00,245.20)" stroke="#000" stroke-width="0.15">
<text transform="translate(-16.30,0.00) scale(1,0.95)" font-size="8.5" font-style="italic">s</text>
<text transform="translate(-9.60,0.00) scale(1,0.95)" font-size="8.5">[</text>
<text transform="translate(-6.90,0.00) scale(1,0.95)" font-size="8.5" font-style="italic">G</text>
<text transform="translate(-0.50,0.00) scale(1,0.95)" font-size="8.5" font-style="italic">e</text>
<text transform="translate(3.80,0.00) scale(1,0.95)" font-size="8.5" font-style="italic">V</text>
<text transform="translate(10.00,-3.30) scale(1,0.95)" font-size="6.0">2</text>
<text transform="translate(13.60,0.00) scale(1,0.95)" font-size="8.5">]</text>
</g>
<g transform="translate(536.00,8.20)" stroke="#000" stroke-width="0.15">
<text transform="translate(-26.60,0.00) scale(1.0,0.9)" font-size="9.8" font-style="italic">D</text>
<text transform="translate(-8.60,0.00) scale(1.1,0.9)" font-size="9.8" font-style="italic">π</text>
<text transform="translate(5.90,0.00) scale(1.1,0.9)" font-size="9.8" font-style="italic">π</text>
<text transform="translate(19.90,0.00) scale(1.15,0.9)" font-size="9.8" font-style="italic">γ</text>
<path d="M-17.3,-2.5 H-10.7 M-12.7,-4.5 L-10.5,-2.5 L-12.7,-0.5" fill="none" stroke="#000" stroke-width="0.95"/>
<path d="M-0.7,-4.9 H3.3 M1.3,-6.9 V-2.9" fill="none" stroke="#000" stroke-width="0.9"/>
<path d="M13.8,-5.4 H17.8" fill="none" stroke="#000" stroke-width="0.9"/>
</g>
<text transform="translate(601.70,25.67) scale(1.0,1.0)" font-size="7.6" text-anchor="start" fill="#000" stroke="#000" stroke-width="0.2">SM</text>
<text transform="translate(601.80,38.12) scale(1.0,1.0)" font-size="8.3" text-anchor="start" fill="#000" stroke="#000" stroke-width="0.2">|</text>
<text transform="translate(603.90,38.12) scale(0.95,1.0)" font-size="8.8" text-anchor="start" font-style="italic" fill="#000" stroke="#000" stroke-width="0.2">C</text>
<text transform="translate(609.60,35.72) scale(1.0,1.0)" font-size="6.5" text-anchor="start" fill="#000" stroke="#000" stroke-width="0.2">′</text>
<text transform="translate(609.20,39.92) scale(1.0,1.0)" font-size="6.0" text-anchor="start" fill="#000" stroke="#000" stroke-width="0.2">7</text>
<text transform="translate(613.50,38.12) scale(1.0,1.0)" font-size="8.3" text-anchor="start" fill="#000" stroke="#000" stroke-width="0.2">|</text>
<path d="M617.10,34.50 h5.6 M617.10,36.50 h5.6" stroke="#000" stroke-width="0.8" fill="none"/>
<text transform="translate(625.00,38.12) scale(1.0,1.0)" font-size="8.1" text-anchor="start" fill="#000" stroke="#000" stroke-width="0.2">0.05</text>
<text transform="translate(640.70,38.12) scale(1.0,1.0)" font-size="8.1" text-anchor="start" fill="#000" stroke="#000" stroke-width="0.2">,</text>
<text transform="translate(645.60,38.12) scale(1.05,1.0)" font-size="8.4" text-anchor="start" font-style="italic" fill="#000" stroke="#000" stroke-width="0.2">ϕ</text>
<text transform="translate(650.40,39.62) scale(1.05,1.0)" font-size="5.9" text-anchor="start" font-style="italic" fill="#000" stroke="#000" stroke-width="0.2">w</text>
<path d="M657.00,34.50 h5.6 M657.00,36.50 h5.6" stroke="#000" stroke-width="0.8" fill="none"/>
<text transform="translate(666.30,34.82) scale(1.0,1.0)" font-size="6.0" text-anchor="middle" font-style="italic" fill="#000" stroke="#000" stroke-width="0.2">π</text>
<line x1="664.30" y1="35.67" x2="668.30" y2="35.67" stroke="#000" stroke-width="0.55"/>
<text transform="translate(666.30,40.92) scale(1.0,1.0)" font-size="5.6" text-anchor="middle" fill="#000" stroke="#000" stroke-width="0.2">2</text>
<text transform="translate(601.80,51.82) scale(1.0,1.0)" font-size="8.3" text-anchor="start" fill="#000" stroke="#000" stroke-width="0.2">|</text>
<text transform="translate(603.90,51.82) scale(0.95,1.0)" font-size="8.8" text-anchor="start" font-style="italic" fill="#000" stroke="#000" stroke-width="0.2">C</text>
<text transform="translate(609.60,49.42) scale(1.0,1.0)" font-size="6.5" text-anchor="start" fill="#000" stroke="#000" stroke-width="0.2">′</text>
<text transform="translate(609.20,53.62) scale(1.0,1.0)" font-size="6.0" text-anchor="start" fill="#000" stroke="#000" stroke-width="0.2">7</text>
<text transform="translate(613.50,51.82) scale(1.0,1.0)" font-size="8.3" text-anchor="start" fill="#000" stroke="#000" stroke-width="0.2">|</text>
<path d="M617.10,47.50 h5.6 M617.10,49.50 h5.6" stroke="#000" stroke-width="0.8" fill="none"/>
<text transform="translate(625.00,51.82) scale(1.0,1.0)" font-size="8.1" text-anchor="start" fill="#000" stroke="#000" stroke-width="0.2">0.05</text>
<text transform="translate(640.70,51.82) scale(1.0,1.0)" font-size="8.1" text-anchor="start" fill="#000" stroke="#000" stroke-width="0.2">,</text>
<text transform="translate(645.60,51.82) scale(1.05,1.0)" font-size="8.4" text-anchor="start" font-style="italic" fill="#000" stroke="#000" stroke-width="0.2">ϕ</text>
<text transform="translate(650.40,53.32) scale(1.05,1.0)" font-size="5.9" text-anchor="start" font-style="italic" fill="#000" stroke="#000" stroke-width="0.2">w</text>
<path d="M657.00,47.50 h5.6 M657.00,49.50 h5.6" stroke="#000" stroke-width="0.8" fill="none"/>
<path d="M667.40,48.97 h5.0" stroke="#000" stroke-width="0.85" fill="none"/>
<text transform="translate(675.80,48.52) scale(1.0,1.0)" font-size="6.0" text-anchor="middle" font-style="italic" fill="#000" stroke="#000" stroke-width="0.2">π</text>
<line x1="673.80" y1="49.37" x2="677.80" y2="49.37" stroke="#000" stroke-width="0.55"/>
<text transform="translate(675.80,54.62) scale(1.0,1.0)" font-size="5.6" text-anchor="middle" fill="#000" stroke="#000" stroke-width="0.2">2</text>
<text transform="translate(601.80,65.52) scale(1.0,1.0)" font-size="8.3" text-anchor="start" fill="#000" stroke="#000" stroke-width="0.2">|</text>
<text transform="translate(603.90,65.52) scale(0.95,1.0)" font-size="8.8" text-anchor="start" font-style="italic" fill="#000" stroke="#000" stroke-width="0.2">C</text>
<text transform="translate(609.60,63.12) scale(1.0,1.0)" font-size="6.5" text-anchor="start" fill="#000" stroke="#000" stroke-width="0.2">′</text>
<text transform="translate(609.20,67.32) scale(1.0,1.0)" font-size="6.0" text-anchor="start" fill="#000" stroke="#000" stroke-width="0.2">7</text>
<text transform="translate(613.50,65.52) scale(1.0,1.0)" font-size="8.3" text-anchor="start" fill="#000" stroke="#000" stroke-width="0.2">|</text>
<path d="M617.10,61.50 h5.6 M617.10,63.50 h5.6" stroke="#000" stroke-width="0.8" fill="none"/>
<text transform="translate(625.00,65.52) scale(1.0,1.0)" font-size="8.1" text-anchor="start" fill="#000" stroke="#000" stroke-width="0.2">0.2</text>
<text transform="translate(636.25,65.52) scale(1.0,1.0)" font-size="8.1" text-anchor="start" fill="#000" stroke="#000" stroke-width="0.2">,</text>
<text transform="translate(641.15,65.52) scale(1.05,1.0)" font-size="8.4" text-anchor="start" font-style="italic" fill="#000" stroke="#000" stroke-width="0.2">ϕ</text>
<text transform="translate(645.95,67.02) scale(1.05,1.0)" font-size="5.9" text-anchor="start" font-style="italic" fill="#000" stroke="#000" stroke-width="0.2">w</text>
<path d="M652.55,61.50 h5.6 M652.55,63.50 h5.6" stroke="#000" stroke-width="0.8" fill="none"/>
<text transform="translate(661.85,62.22) scale(1.0,1.0)" font-size="6.0" text-anchor="middle" font-style="italic" fill="#000" stroke="#000" stroke-width="0.2">π</text>
<line x1="659.85" y1="63.07" x2="663.85" y2="63.07" stroke="#000" stroke-width="0.55"/>
<text transform="translate(661.85,68.32) scale(1.0,1.0)" font-size="5.6" text-anchor="middle" fill="#000" stroke="#000" stroke-width="0.2">2</text>
<text transform="translate(601.80,79.22) scale(1.0,1.0)" font-size="8.3" text-anchor="start" fill="#000" stroke="#000" stroke-width="0.2">|</text>
<text transform="translate(603.90,79.22) scale(0.95,1.0)" font-size="8.8" text-anchor="start" font-style="italic" fill="#000" stroke="#000" stroke-width="0.2">C</text>
<text transform="translate(609.60,76.82) scale(1.0,1.0)" font-size="6.5" text-anchor="start" fill="#000" stroke="#000" stroke-width="0.2">′</text>
<text transform="translate(609.20,81.02) scale(1.0,1.0)" font-size="6.0" text-anchor="start" fill="#000" stroke="#000" stroke-width="0.2">7</text>
<text transform="translate(613.50,79.22) scale(1.0,1.0)" font-size="8.3" text-anchor="start" fill="#000" stroke="#000" stroke-width="0.2">|</text>
<path d="M617.10,75.50 h5.6 M617.10,77.50 h5.6" stroke="#000" stroke-width="0.8" fill="none"/>
<text transform="translate(625.00,79.22) scale(1.0,1.0)" font-size="8.1" text-anchor="start" fill="#000" stroke="#000" stroke-width="0.2">0.2</text>
<text transform="translate(636.25,79.22) scale(1.0,1.0)" font-size="8.1" text-anchor="start" fill="#000" stroke="#000" stroke-width="0.2">,</text>
<text transform="translate(641.15,79.22) scale(1.05,1.0)" font-size="8.4" text-anchor="start" font-style="italic" fill="#000" stroke="#000" stroke-width="0.2">ϕ</text>
<text transform="translate(645.95,80.72) scale(1.05,1.0)" font-size="5.9" text-anchor="start" font-style="italic" fill="#000" stroke="#000" stroke-width="0.2">w</text>
<path d="M652.55,75.50 h5.6 M652.55,77.50 h5.6" stroke="#000" stroke-width="0.8" fill="none"/>
<path d="M662.95,76.37 h5.0" stroke="#000" stroke-width="0.85" fill="none"/>
<text transform="translate(671.35,75.92) scale(1.0,1.0)" font-size="6.0" text-anchor="middle" font-style="italic" fill="#000" stroke="#000" stroke-width="0.2">π</text>
<line x1="669.35" y1="76.77" x2="673.35" y2="76.77" stroke="#000" stroke-width="0.55"/>
<text transform="translate(671.35,82.02) scale(1.0,1.0)" font-size="5.6" text-anchor="middle" fill="#000" stroke="#000" stroke-width="0.2">2</text>
<text transform="translate(62.80,493.70) scale(1.06,1.0)" font-size="8.3" text-anchor="middle" fill="#000" stroke="#000" stroke-width="0.2">1.0</text>
<text transform="translate(114.52,493.70) scale(1.06,1.0)" font-size="8.3" text-anchor="middle" fill="#000" stroke="#000" stroke-width="0.2">1.1</text>
<text transform="translate(166.24,493.70) scale(1.06,1.0)" font-size="8.3" text-anchor="middle" fill="#000" stroke="#000" stroke-width="0.2">1.2</text>
<text transform="translate(217.96,493.70) scale(1.06,1.0)" font-size="8.3" text-anchor="middle" fill="#000" stroke="#000" stroke-width="0.2">1.3</text>
<text transform="translate(269.68,493.70) scale(1.06,1.0)" font-size="8.3" text-anchor="middle" fill="#000" stroke="#000" stroke-width="0.2">1.4</text>
<text transform="translate(321.40,493.70) scale(1.06,1.0)" font-size="8.3" text-anchor="middle" fill="#000" stroke="#000" stroke-width="0.2">1.5</text>
<line x1="20.51" y1="450.95" x2="25.01" y2="450.95" stroke="#000" stroke-width="0.7"/>
<text transform="translate(30.70,453.25) scale(1.06,1.0)" font-size="8.3" text-anchor="end" fill="#000" stroke="#000" stroke-width="0.2">4</text>
<line x1="20.51" y1="414.45" x2="25.01" y2="414.45" stroke="#000" stroke-width="0.7"/>
<text transform="translate(30.70,416.75) scale(1.06,1.0)" font-size="8.3" text-anchor="end" fill="#000" stroke="#000" stroke-width="0.2">2</text>
<text transform="translate(30.70,380.25) scale(1.06,1.0)" font-size="8.3" text-anchor="end" fill="#000" stroke="#000" stroke-width="0.2">0</text>
<text transform="translate(30.70,343.75) scale(1.06,1.0)" font-size="8.3" text-anchor="end" fill="#000" stroke="#000" stroke-width="0.2">2</text>
<text transform="translate(30.70,307.25) scale(1.06,1.0)" font-size="8.3" text-anchor="end" fill="#000" stroke="#000" stroke-width="0.2">4</text>
<g transform="translate(13.10,377.35) rotate(-90)" stroke="#000" stroke-width="0.15">
<text transform="translate(-27.50,0.00) scale(1,0.9)" font-size="8.5" font-style="italic">A</text>
<text transform="translate(-21.20,1.40) scale(1,0.9)" font-size="5.0" font-style="italic">CP</text>
<text transform="translate(-14.60,0.00) scale(1,0.9)" font-size="8.5">(</text>
<text transform="translate(-12.20,0.00) scale(1,0.9)" font-size="8.5" font-style="italic">s</text>
<text transform="translate(-8.00,0.00) scale(1,0.9)" font-size="8.5">)</text>
<text transform="translate(-1.50,0.00) scale(1,0.9)" font-size="8.5">[</text>
<text transform="translate(1.20,0.00) scale(1,0.9)" font-size="8.5" font-style="italic">G</text>
<text transform="translate(7.60,0.00) scale(1,0.9)" font-size="8.5" font-style="italic">e</text>
<text transform="translate(11.90,0.00) scale(1,0.9)" font-size="8.5" font-style="italic">V</text>
<text transform="translate(17.80,-3.20) scale(1,0.9)" font-size="6.2">−</text>
<text transform="translate(21.80,-3.20) scale(1,0.9)" font-size="5.9">2</text>
<text transform="translate(25.30,0.00) scale(1,0.9)" font-size="8.5">]</text>
</g>
<g transform="translate(185.85,504.20)" stroke="#000" stroke-width="0.15">
<text transform="translate(-16.30,0.00) scale(1,0.95)" font-size="8.5" font-style="italic">s</text>
<text transform="translate(-9.60,0.00) scale(1,0.95)" font-size="8.5">[</text>
<text transform="translate(-6.90,0.00) scale(1,0.95)" font-size="8.5" font-style="italic">G</text>
<text transform="translate(-0.50,0.00) scale(1,0.95)" font-size="8.5" font-style="italic">e</text>
<text transform="translate(3.80,0.00) scale(1,0.95)" font-size="8.5" font-style="italic">V</text>
<text transform="translate(10.00,-3.30) scale(1,0.95)" font-size="6.0">2</text>
<text transform="translate(13.60,0.00) scale(1,0.95)" font-size="8.5">]</text>
</g>
<g transform="translate(185.85,267.50)" stroke="#000" stroke-width="0.15">
<text transform="translate(-27.60,0.00) scale(1.0,0.9)" font-size="9.8" font-style="italic">D</text>
<text transform="translate(-8.70,0.00) scale(1.08,0.9)" font-size="9.8" font-style="italic">K</text>
<text transform="translate(5.80,0.00) scale(1.08,0.9)" font-size="9.8" font-style="italic">K</text>
<text transform="translate(20.40,0.00) scale(1.25,0.9)" font-size="9.8" font-style="italic">γ</text>
<path d="M-18.2,-2.5 H-10.7 M-12.7,-4.5 L-10.5,-2.5 L-12.7,-0.5" fill="none" stroke="#000" stroke-width="0.95"/>
<path d="M-0.7,-4.9 H3.3 M1.3,-6.9 V-2.9" fill="none" stroke="#000" stroke-width="0.9"/>
<path d="M14.2,-5.4 H18.3" fill="none" stroke="#000" stroke-width="0.9"/>
</g>
<text transform="translate(251.50,285.00) scale(1.0,1.0)" font-size="7.6" text-anchor="start" fill="#000" stroke="#000" stroke-width="0.2">SM</text>
<text transform="translate(251.60,297.45) scale(1.0,1.0)" font-size="8.3" text-anchor="start" fill="#000" stroke="#000" stroke-width="0.2">|</text>
<text transform="translate(253.70,297.45) scale(0.95,1.0)" font-size="8.8" text-anchor="start" font-style="italic" fill="#000" stroke="#000" stroke-width="0.2">C</text>
<text transform="translate(259.20,298.95) scale(1.0,1.0)" font-size="6.2" text-anchor="start" fill="#000" stroke="#000" stroke-width="0.2">7</text>
<text transform="translate(263.30,297.45) scale(1.0,1.0)" font-size="8.3" text-anchor="start" fill="#000" stroke="#000" stroke-width="0.2">|</text>
<path d="M266.90,293.50 h5.6 M266.90,295.50 h5.6" stroke="#000" stroke-width="0.8" fill="none"/>
<text transform="translate(274.80,297.45) scale(1.0,1.0)" font-size="8.1" text-anchor="start" fill="#000" stroke="#000" stroke-width="0.2">0.05</text>
<text transform="translate(290.50,297.45) scale(1.0,1.0)" font-size="8.1" text-anchor="start" fill="#000" stroke="#000" stroke-width="0.2">,</text>
<text transform="translate(295.40,297.45) scale(1.05,1.0)" font-size="8.4" text-anchor="start" font-style="italic" fill="#000" stroke="#000" stroke-width="0.2">ϕ</text>
<text transform="translate(300.20,298.95) scale(1.05,1.0)" font-size="5.9" text-anchor="start" font-style="italic" fill="#000" stroke="#000" stroke-width="0.2">w</text>
<path d="M306.80,293.50 h5.6 M306.80,295.50 h5.6" stroke="#000" stroke-width="0.8" fill="none"/>
<text transform="translate(316.10,294.15) scale(1.0,1.0)" font-size="6.0" text-anchor="middle" font-style="italic" fill="#000" stroke="#000" stroke-width="0.2">π</text>
<line x1="314.10" y1="295.00" x2="318.10" y2="295.00" stroke="#000" stroke-width="0.55"/>
<text transform="translate(316.10,300.25) scale(1.0,1.0)" font-size="5.6" text-anchor="middle" fill="#000" stroke="#000" stroke-width="0.2">2</text>
<text transform="translate(251.60,311.15) scale(1.0,1.0)" font-size="8.3" text-anchor="start" fill="#000" stroke="#000" stroke-width="0.2">|</text>
<text transform="translate(253.70,311.15) scale(0.95,1.0)" font-size="8.8" text-anchor="start" font-style="italic" fill="#000" stroke="#000" stroke-width="0.2">C</text>
<text transform="translate(259.20,312.65) scale(1.0,1.0)" font-size="6.2" text-anchor="start" fill="#000" stroke="#000" stroke-width="0.2">7</text>
<text transform="translate(263.30,311.15) scale(1.0,1.0)" font-size="8.3" text-anchor="start" fill="#000" stroke="#000" stroke-width="0.2">|</text>
<path d="M266.90,307.50 h5.6 M266.90,309.50 h5.6" stroke="#000" stroke-width="0.8" fill="none"/>
<text transform="translate(274.80,311.15) scale(1.0,1.0)" font-size="8.1" text-anchor="start" fill="#000" stroke="#000" stroke-width="0.2">0.05</text>
<text transform="translate(290.50,311.15) scale(1.0,1.0)" font-size="8.1" text-anchor="start" fill="#000" stroke="#000" stroke-width="0.2">,</text>
<text transform="translate(295.40,311.15) scale(1.05,1.0)" font-size="8.4" text-anchor="start" font-style="italic" fill="#000" stroke="#000" stroke-width="0.2">ϕ</text>
<text transform="translate(300.20,312.65) scale(1.05,1.0)" font-size="5.9" text-anchor="start" font-style="italic" fill="#000" stroke="#000" stroke-width="0.2">w</text>
<path d="M306.80,307.50 h5.6 M306.80,309.50 h5.6" stroke="#000" stroke-width="0.8" fill="none"/>
<path d="M317.20,308.30 h5.0" stroke="#000" stroke-width="0.85" fill="none"/>
<text transform="translate(325.60,307.85) scale(1.0,1.0)" font-size="6.0" text-anchor="middle" font-style="italic" fill="#000" stroke="#000" stroke-width="0.2">π</text>
<line x1="323.60" y1="308.70" x2="327.60" y2="308.70" stroke="#000" stroke-width="0.55"/>
<text transform="translate(325.60,313.95) scale(1.0,1.0)" font-size="5.6" text-anchor="middle" fill="#000" stroke="#000" stroke-width="0.2">2</text>
<text transform="translate(251.60,324.85) scale(1.0,1.0)" font-size="8.3" text-anchor="start" fill="#000" stroke="#000" stroke-width="0.2">|</text>
<text transform="translate(253.70,324.85) scale(0.95,1.0)" font-size="8.8" text-anchor="start" font-style="italic" fill="#000" stroke="#000" stroke-width="0.2">C</text>
<text transform="translate(259.20,326.35) scale(1.0,1.0)" font-size="6.2" text-anchor="start" fill="#000" stroke="#000" stroke-width="0.2">7</text>
<text transform="translate(263.30,324.85) scale(1.0,1.0)" font-size="8.3" text-anchor="start" fill="#000" stroke="#000" stroke-width="0.2">|</text>
<path d="M266.90,320.50 h5.6 M266.90,322.50 h5.6" stroke="#000" stroke-width="0.8" fill="none"/>
<text transform="translate(274.80,324.85) scale(1.0,1.0)" font-size="8.1" text-anchor="start" fill="#000" stroke="#000" stroke-width="0.2">0.2</text>
<text transform="translate(286.05,324.85) scale(1.0,1.0)" font-size="8.1" text-anchor="start" fill="#000" stroke="#000" stroke-width="0.2">,</text>
<text transform="translate(290.95,324.85) scale(1.05,1.0)" font-size="8.4" text-anchor="start" font-style="italic" fill="#000" stroke="#000" stroke-width="0.2">ϕ</text>
<text transform="translate(295.75,326.35) scale(1.05,1.0)" font-size="5.9" text-anchor="start" font-style="italic" fill="#000" stroke="#000" stroke-width="0.2">w</text>
<path d="M302.35,320.50 h5.6 M302.35,322.50 h5.6" stroke="#000" stroke-width="0.8" fill="none"/>
<text transform="translate(311.65,321.55) scale(1.0,1.0)" font-size="6.0" text-anchor="middle" font-style="italic" fill="#000" stroke="#000" stroke-width="0.2">π</text>
<line x1="309.65" y1="322.40" x2="313.65" y2="322.40" stroke="#000" stroke-width="0.55"/>
<text transform="translate(311.65,327.65) scale(1.0,1.0)" font-size="5.6" text-anchor="middle" fill="#000" stroke="#000" stroke-width="0.2">2</text>
<text transform="translate(251.60,338.55) scale(1.0,1.0)" font-size="8.3" text-anchor="start" fill="#000" stroke="#000" stroke-width="0.2">|</text>
<text transform="translate(253.70,338.55) scale(0.95,1.0)" font-size="8.8" text-anchor="start" font-style="italic" fill="#000" stroke="#000" stroke-width="0.2">C</text>
<text transform="translate(259.20,340.05) scale(1.0,1.0)" font-size="6.2" text-anchor="start" fill="#000" stroke="#000" stroke-width="0.2">7</text>
<text transform="translate(263.30,338.55) scale(1.0,1.0)" font-size="8.3" text-anchor="start" fill="#000" stroke="#000" stroke-width="0.2">|</text>
<path d="M266.90,334.50 h5.6 M266.90,336.50 h5.6" stroke="#000" stroke-width="0.8" fill="none"/>
<text transform="translate(274.80,338.55) scale(1.0,1.0)" font-size="8.1" text-anchor="start" fill="#000" stroke="#000" stroke-width="0.2">0.2</text>
<text transform="translate(286.05,338.55) scale(1.0,1.0)" font-size="8.1" text-anchor="start" fill="#000" stroke="#000" stroke-width="0.2">,</text>
<text transform="translate(290.95,338.55) scale(1.05,1.0)" font-size="8.4" text-anchor="start" font-style="italic" fill="#000" stroke="#000" stroke-width="0.2">ϕ</text>
<text transform="translate(295.75,340.05) scale(1.05,1.0)" font-size="5.9" text-anchor="start" font-style="italic" fill="#000" stroke="#000" stroke-width="0.2">w</text>
<path d="M302.35,334.50 h5.6 M302.35,336.50 h5.6" stroke="#000" stroke-width="0.8" fill="none"/>
<path d="M312.75,335.70 h5.0" stroke="#000" stroke-width="0.85" fill="none"/>
<text transform="translate(321.15,335.25) scale(1.0,1.0)" font-size="6.0" text-anchor="middle" font-style="italic" fill="#000" stroke="#000" stroke-width="0.2">π</text>
<line x1="319.15" y1="336.10" x2="323.15" y2="336.10" stroke="#000" stroke-width="0.55"/>
<text transform="translate(321.15,341.35) scale(1.0,1.0)" font-size="5.6" text-anchor="middle" fill="#000" stroke="#000" stroke-width="0.2">2</text>
<text transform="translate(412.90,493.70) scale(1.06,1.0)" font-size="8.3" text-anchor="middle" fill="#000" stroke="#000" stroke-width="0.2">1.0</text>
<text transform="translate(464.62,493.70) scale(1.06,1.0)" font-size="8.3" text-anchor="middle" fill="#000" stroke="#000" stroke-width="0.2">1.1</text>
<text transform="translate(516.34,493.70) scale(1.06,1.0)" font-size="8.3" text-anchor="middle" fill="#000" stroke="#000" stroke-width="0.2">1.2</text>
<text transform="translate(568.06,493.70) scale(1.06,1.0)" font-size="8.3" text-anchor="middle" fill="#000" stroke="#000" stroke-width="0.2">1.3</text>
<text transform="translate(619.78,493.70) scale(1.06,1.0)" font-size="8.3" text-anchor="middle" fill="#000" stroke="#000" stroke-width="0.2">1.4</text>
<text transform="translate(671.50,493.70) scale(1.06,1.0)" font-size="8.3" text-anchor="middle" fill="#000" stroke="#000" stroke-width="0.2">1.5</text>
<line x1="363.27" y1="472.51" x2="367.77" y2="472.51" stroke="#000" stroke-width="0.7"/>
<text transform="translate(380.80,474.81) scale(1.06,1.0)" font-size="8.3" text-anchor="end" fill="#000" stroke="#000" stroke-width="0.2">0.8</text>
<line x1="363.27" y1="448.87" x2="367.77" y2="448.87" stroke="#000" stroke-width="0.7"/>
<text transform="translate(380.80,451.17) scale(1.06,1.0)" font-size="8.3" text-anchor="end" fill="#000" stroke="#000" stroke-width="0.2">0.6</text>
<line x1="363.27" y1="425.23" x2="367.77" y2="425.23" stroke="#000" stroke-width="0.7"/>
<text transform="translate(380.80,427.53) scale(1.06,1.0)" font-size="8.3" text-anchor="end" fill="#000" stroke="#000" stroke-width="0.2">0.4</text>
<line x1="363.27" y1="401.59" x2="367.77" y2="401.59" stroke="#000" stroke-width="0.7"/>
<text transform="translate(380.80,403.89) scale(1.06,1.0)" font-size="8.3" text-anchor="end" fill="#000" stroke="#000" stroke-width="0.2">0.2</text>
<text transform="translate(380.80,380.25) scale(1.06,1.0)" font-size="8.3" text-anchor="end" fill="#000" stroke="#000" stroke-width="0.2">0.0</text>
<text transform="translate(380.80,356.61) scale(1.06,1.0)" font-size="8.3" text-anchor="end" fill="#000" stroke="#000" stroke-width="0.2">0.2</text>
<text transform="translate(380.80,332.97) scale(1.06,1.0)" font-size="8.3" text-anchor="end" fill="#000" stroke="#000" stroke-width="0.2">0.4</text>
<text transform="translate(380.80,309.33) scale(1.06,1.0)" font-size="8.3" text-anchor="end" fill="#000" stroke="#000" stroke-width="0.2">0.6</text>
<text transform="translate(380.80,285.69) scale(1.06,1.0)" font-size="8.3" text-anchor="end" fill="#000" stroke="#000" stroke-width="0.2">0.8</text>
<g transform="translate(357.00,377.35) rotate(-90)" stroke="#000" stroke-width="0.15">
<text transform="translate(-27.50,0.00) scale(1,0.9)" font-size="8.5" font-style="italic">A</text>
<text transform="translate(-21.20,1.40) scale(1,0.9)" font-size="5.0" font-style="italic">CP</text>
<text transform="translate(-14.60,0.00) scale(1,0.9)" font-size="8.5">(</text>
<text transform="translate(-12.20,0.00) scale(1,0.9)" font-size="8.5" font-style="italic">s</text>
<text transform="translate(-8.00,0.00) scale(1,0.9)" font-size="8.5">)</text>
<text transform="translate(-1.50,0.00) scale(1,0.9)" font-size="8.5">[</text>
<text transform="translate(1.20,0.00) scale(1,0.9)" font-size="8.5" font-style="italic">G</text>
<text transform="translate(7.60,0.00) scale(1,0.9)" font-size="8.5" font-style="italic">e</text>
<text transform="translate(11.90,0.00) scale(1,0.9)" font-size="8.5" font-style="italic">V</text>
<text transform="translate(17.80,-3.20) scale(1,0.9)" font-size="6.2">−</text>
<text transform="translate(21.80,-3.20) scale(1,0.9)" font-size="5.9">2</text>
<text transform="translate(25.30,0.00) scale(1,0.9)" font-size="8.5">]</text>
</g>
<g transform="translate(535.95,504.20)" stroke="#000" stroke-width="0.15">
<text transform="translate(-16.30,0.00) scale(1,0.95)" font-size="8.5" font-style="italic">s</text>
<text transform="translate(-9.60,0.00) scale(1,0.95)" font-size="8.5">[</text>
<text transform="translate(-6.90,0.00) scale(1,0.95)" font-size="8.5" font-style="italic">G</text>
<text transform="translate(-0.50,0.00) scale(1,0.95)" font-size="8.5" font-style="italic">e</text>
<text transform="translate(3.80,0.00) scale(1,0.95)" font-size="8.5" font-style="italic">V</text>
<text transform="translate(10.00,-3.30) scale(1,0.95)" font-size="6.0">2</text>
<text transform="translate(13.60,0.00) scale(1,0.95)" font-size="8.5">]</text>
</g>
<g transform="translate(535.95,267.50)" stroke="#000" stroke-width="0.15">
<text transform="translate(-27.60,0.00) scale(1.0,0.9)" font-size="9.8" font-style="italic">D</text>
<text transform="translate(-8.70,0.00) scale(1.08,0.9)" font-size="9.8" font-style="italic">K</text>
<text transform="translate(5.80,0.00) scale(1.08,0.9)" font-size="9.8" font-style="italic">K</text>
<text transform="translate(20.40,0.00) scale(1.25,0.9)" font-size="9.8" font-style="italic">γ</text>
<path d="M-18.2,-2.5 H-10.7 M-12.7,-4.5 L-10.5,-2.5 L-12.7,-0.5" fill="none" stroke="#000" stroke-width="0.95"/>
<path d="M-0.7,-4.9 H3.3 M1.3,-6.9 V-2.9" fill="none" stroke="#000" stroke-width="0.9"/>
<path d="M14.2,-5.4 H18.3" fill="none" stroke="#000" stroke-width="0.9"/>
</g>
<text transform="translate(601.60,285.00) scale(1.0,1.0)" font-size="7.6" text-anchor="start" fill="#000" stroke="#000" stroke-width="0.2">SM</text>
<text transform="translate(601.70,297.45) scale(1.0,1.0)" font-size="8.3" text-anchor="start" fill="#000" stroke="#000" stroke-width="0.2">|</text>
<text transform="translate(603.80,297.45) scale(0.95,1.0)" font-size="8.8" text-anchor="start" font-style="italic" fill="#000" stroke="#000" stroke-width="0.2">C</text>
<text transform="translate(609.50,295.05) scale(1.0,1.0)" font-size="6.5" text-anchor="start" fill="#000" stroke="#000" stroke-width="0.2">′</text>
<text transform="translate(609.10,299.25) scale(1.0,1.0)" font-size="6.0" text-anchor="start" fill="#000" stroke="#000" stroke-width="0.2">7</text>
<text transform="translate(613.40,297.45) scale(1.0,1.0)" font-size="8.3" text-anchor="start" fill="#000" stroke="#000" stroke-width="0.2">|</text>
<path d="M617.00,293.50 h5.6 M617.00,295.50 h5.6" stroke="#000" stroke-width="0.8" fill="none"/>
<text transform="translate(624.90,297.45) scale(1.0,1.0)" font-size="8.1" text-anchor="start" fill="#000" stroke="#000" stroke-width="0.2">0.05</text>
<text transform="translate(640.60,297.45) scale(1.0,1.0)" font-size="8.1" text-anchor="start" fill="#000" stroke="#000" stroke-width="0.2">,</text>
<text transform="translate(645.50,297.45) scale(1.05,1.0)" font-size="8.4" text-anchor="start" font-style="italic" fill="#000" stroke="#000" stroke-width="0.2">ϕ</text>
<text transform="translate(650.30,298.95) scale(1.05,1.0)" font-size="5.9" text-anchor="start" font-style="italic" fill="#000" stroke="#000" stroke-width="0.2">w</text>
<path d="M656.90,293.50 h5.6 M656.90,295.50 h5.6" stroke="#000" stroke-width="0.8" fill="none"/>
<text transform="translate(666.20,294.15) scale(1.0,1.0)" font-size="6.0" text-anchor="middle" font-style="italic" fill="#000" stroke="#000" stroke-width="0.2">π</text>
<line x1="664.20" y1="295.00" x2="668.20" y2="295.00" stroke="#000" stroke-width="0.55"/>
<text transform="translate(666.20,300.25) scale(1.0,1.0)" font-size="5.6" text-anchor="middle" fill="#000" stroke="#000" stroke-width="0.2">2</text>
<text transform="translate(601.70,311.15) scale(1.0,1.0)" font-size="8.3" text-anchor="start" fill="#000" stroke="#000" stroke-width="0.2">|</text>
<text transform="translate(603.80,311.15) scale(0.95,1.0)" font-size="8.8" text-anchor="start" font-style="italic" fill="#000" stroke="#000" stroke-width="0.2">C</text>
<text transform="translate(609.50,308.75) scale(1.0,1.0)" font-size="6.5" text-anchor="start" fill="#000" stroke="#000" stroke-width="0.2">′</text>
<text transform="translate(609.10,312.95) scale(1.0,1.0)" font-size="6.0" text-anchor="start" fill="#000" stroke="#000" stroke-width="0.2">7</text>
<text transform="translate(613.40,311.15) scale(1.0,1.0)" font-size="8.3" text-anchor="start" fill="#000" stroke="#000" stroke-width="0.2">|</text>
<path d="M617.00,307.50 h5.6 M617.00,309.50 h5.6" stroke="#000" stroke-width="0.8" fill="none"/>
<text transform="translate(624.90,311.15) scale(1.0,1.0)" font-size="8.1" text-anchor="start" fill="#000" stroke="#000" stroke-width="0.2">0.05</text>
<text transform="translate(640.60,311.15) scale(1.0,1.0)" font-size="8.1" text-anchor="start" fill="#000" stroke="#000" stroke-width="0.2">,</text>
<text transform="translate(645.50,311.15) scale(1.05,1.0)" font-size="8.4" text-anchor="start" font-style="italic" fill="#000" stroke="#000" stroke-width="0.2">ϕ</text>
<text transform="translate(650.30,312.65) scale(1.05,1.0)" font-size="5.9" text-anchor="start" font-style="italic" fill="#000" stroke="#000" stroke-width="0.2">w</text>
<path d="M656.90,307.50 h5.6 M656.90,309.50 h5.6" stroke="#000" stroke-width="0.8" fill="none"/>
<path d="M667.30,308.30 h5.0" stroke="#000" stroke-width="0.85" fill="none"/>
<text transform="translate(675.70,307.85) scale(1.0,1.0)" font-size="6.0" text-anchor="middle" font-style="italic" fill="#000" stroke="#000" stroke-width="0.2">π</text>
<line x1="673.70" y1="308.70" x2="677.70" y2="308.70" stroke="#000" stroke-width="0.55"/>
<text transform="translate(675.70,313.95) scale(1.0,1.0)" font-size="5.6" text-anchor="middle" fill="#000" stroke="#000" stroke-width="0.2">2</text>
<text transform="translate(601.70,324.85) scale(1.0,1.0)" font-size="8.3" text-anchor="start" fill="#000" stroke="#000" stroke-width="0.2">|</text>
<text transform="translate(603.80,324.85) scale(0.95,1.0)" font-size="8.8" text-anchor="start" font-style="italic" fill="#000" stroke="#000" stroke-width="0.2">C</text>
<text transform="translate(609.50,322.45) scale(1.0,1.0)" font-size="6.5" text-anchor="start" fill="#000" stroke="#000" stroke-width="0.2">′</text>
<text transform="translate(609.10,326.65) scale(1.0,1.0)" font-size="6.0" text-anchor="start" fill="#000" stroke="#000" stroke-width="0.2">7</text>
<text transform="translate(613.40,324.85) scale(1.0,1.0)" font-size="8.3" text-anchor="start" fill="#000" stroke="#000" stroke-width="0.2">|</text>
<path d="M617.00,320.50 h5.6 M617.00,322.50 h5.6" stroke="#000" stroke-width="0.8" fill="none"/>
<text transform="translate(624.90,324.85) scale(1.0,1.0)" font-size="8.1" text-anchor="start" fill="#000" stroke="#000" stroke-width="0.2">0.2</text>
<text transform="translate(636.15,324.85) scale(1.0,1.0)" font-size="8.1" text-anchor="start" fill="#000" stroke="#000" stroke-width="0.2">,</text>
<text transform="translate(641.05,324.85) scale(1.05,1.0)" font-size="8.4" text-anchor="start" font-style="italic" fill="#000" stroke="#000" stroke-width="0.2">ϕ</text>
<text transform="translate(645.85,326.35) scale(1.05,1.0)" font-size="5.9" text-anchor="start" font-style="italic" fill="#000" stroke="#000" stroke-width="0.2">w</text>
<path d="M652.45,320.50 h5.6 M652.45,322.50 h5.6" stroke="#000" stroke-width="0.8" fill="none"/>
<text transform="translate(661.75,321.55) scale(1.0,1.0)" font-size="6.0" text-anchor="middle" font-style="italic" fill="#000" stroke="#000" stroke-width="0.2">π</text>
<line x1="659.75" y1="322.40" x2="663.75" y2="322.40" stroke="#000" stroke-width="0.55"/>
<text transform="translate(661.75,327.65) scale(1.0,1.0)" font-size="5.6" text-anchor="middle" fill="#000" stroke="#000" stroke-width="0.2">2</text>
<text transform="translate(601.70,338.55) scale(1.0,1.0)" font-size="8.3" text-anchor="start" fill="#000" stroke="#000" stroke-width="0.2">|</text>
<text transform="translate(603.80,338.55) scale(0.95,1.0)" font-size="8.8" text-anchor="start" font-style="italic" fill="#000" stroke="#000" stroke-width="0.2">C</text>
<text transform="translate(609.50,336.15) scale(1.0,1.0)" font-size="6.5" text-anchor="start" fill="#000" stroke="#000" stroke-width="0.2">′</text>
<text transform="translate(609.10,340.35) scale(1.0,1.0)" font-size="6.0" text-anchor="start" fill="#000" stroke="#000" stroke-width="0.2">7</text>
<text transform="translate(613.40,338.55) scale(1.0,1.0)" font-size="8.3" text-anchor="start" fill="#000" stroke="#000" stroke-width="0.2">|</text>
<path d="M617.00,334.50 h5.6 M617.00,336.50 h5.6" stroke="#000" stroke-width="0.8" fill="none"/>
<text transform="translate(624.90,338.55) scale(1.0,1.0)" font-size="8.1" text-anchor="start" fill="#000" stroke="#000" stroke-width="0.2">0.2</text>
<text transform="translate(636.15,338.55) scale(1.0,1.0)" font-size="8.1" text-anchor="start" fill="#000" stroke="#000" stroke-width="0.2">,</text>
<text transform="translate(641.05,338.55) scale(1.05,1.0)" font-size="8.4" text-anchor="start" font-style="italic" fill="#000" stroke="#000" stroke-width="0.2">ϕ</text>
<text transform="translate(645.85,340.05) scale(1.05,1.0)" font-size="5.9" text-anchor="start" font-style="italic" fill="#000" stroke="#000" stroke-width="0.2">w</text>
<path d="M652.45,334.50 h5.6 M652.45,336.50 h5.6" stroke="#000" stroke-width="0.8" fill="none"/>
<path d="M662.85,335.70 h5.0" stroke="#000" stroke-width="0.85" fill="none"/>
<text transform="translate(671.25,335.25) scale(1.0,1.0)" font-size="6.0" text-anchor="middle" font-style="italic" fill="#000" stroke="#000" stroke-width="0.2">π</text>
<line x1="669.25" y1="336.10" x2="673.25" y2="336.10" stroke="#000" stroke-width="0.55"/>
<text transform="translate(671.25,341.35) scale(1.0,1.0)" font-size="5.6" text-anchor="middle" fill="#000" stroke="#000" stroke-width="0.2">2</text>
</g>
</svg>
</div>
</body></html>
